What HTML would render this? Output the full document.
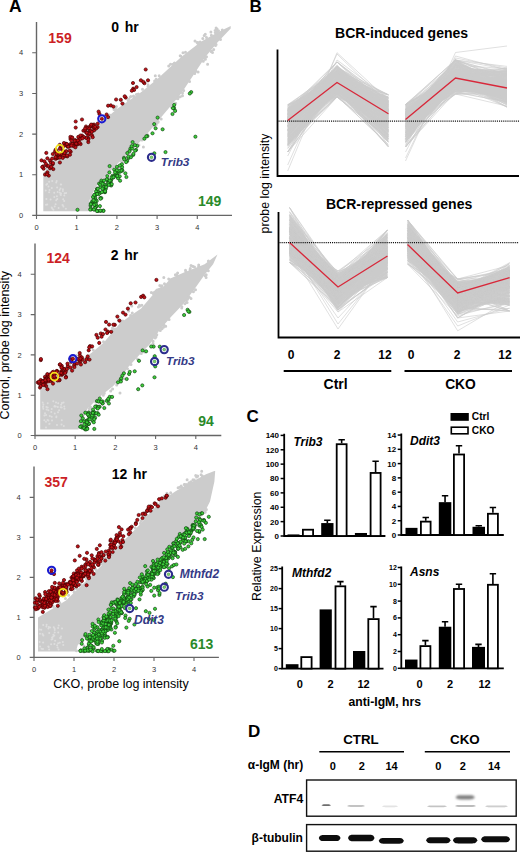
<!DOCTYPE html>
<html><head><meta charset="utf-8"><style>
html,body{margin:0;padding:0;background:#fff;}
svg{display:block;}
</style></head><body>
<svg width="520" height="853" viewBox="0 0 520 853">
<rect width="520" height="853" fill="#fff"/>
<g font-family='"Liberation Sans", sans-serif'>
<text x="9.00" y="11.90" font-size="17.5" font-weight="bold" fill="#000">A</text>
<text x="249.60" y="12.20" font-size="17" font-weight="bold" fill="#000">B</text>
<text x="246.40" y="421.50" font-size="17" font-weight="bold" fill="#000">C</text>
<text x="248.00" y="736.80" font-size="17" font-weight="bold" fill="#000">D</text>
<path d="M36.50 22.00V215.40H232.00" fill="none" stroke="#666" stroke-width="1.4"/>
<path d="M32.20 215.40H36.50M36.50 215.40V219.00" stroke="#666" stroke-width="1.1"/>
<text x="21.00" y="218.00" font-size="7.5" text-anchor="middle" fill="#333">0</text>
<text x="36.50" y="230.20" font-size="7.5" text-anchor="middle" fill="#333">0</text>
<path d="M32.20 174.75H36.50M76.70 215.40V219.00" stroke="#666" stroke-width="1.1"/>
<text x="21.00" y="177.35" font-size="7.5" text-anchor="middle" fill="#333">1</text>
<text x="76.70" y="230.20" font-size="7.5" text-anchor="middle" fill="#333">1</text>
<path d="M32.20 134.10H36.50M116.90 215.40V219.00" stroke="#666" stroke-width="1.1"/>
<text x="21.00" y="136.70" font-size="7.5" text-anchor="middle" fill="#333">2</text>
<text x="116.90" y="230.20" font-size="7.5" text-anchor="middle" fill="#333">2</text>
<path d="M32.20 93.45H36.50M157.10 215.40V219.00" stroke="#666" stroke-width="1.1"/>
<text x="21.00" y="96.05" font-size="7.5" text-anchor="middle" fill="#333">3</text>
<text x="157.10" y="230.20" font-size="7.5" text-anchor="middle" fill="#333">3</text>
<path d="M32.20 52.80H36.50M197.30 215.40V219.00" stroke="#666" stroke-width="1.1"/>
<text x="21.00" y="55.40" font-size="7.5" text-anchor="middle" fill="#333">4</text>
<text x="197.30" y="230.20" font-size="7.5" text-anchor="middle" fill="#333">4</text>
<path d="M43.3 211.3 L43.3 172.7 L60.6 157.7 L84.7 136.9 L116.9 108.9 L141.0 92.2 L157.1 79.2 L181.2 56.9 L201.3 41.4 L217.4 32.5 L230.7 26.0 L230.7 28.4 L217.4 42.6 L205.3 56.9 L193.3 75.2 L181.2 93.5 L169.2 107.7 L157.1 121.9 L147.1 134.1 L135.4 146.7 L123.7 157.3 L113.7 167.8 L103.2 178.0 L95.2 187.4 L89.6 200.0 L88.8 211.3Z" fill="#cccccc"/>
<path d="M69.7 148.2a1.5 1.5 0 1 0 3 0a1.5 1.5 0 1 0-3 0M120.7 162.0a1.5 1.5 0 1 0 3 0a1.5 1.5 0 1 0-3 0M58.1 145.1a1.5 1.5 0 1 0 3 0a1.5 1.5 0 1 0-3 0M103.3 118.1a1.5 1.5 0 1 0 3 0a1.5 1.5 0 1 0-3 0M80.0 139.0a1.5 1.5 0 1 0 3 0a1.5 1.5 0 1 0-3 0M214.6 28.0a1.5 1.5 0 1 0 3 0a1.5 1.5 0 1 0-3 0M142.3 138.1a1.5 1.5 0 1 0 3 0a1.5 1.5 0 1 0-3 0M65.8 150.8a1.5 1.5 0 1 0 3 0a1.5 1.5 0 1 0-3 0M181.0 95.7a1.5 1.5 0 1 0 3 0a1.5 1.5 0 1 0-3 0M85.9 131.0a1.5 1.5 0 1 0 3 0a1.5 1.5 0 1 0-3 0M203.8 34.2a1.5 1.5 0 1 0 3 0a1.5 1.5 0 1 0-3 0M171.0 105.5a1.5 1.5 0 1 0 3 0a1.5 1.5 0 1 0-3 0M95.2 187.4a1.5 1.5 0 1 0 3 0a1.5 1.5 0 1 0-3 0M108.2 114.9a1.5 1.5 0 1 0 3 0a1.5 1.5 0 1 0-3 0M188.1 81.6a1.5 1.5 0 1 0 3 0a1.5 1.5 0 1 0-3 0M205.0 56.7a1.5 1.5 0 1 0 3 0a1.5 1.5 0 1 0-3 0M134.9 94.4a1.5 1.5 0 1 0 3 0a1.5 1.5 0 1 0-3 0M196.5 43.4a1.5 1.5 0 1 0 3 0a1.5 1.5 0 1 0-3 0M169.0 64.2a1.5 1.5 0 1 0 3 0a1.5 1.5 0 1 0-3 0M98.8 182.3a1.5 1.5 0 1 0 3 0a1.5 1.5 0 1 0-3 0M176.6 97.3a1.5 1.5 0 1 0 3 0a1.5 1.5 0 1 0-3 0M171.5 64.2a1.5 1.5 0 1 0 3 0a1.5 1.5 0 1 0-3 0M209.9 35.2a1.5 1.5 0 1 0 3 0a1.5 1.5 0 1 0-3 0M128.4 154.5a1.5 1.5 0 1 0 3 0a1.5 1.5 0 1 0-3 0M198.6 41.9a1.5 1.5 0 1 0 3 0a1.5 1.5 0 1 0-3 0M65.7 147.7a1.5 1.5 0 1 0 3 0a1.5 1.5 0 1 0-3 0M115.1 166.6a1.5 1.5 0 1 0 3 0a1.5 1.5 0 1 0-3 0M88.4 132.2a1.5 1.5 0 1 0 3 0a1.5 1.5 0 1 0-3 0M117.0 167.4a1.5 1.5 0 1 0 3 0a1.5 1.5 0 1 0-3 0M90.0 198.9a1.5 1.5 0 1 0 3 0a1.5 1.5 0 1 0-3 0M220.8 29.9a1.5 1.5 0 1 0 3 0a1.5 1.5 0 1 0-3 0M209.9 51.3a1.5 1.5 0 1 0 3 0a1.5 1.5 0 1 0-3 0M85.0 133.9a1.5 1.5 0 1 0 3 0a1.5 1.5 0 1 0-3 0M154.9 123.6a1.5 1.5 0 1 0 3 0a1.5 1.5 0 1 0-3 0M106.4 176.6a1.5 1.5 0 1 0 3 0a1.5 1.5 0 1 0-3 0M217.0 30.8a1.5 1.5 0 1 0 3 0a1.5 1.5 0 1 0-3 0M106.3 176.2a1.5 1.5 0 1 0 3 0a1.5 1.5 0 1 0-3 0M174.2 103.3a1.5 1.5 0 1 0 3 0a1.5 1.5 0 1 0-3 0M74.8 142.9a1.5 1.5 0 1 0 3 0a1.5 1.5 0 1 0-3 0M193.2 73.5a1.5 1.5 0 1 0 3 0a1.5 1.5 0 1 0-3 0M154.7 124.7a1.5 1.5 0 1 0 3 0a1.5 1.5 0 1 0-3 0M63.5 151.9a1.5 1.5 0 1 0 3 0a1.5 1.5 0 1 0-3 0M146.5 84.8a1.5 1.5 0 1 0 3 0a1.5 1.5 0 1 0-3 0M196.4 42.6a1.5 1.5 0 1 0 3 0a1.5 1.5 0 1 0-3 0M122.1 103.7a1.5 1.5 0 1 0 3 0a1.5 1.5 0 1 0-3 0M154.7 79.2a1.5 1.5 0 1 0 3 0a1.5 1.5 0 1 0-3 0M215.1 32.8a1.5 1.5 0 1 0 3 0a1.5 1.5 0 1 0-3 0M212.2 49.6a1.5 1.5 0 1 0 3 0a1.5 1.5 0 1 0-3 0M201.3 38.6a1.5 1.5 0 1 0 3 0a1.5 1.5 0 1 0-3 0M206.1 64.3a1.5 1.5 0 1 0 3 0a1.5 1.5 0 1 0-3 0M93.8 187.6a1.5 1.5 0 1 0 3 0a1.5 1.5 0 1 0-3 0M141.0 89.2a1.5 1.5 0 1 0 3 0a1.5 1.5 0 1 0-3 0M53.1 161.6a1.5 1.5 0 1 0 3 0a1.5 1.5 0 1 0-3 0M203.9 56.8a1.5 1.5 0 1 0 3 0a1.5 1.5 0 1 0-3 0M214.6 44.4a1.5 1.5 0 1 0 3 0a1.5 1.5 0 1 0-3 0M45.8 168.7a1.5 1.5 0 1 0 3 0a1.5 1.5 0 1 0-3 0M65.1 151.0a1.5 1.5 0 1 0 3 0a1.5 1.5 0 1 0-3 0M209.4 32.1a1.5 1.5 0 1 0 3 0a1.5 1.5 0 1 0-3 0M104.7 178.6a1.5 1.5 0 1 0 3 0a1.5 1.5 0 1 0-3 0M58.4 155.1a1.5 1.5 0 1 0 3 0a1.5 1.5 0 1 0-3 0M91.3 195.9a1.5 1.5 0 1 0 3 0a1.5 1.5 0 1 0-3 0M205.0 37.4a1.5 1.5 0 1 0 3 0a1.5 1.5 0 1 0-3 0M193.5 40.9a1.5 1.5 0 1 0 3 0a1.5 1.5 0 1 0-3 0M132.0 96.0a1.5 1.5 0 1 0 3 0a1.5 1.5 0 1 0-3 0M78.3 141.0a1.5 1.5 0 1 0 3 0a1.5 1.5 0 1 0-3 0M203.7 58.5a1.5 1.5 0 1 0 3 0a1.5 1.5 0 1 0-3 0M48.7 165.9a1.5 1.5 0 1 0 3 0a1.5 1.5 0 1 0-3 0M60.3 155.7a1.5 1.5 0 1 0 3 0a1.5 1.5 0 1 0-3 0M153.1 80.9a1.5 1.5 0 1 0 3 0a1.5 1.5 0 1 0-3 0M50.8 157.7a1.5 1.5 0 1 0 3 0a1.5 1.5 0 1 0-3 0M184.0 52.2a1.5 1.5 0 1 0 3 0a1.5 1.5 0 1 0-3 0M145.8 134.4a1.5 1.5 0 1 0 3 0a1.5 1.5 0 1 0-3 0M114.3 106.9a1.5 1.5 0 1 0 3 0a1.5 1.5 0 1 0-3 0M181.0 93.1a1.5 1.5 0 1 0 3 0a1.5 1.5 0 1 0-3 0M132.3 97.0a1.5 1.5 0 1 0 3 0a1.5 1.5 0 1 0-3 0M153.0 125.9a1.5 1.5 0 1 0 3 0a1.5 1.5 0 1 0-3 0M103.2 178.5a1.5 1.5 0 1 0 3 0a1.5 1.5 0 1 0-3 0M201.8 61.3a1.5 1.5 0 1 0 3 0a1.5 1.5 0 1 0-3 0M196.6 71.9a1.5 1.5 0 1 0 3 0a1.5 1.5 0 1 0-3 0M211.0 52.5a1.5 1.5 0 1 0 3 0a1.5 1.5 0 1 0-3 0M167.2 66.0a1.5 1.5 0 1 0 3 0a1.5 1.5 0 1 0-3 0M128.8 96.9a1.5 1.5 0 1 0 3 0a1.5 1.5 0 1 0-3 0M141.9 147.0a1.5 1.5 0 1 0 3 0a1.5 1.5 0 1 0-3 0M76.2 142.2a1.5 1.5 0 1 0 3 0a1.5 1.5 0 1 0-3 0M159.7 118.9a1.5 1.5 0 1 0 3 0a1.5 1.5 0 1 0-3 0M219.0 39.6a1.5 1.5 0 1 0 3 0a1.5 1.5 0 1 0-3 0M215.6 29.0a1.5 1.5 0 1 0 3 0a1.5 1.5 0 1 0-3 0M176.4 98.8a1.5 1.5 0 1 0 3 0a1.5 1.5 0 1 0-3 0M215.1 31.0a1.5 1.5 0 1 0 3 0a1.5 1.5 0 1 0-3 0M94.8 125.8a1.5 1.5 0 1 0 3 0a1.5 1.5 0 1 0-3 0M156.6 122.3a1.5 1.5 0 1 0 3 0a1.5 1.5 0 1 0-3 0M157.7 75.7a1.5 1.5 0 1 0 3 0a1.5 1.5 0 1 0-3 0M114.9 106.5a1.5 1.5 0 1 0 3 0a1.5 1.5 0 1 0-3 0M213.6 30.4a1.5 1.5 0 1 0 3 0a1.5 1.5 0 1 0-3 0M179.2 56.1a1.5 1.5 0 1 0 3 0a1.5 1.5 0 1 0-3 0M136.8 93.9a1.5 1.5 0 1 0 3 0a1.5 1.5 0 1 0-3 0M169.9 107.0a1.5 1.5 0 1 0 3 0a1.5 1.5 0 1 0-3 0M47.5 166.1a1.5 1.5 0 1 0 3 0a1.5 1.5 0 1 0-3 0M47.4 167.1a1.5 1.5 0 1 0 3 0a1.5 1.5 0 1 0-3 0M209.6 51.5a1.5 1.5 0 1 0 3 0a1.5 1.5 0 1 0-3 0M213.7 32.6a1.5 1.5 0 1 0 3 0a1.5 1.5 0 1 0-3 0M112.5 109.4a1.5 1.5 0 1 0 3 0a1.5 1.5 0 1 0-3 0M156.7 121.4a1.5 1.5 0 1 0 3 0a1.5 1.5 0 1 0-3 0M121.5 160.9a1.5 1.5 0 1 0 3 0a1.5 1.5 0 1 0-3 0M178.7 55.8a1.5 1.5 0 1 0 3 0a1.5 1.5 0 1 0-3 0M114.6 109.5a1.5 1.5 0 1 0 3 0a1.5 1.5 0 1 0-3 0M137.4 145.1a1.5 1.5 0 1 0 3 0a1.5 1.5 0 1 0-3 0M203.9 59.3a1.5 1.5 0 1 0 3 0a1.5 1.5 0 1 0-3 0M202.7 35.5a1.5 1.5 0 1 0 3 0a1.5 1.5 0 1 0-3 0M194.4 71.3a1.5 1.5 0 1 0 3 0a1.5 1.5 0 1 0-3 0M135.7 146.8a1.5 1.5 0 1 0 3 0a1.5 1.5 0 1 0-3 0M90.9 127.4a1.5 1.5 0 1 0 3 0a1.5 1.5 0 1 0-3 0M122.2 157.5a1.5 1.5 0 1 0 3 0a1.5 1.5 0 1 0-3 0M127.3 99.2a1.5 1.5 0 1 0 3 0a1.5 1.5 0 1 0-3 0M153.8 75.7a1.5 1.5 0 1 0 3 0a1.5 1.5 0 1 0-3 0M97.0 183.5a1.5 1.5 0 1 0 3 0a1.5 1.5 0 1 0-3 0M146.4 86.0a1.5 1.5 0 1 0 3 0a1.5 1.5 0 1 0-3 0M129.3 96.6a1.5 1.5 0 1 0 3 0a1.5 1.5 0 1 0-3 0M174.1 110.0a1.5 1.5 0 1 0 3 0a1.5 1.5 0 1 0-3 0M102.0 120.2a1.5 1.5 0 1 0 3 0a1.5 1.5 0 1 0-3 0M119.3 161.0a1.5 1.5 0 1 0 3 0a1.5 1.5 0 1 0-3 0M126.6 100.4a1.5 1.5 0 1 0 3 0a1.5 1.5 0 1 0-3 0M170.1 107.6a1.5 1.5 0 1 0 3 0a1.5 1.5 0 1 0-3 0M114.0 109.3a1.5 1.5 0 1 0 3 0a1.5 1.5 0 1 0-3 0M125.1 157.2a1.5 1.5 0 1 0 3 0a1.5 1.5 0 1 0-3 0M182.2 90.6a1.5 1.5 0 1 0 3 0a1.5 1.5 0 1 0-3 0M175.5 98.5a1.5 1.5 0 1 0 3 0a1.5 1.5 0 1 0-3 0M140.4 140.0a1.5 1.5 0 1 0 3 0a1.5 1.5 0 1 0-3 0M181.5 52.7a1.5 1.5 0 1 0 3 0a1.5 1.5 0 1 0-3 0M195.6 42.4a1.5 1.5 0 1 0 3 0a1.5 1.5 0 1 0-3 0M76.0 143.1a1.5 1.5 0 1 0 3 0a1.5 1.5 0 1 0-3 0M214.0 45.6a1.5 1.5 0 1 0 3 0a1.5 1.5 0 1 0-3 0M178.7 96.7a1.5 1.5 0 1 0 3 0a1.5 1.5 0 1 0-3 0M173.0 63.1a1.5 1.5 0 1 0 3 0a1.5 1.5 0 1 0-3 0M88.4 130.5a1.5 1.5 0 1 0 3 0a1.5 1.5 0 1 0-3 0" fill="#cccccc"/>
<path d="M46.2 204.4a1 1 0 1 0 2 0a1 1 0 1 0-2 0M52.4 209.7a1 1 0 1 0 2 0a1 1 0 1 0-2 0M61.5 205.0a1 1 0 1 0 2 0a1 1 0 1 0-2 0M63.6 193.3a1 1 0 1 0 2 0a1 1 0 1 0-2 0M50.7 207.6a1 1 0 1 0 2 0a1 1 0 1 0-2 0M57.6 208.0a1 1 0 1 0 2 0a1 1 0 1 0-2 0M51.2 180.9a1 1 0 1 0 2 0a1 1 0 1 0-2 0M61.9 189.2a1 1 0 1 0 2 0a1 1 0 1 0-2 0M56.6 191.9a1 1 0 1 0 2 0a1 1 0 1 0-2 0M60.1 184.4a1 1 0 1 0 2 0a1 1 0 1 0-2 0M46.1 183.9a1 1 0 1 0 2 0a1 1 0 1 0-2 0M65.1 192.9a1 1 0 1 0 2 0a1 1 0 1 0-2 0M51.1 208.2a1 1 0 1 0 2 0a1 1 0 1 0-2 0M51.4 208.7a1 1 0 1 0 2 0a1 1 0 1 0-2 0M58.7 192.5a1 1 0 1 0 2 0a1 1 0 1 0-2 0M59.8 184.6a1 1 0 1 0 2 0a1 1 0 1 0-2 0M50.8 188.1a1 1 0 1 0 2 0a1 1 0 1 0-2 0M60.0 193.6a1 1 0 1 0 2 0a1 1 0 1 0-2 0M45.3 184.7a1 1 0 1 0 2 0a1 1 0 1 0-2 0M55.9 196.3a1 1 0 1 0 2 0a1 1 0 1 0-2 0M62.4 206.4a1 1 0 1 0 2 0a1 1 0 1 0-2 0M44.7 190.5a1 1 0 1 0 2 0a1 1 0 1 0-2 0M59.5 194.4a1 1 0 1 0 2 0a1 1 0 1 0-2 0M56.1 187.4a1 1 0 1 0 2 0a1 1 0 1 0-2 0M61.9 191.0a1 1 0 1 0 2 0a1 1 0 1 0-2 0M59.9 195.0a1 1 0 1 0 2 0a1 1 0 1 0-2 0M47.5 186.6a1 1 0 1 0 2 0a1 1 0 1 0-2 0M45.0 204.8a1 1 0 1 0 2 0a1 1 0 1 0-2 0M56.3 199.1a1 1 0 1 0 2 0a1 1 0 1 0-2 0M63.2 201.0a1 1 0 1 0 2 0a1 1 0 1 0-2 0M54.6 204.3a1 1 0 1 0 2 0a1 1 0 1 0-2 0M62.2 199.3a1 1 0 1 0 2 0a1 1 0 1 0-2 0M59.5 188.5a1 1 0 1 0 2 0a1 1 0 1 0-2 0M53.7 206.4a1 1 0 1 0 2 0a1 1 0 1 0-2 0M64.9 208.7a1 1 0 1 0 2 0a1 1 0 1 0-2 0M61.9 205.2a1 1 0 1 0 2 0a1 1 0 1 0-2 0M53.3 196.9a1 1 0 1 0 2 0a1 1 0 1 0-2 0M53.2 192.7a1 1 0 1 0 2 0a1 1 0 1 0-2 0M58.6 190.1a1 1 0 1 0 2 0a1 1 0 1 0-2 0M45.4 199.0a1 1 0 1 0 2 0a1 1 0 1 0-2 0M48.1 181.8a1 1 0 1 0 2 0a1 1 0 1 0-2 0M55.7 181.1a1 1 0 1 0 2 0a1 1 0 1 0-2 0M48.5 189.9a1 1 0 1 0 2 0a1 1 0 1 0-2 0M55.2 200.2a1 1 0 1 0 2 0a1 1 0 1 0-2 0M48.1 192.3a1 1 0 1 0 2 0a1 1 0 1 0-2 0M63.3 195.5a1 1 0 1 0 2 0a1 1 0 1 0-2 0M55.2 182.4a1 1 0 1 0 2 0a1 1 0 1 0-2 0M49.6 199.5a1 1 0 1 0 2 0a1 1 0 1 0-2 0" fill="#dedede"/>
<g fill="#be1016" stroke="#480000" stroke-width="0.7"><circle cx="110.8" cy="105.4" r="1.6"/><circle cx="62.8" cy="150.6" r="1.6"/><circle cx="77.7" cy="140.8" r="1.6"/><circle cx="70.7" cy="151.7" r="1.6"/><circle cx="75.7" cy="127.6" r="1.6"/><circle cx="50.0" cy="160.7" r="1.6"/><circle cx="74.3" cy="143.6" r="1.6"/><circle cx="82.1" cy="135.6" r="1.6"/><circle cx="133.0" cy="83.0" r="1.6"/><circle cx="67.3" cy="156.4" r="1.6"/><circle cx="88.3" cy="142.1" r="1.6"/><circle cx="46.9" cy="165.8" r="1.6"/><circle cx="75.1" cy="140.1" r="1.6"/><circle cx="144.4" cy="83.2" r="1.6"/><circle cx="75.7" cy="121.5" r="1.6"/><circle cx="88.2" cy="135.0" r="1.6"/><circle cx="70.0" cy="154.7" r="1.6"/><circle cx="48.8" cy="175.6" r="1.6"/><circle cx="86.0" cy="126.5" r="1.6"/><circle cx="64.3" cy="153.6" r="1.6"/><circle cx="113.4" cy="106.6" r="1.6"/><circle cx="55.6" cy="149.8" r="1.6"/><circle cx="52.6" cy="164.3" r="1.6"/><circle cx="91.6" cy="125.6" r="1.6"/><circle cx="47.4" cy="158.3" r="1.6"/><circle cx="125.7" cy="97.6" r="1.6"/><circle cx="56.7" cy="155.9" r="1.6"/><circle cx="46.3" cy="152.9" r="1.6"/><circle cx="108.1" cy="117.1" r="1.6"/><circle cx="78.3" cy="136.9" r="1.6"/><circle cx="97.6" cy="127.1" r="1.6"/><circle cx="89.4" cy="127.0" r="1.6"/><circle cx="56.2" cy="158.2" r="1.6"/><circle cx="80.6" cy="144.1" r="1.6"/><circle cx="143.2" cy="81.8" r="1.6"/><circle cx="86.8" cy="128.1" r="1.6"/><circle cx="47.4" cy="172.3" r="1.6"/><circle cx="73.1" cy="144.7" r="1.6"/><circle cx="89.4" cy="128.6" r="1.6"/><circle cx="71.9" cy="137.5" r="1.6"/><circle cx="88.5" cy="138.4" r="1.6"/><circle cx="83.4" cy="130.7" r="1.6"/><circle cx="56.4" cy="158.4" r="1.6"/><circle cx="60.2" cy="156.2" r="1.6"/><circle cx="106.6" cy="114.5" r="1.6"/><circle cx="59.8" cy="144.8" r="1.6"/><circle cx="48.4" cy="165.9" r="1.6"/><circle cx="45.1" cy="174.6" r="1.6"/><circle cx="95.5" cy="127.8" r="1.6"/><circle cx="59.9" cy="162.5" r="1.6"/><circle cx="92.9" cy="124.8" r="1.6"/><circle cx="133.2" cy="88.7" r="1.6"/><circle cx="43.2" cy="166.4" r="1.6"/><circle cx="89.9" cy="130.9" r="1.6"/><circle cx="77.2" cy="144.5" r="1.6"/><circle cx="99.4" cy="113.9" r="1.6"/><circle cx="64.2" cy="153.9" r="1.6"/><circle cx="68.0" cy="145.2" r="1.6"/><circle cx="98.6" cy="111.6" r="1.6"/><circle cx="80.8" cy="137.9" r="1.6"/><circle cx="50.1" cy="168.3" r="1.6"/><circle cx="70.5" cy="138.9" r="1.6"/><circle cx="94.1" cy="130.3" r="1.6"/><circle cx="94.5" cy="127.2" r="1.6"/><circle cx="80.2" cy="139.1" r="1.6"/><circle cx="67.3" cy="146.4" r="1.6"/><circle cx="94.1" cy="124.6" r="1.6"/><circle cx="60.8" cy="154.1" r="1.6"/><circle cx="75.9" cy="144.2" r="1.6"/><circle cx="92.2" cy="126.2" r="1.6"/><circle cx="67.6" cy="145.8" r="1.6"/><circle cx="64.4" cy="152.1" r="1.6"/><circle cx="43.6" cy="168.7" r="1.6"/><circle cx="89.2" cy="133.5" r="1.6"/><circle cx="80.5" cy="135.5" r="1.6"/><circle cx="55.5" cy="158.7" r="1.6"/><circle cx="65.8" cy="143.7" r="1.6"/><circle cx="63.9" cy="143.0" r="1.6"/><circle cx="41.5" cy="160.4" r="1.6"/><circle cx="85.4" cy="130.5" r="1.6"/><circle cx="53.3" cy="169.1" r="1.6"/><circle cx="116.1" cy="99.5" r="1.6"/><circle cx="93.8" cy="128.1" r="1.6"/><circle cx="90.6" cy="130.9" r="1.6"/><circle cx="90.8" cy="125.6" r="1.6"/><circle cx="93.7" cy="126.0" r="1.6"/><circle cx="57.9" cy="157.8" r="1.6"/><circle cx="91.2" cy="124.6" r="1.6"/><circle cx="55.0" cy="151.6" r="1.6"/><circle cx="82.0" cy="119.5" r="1.6"/><circle cx="63.9" cy="145.9" r="1.6"/><circle cx="88.2" cy="139.5" r="1.6"/><circle cx="124.7" cy="96.3" r="1.6"/><circle cx="72.8" cy="145.0" r="1.6"/><circle cx="73.3" cy="144.0" r="1.6"/><circle cx="74.8" cy="140.7" r="1.6"/><circle cx="86.1" cy="137.9" r="1.6"/><circle cx="66.1" cy="144.4" r="1.6"/><circle cx="134.1" cy="89.9" r="1.6"/><circle cx="45.9" cy="163.8" r="1.6"/><circle cx="70.3" cy="145.3" r="1.6"/><circle cx="92.0" cy="135.4" r="1.6"/><circle cx="108.1" cy="105.7" r="1.6"/><circle cx="86.2" cy="132.5" r="1.6"/><circle cx="51.0" cy="162.7" r="1.6"/><circle cx="66.2" cy="151.2" r="1.6"/><circle cx="64.8" cy="156.2" r="1.6"/><circle cx="69.7" cy="150.7" r="1.6"/><circle cx="56.2" cy="157.4" r="1.6"/><circle cx="60.6" cy="148.0" r="1.6"/><circle cx="120.8" cy="99.8" r="1.6"/><circle cx="52.1" cy="158.7" r="1.6"/><circle cx="56.8" cy="151.4" r="1.6"/><circle cx="53.0" cy="163.1" r="1.6"/><circle cx="140.9" cy="80.3" r="1.6"/><circle cx="77.4" cy="144.0" r="1.6"/><circle cx="68.9" cy="146.6" r="1.6"/><circle cx="96.1" cy="128.5" r="1.6"/><circle cx="51.2" cy="166.9" r="1.6"/><circle cx="83.9" cy="137.0" r="1.6"/><circle cx="70.4" cy="136.9" r="1.6"/><circle cx="68.2" cy="146.6" r="1.6"/><circle cx="64.0" cy="155.4" r="1.6"/><circle cx="76.2" cy="143.7" r="1.6"/><circle cx="79.5" cy="142.7" r="1.6"/><circle cx="44.4" cy="161.3" r="1.6"/><circle cx="64.6" cy="153.0" r="1.6"/><circle cx="131.8" cy="90.7" r="1.6"/><circle cx="122.4" cy="103.6" r="1.6"/><circle cx="67.0" cy="155.5" r="1.6"/><circle cx="85.1" cy="128.5" r="1.6"/><circle cx="73.5" cy="146.1" r="1.6"/><circle cx="70.8" cy="143.8" r="1.6"/><circle cx="75.4" cy="147.3" r="1.6"/><circle cx="62.7" cy="157.9" r="1.6"/><circle cx="82.4" cy="138.3" r="1.6"/><circle cx="42.2" cy="167.0" r="1.6"/><circle cx="72.2" cy="144.0" r="1.6"/><circle cx="94.3" cy="127.3" r="1.6"/><circle cx="57.4" cy="153.9" r="1.6"/><circle cx="52.8" cy="154.0" r="1.6"/><circle cx="55.4" cy="157.1" r="1.6"/><circle cx="59.3" cy="153.7" r="1.6"/><circle cx="71.4" cy="145.6" r="1.6"/><circle cx="47.0" cy="174.3" r="1.6"/><circle cx="56.5" cy="153.7" r="1.6"/><circle cx="97.7" cy="123.6" r="1.6"/><circle cx="95.2" cy="126.7" r="1.6"/><circle cx="145.7" cy="69.5" r="1.6"/><circle cx="91.8" cy="131.9" r="1.6"/><circle cx="71.4" cy="140.5" r="1.6"/><circle cx="86.7" cy="132.8" r="1.6"/><circle cx="59.8" cy="157.6" r="1.6"/><circle cx="77.8" cy="140.3" r="1.6"/><circle cx="72.2" cy="137.6" r="1.6"/><circle cx="66.9" cy="144.0" r="1.6"/><circle cx="92.7" cy="137.2" r="1.6"/><circle cx="148.0" cy="80.3" r="1.6"/><circle cx="136.6" cy="87.1" r="1.6"/></g>
<g fill="#3cd03a" stroke="#0e3e0e" stroke-width="0.65"><circle cx="93.0" cy="202.4" r="1.6"/><circle cx="95.4" cy="201.1" r="1.6"/><circle cx="117.5" cy="173.4" r="1.6"/><circle cx="113.4" cy="177.4" r="1.6"/><circle cx="122.4" cy="170.6" r="1.6"/><circle cx="99.3" cy="193.2" r="1.6"/><circle cx="124.0" cy="157.8" r="1.6"/><circle cx="100.3" cy="192.8" r="1.6"/><circle cx="111.2" cy="179.8" r="1.6"/><circle cx="105.0" cy="192.2" r="1.6"/><circle cx="125.4" cy="173.3" r="1.6"/><circle cx="95.2" cy="197.4" r="1.6"/><circle cx="136.1" cy="149.9" r="1.6"/><circle cx="90.6" cy="205.7" r="1.6"/><circle cx="112.4" cy="175.9" r="1.6"/><circle cx="121.9" cy="169.5" r="1.6"/><circle cx="195.4" cy="136.7" r="1.6"/><circle cx="92.0" cy="201.7" r="1.6"/><circle cx="91.4" cy="209.3" r="1.6"/><circle cx="132.6" cy="142.1" r="1.6"/><circle cx="104.8" cy="192.0" r="1.6"/><circle cx="191.2" cy="92.1" r="1.6"/><circle cx="95.7" cy="199.7" r="1.6"/><circle cx="114.7" cy="175.6" r="1.6"/><circle cx="174.0" cy="107.9" r="1.6"/><circle cx="90.9" cy="203.7" r="1.6"/><circle cx="104.8" cy="184.7" r="1.6"/><circle cx="107.3" cy="179.8" r="1.6"/><circle cx="133.2" cy="154.9" r="1.6"/><circle cx="111.2" cy="185.5" r="1.6"/><circle cx="147.4" cy="136.1" r="1.6"/><circle cx="120.1" cy="171.7" r="1.6"/><circle cx="113.4" cy="176.7" r="1.6"/><circle cx="157.6" cy="117.6" r="1.6"/><circle cx="116.0" cy="173.5" r="1.6"/><circle cx="103.3" cy="188.9" r="1.6"/><circle cx="98.7" cy="194.2" r="1.6"/><circle cx="97.8" cy="190.9" r="1.6"/><circle cx="93.3" cy="202.7" r="1.6"/><circle cx="90.8" cy="208.5" r="1.6"/><circle cx="102.5" cy="182.5" r="1.6"/><circle cx="122.1" cy="167.1" r="1.6"/><circle cx="128.4" cy="158.1" r="1.6"/><circle cx="130.9" cy="157.2" r="1.6"/><circle cx="130.4" cy="148.7" r="1.6"/><circle cx="110.6" cy="181.6" r="1.6"/><circle cx="97.0" cy="189.0" r="1.6"/><circle cx="109.6" cy="166.1" r="1.6"/><circle cx="117.4" cy="175.6" r="1.6"/><circle cx="98.0" cy="211.0" r="1.6"/><circle cx="108.1" cy="180.7" r="1.6"/><circle cx="93.5" cy="201.8" r="1.6"/><circle cx="108.6" cy="182.2" r="1.6"/><circle cx="94.2" cy="203.4" r="1.6"/><circle cx="110.6" cy="180.4" r="1.6"/><circle cx="132.1" cy="148.5" r="1.6"/><circle cx="103.4" cy="187.0" r="1.6"/><circle cx="96.7" cy="201.0" r="1.6"/><circle cx="110.5" cy="184.6" r="1.6"/><circle cx="105.7" cy="189.0" r="1.6"/><circle cx="108.2" cy="183.3" r="1.6"/><circle cx="105.7" cy="186.5" r="1.6"/><circle cx="111.7" cy="177.6" r="1.6"/><circle cx="120.1" cy="180.7" r="1.6"/><circle cx="95.9" cy="206.4" r="1.6"/><circle cx="154.3" cy="153.3" r="1.6"/><circle cx="128.3" cy="156.6" r="1.6"/><circle cx="174.2" cy="104.9" r="1.6"/><circle cx="95.8" cy="207.2" r="1.6"/><circle cx="95.4" cy="203.0" r="1.6"/><circle cx="119.7" cy="176.3" r="1.6"/><circle cx="137.2" cy="145.8" r="1.6"/><circle cx="101.9" cy="192.1" r="1.6"/><circle cx="96.0" cy="191.4" r="1.6"/><circle cx="94.4" cy="209.5" r="1.6"/><circle cx="134.9" cy="145.2" r="1.6"/><circle cx="165.5" cy="152.1" r="1.6"/><circle cx="101.4" cy="180.6" r="1.6"/><circle cx="90.2" cy="209.6" r="1.6"/><circle cx="106.8" cy="179.3" r="1.6"/><circle cx="99.1" cy="183.6" r="1.6"/><circle cx="104.0" cy="180.6" r="1.6"/><circle cx="95.8" cy="194.2" r="1.6"/><circle cx="116.9" cy="166.8" r="1.6"/><circle cx="94.6" cy="195.5" r="1.6"/><circle cx="144.4" cy="138.7" r="1.6"/><circle cx="175.1" cy="110.9" r="1.6"/><circle cx="162.6" cy="129.3" r="1.6"/><circle cx="135.1" cy="150.7" r="1.6"/><circle cx="107.3" cy="176.1" r="1.6"/><circle cx="108.4" cy="183.2" r="1.6"/><circle cx="97.0" cy="211.1" r="1.6"/><circle cx="121.1" cy="170.6" r="1.6"/><circle cx="100.4" cy="198.1" r="1.6"/><circle cx="101.3" cy="198.0" r="1.6"/><circle cx="97.1" cy="194.0" r="1.6"/><circle cx="94.9" cy="201.3" r="1.6"/><circle cx="108.8" cy="184.9" r="1.6"/><circle cx="101.0" cy="182.7" r="1.6"/><circle cx="118.6" cy="170.6" r="1.6"/><circle cx="152.5" cy="133.3" r="1.6"/><circle cx="121.9" cy="164.3" r="1.6"/><circle cx="100.5" cy="198.7" r="1.6"/><circle cx="93.0" cy="197.0" r="1.6"/><circle cx="96.5" cy="205.9" r="1.6"/><circle cx="105.1" cy="191.2" r="1.6"/><circle cx="103.4" cy="210.6" r="1.6"/><circle cx="118.0" cy="178.2" r="1.6"/><circle cx="131.6" cy="146.2" r="1.6"/><circle cx="95.8" cy="204.2" r="1.6"/><circle cx="172.5" cy="114.0" r="1.6"/><circle cx="146.3" cy="136.3" r="1.6"/><circle cx="113.5" cy="177.2" r="1.6"/><circle cx="133.4" cy="153.9" r="1.6"/><circle cx="77.5" cy="209.8" r="1.6"/><circle cx="119.8" cy="165.5" r="1.6"/><circle cx="111.8" cy="184.1" r="1.6"/><circle cx="114.2" cy="169.6" r="1.6"/><circle cx="103.4" cy="210.9" r="1.6"/><circle cx="154.2" cy="124.1" r="1.6"/><circle cx="173.0" cy="108.2" r="1.6"/><circle cx="116.8" cy="170.3" r="1.6"/><circle cx="99.9" cy="206.1" r="1.6"/><circle cx="90.8" cy="204.2" r="1.6"/><circle cx="100.4" cy="187.1" r="1.6"/><circle cx="127.2" cy="161.0" r="1.6"/><circle cx="94.3" cy="204.9" r="1.6"/><circle cx="126.1" cy="162.1" r="1.6"/><circle cx="189.8" cy="93.5" r="1.6"/><circle cx="106.2" cy="187.1" r="1.6"/><circle cx="115.0" cy="172.4" r="1.6"/><circle cx="129.5" cy="151.2" r="1.6"/><circle cx="94.3" cy="194.9" r="1.6"/><circle cx="93.6" cy="200.3" r="1.6"/><circle cx="100.6" cy="210.9" r="1.6"/><circle cx="155.6" cy="128.3" r="1.6"/><circle cx="117.3" cy="176.0" r="1.6"/><circle cx="127.3" cy="153.1" r="1.6"/><circle cx="100.3" cy="210.6" r="1.6"/><circle cx="95.1" cy="208.0" r="1.6"/><circle cx="102.4" cy="188.7" r="1.6"/><circle cx="109.7" cy="180.6" r="1.6"/><circle cx="100.2" cy="184.6" r="1.6"/><circle cx="126.4" cy="177.0" r="1.6"/><circle cx="109.4" cy="172.4" r="1.6"/><circle cx="102.6" cy="183.8" r="1.6"/><circle cx="97.8" cy="188.8" r="1.6"/><circle cx="124.2" cy="159.2" r="1.6"/><circle cx="93.9" cy="209.5" r="1.6"/></g>
<circle cx="59.8" cy="148.8" r="1.6" fill="#be1016" stroke="#480000" stroke-width="0.6"/>
<circle cx="59.8" cy="148.8" r="3.9" fill="none" stroke="#f2e21c" stroke-width="1.8"/>
<circle cx="101.8" cy="118.8" r="1.6" fill="#be1016" stroke="#480000" stroke-width="0.6"/>
<circle cx="101.8" cy="118.8" r="3.6" fill="none" stroke="#1a1ad0" stroke-width="2.1"/>
<circle cx="151.5" cy="157.3" r="1.4" fill="#7ad86a" stroke="#3a7a3a" stroke-width="0.5"/>
<circle cx="151.5" cy="157.3" r="3.6" fill="none" stroke="#2c2c8c" stroke-width="2.1"/>
<text x="160.80" y="165.90" font-size="11.8" font-weight="bold" font-style="italic" fill="#343a86">Trib3</text>
<path d="M35.00 243.50V435.50H221.30" fill="none" stroke="#666" stroke-width="1.4"/>
<path d="M30.70 435.50H35.00M35.00 435.50V439.10" stroke="#666" stroke-width="1.1"/>
<text x="19.50" y="438.10" font-size="7.5" text-anchor="middle" fill="#333">0</text>
<text x="35.00" y="450.30" font-size="7.5" text-anchor="middle" fill="#333">0</text>
<path d="M30.70 395.20H35.00M75.20 435.50V439.10" stroke="#666" stroke-width="1.1"/>
<text x="19.50" y="397.80" font-size="7.5" text-anchor="middle" fill="#333">1</text>
<text x="75.20" y="450.30" font-size="7.5" text-anchor="middle" fill="#333">1</text>
<path d="M30.70 354.90H35.00M115.40 435.50V439.10" stroke="#666" stroke-width="1.1"/>
<text x="19.50" y="357.50" font-size="7.5" text-anchor="middle" fill="#333">2</text>
<text x="115.40" y="450.30" font-size="7.5" text-anchor="middle" fill="#333">2</text>
<path d="M30.70 314.60H35.00M155.60 435.50V439.10" stroke="#666" stroke-width="1.1"/>
<text x="19.50" y="317.20" font-size="7.5" text-anchor="middle" fill="#333">3</text>
<text x="155.60" y="450.30" font-size="7.5" text-anchor="middle" fill="#333">3</text>
<path d="M30.70 274.30H35.00M195.80 435.50V439.10" stroke="#666" stroke-width="1.1"/>
<text x="19.50" y="276.90" font-size="7.5" text-anchor="middle" fill="#333">4</text>
<text x="195.80" y="450.30" font-size="7.5" text-anchor="middle" fill="#333">4</text>
<path d="M40.2 429.5 L40.2 390.0 L55.1 378.3 L72.0 366.2 L91.3 352.9 L103.7 342.8 L119.8 323.5 L128.7 317.0 L141.1 308.6 L154.0 293.6 L162.4 287.6 L170.9 278.3 L183.3 272.7 L204.6 264.2 L217.5 254.6 L217.5 254.6 L213.1 264.2 L204.6 274.7 L194.2 289.6 L183.3 304.1 L170.9 317.0 L160.0 329.5 L149.6 344.4 L141.1 352.9 L128.3 367.0 L121.0 377.5 L113.0 386.3 L103.7 393.6 L95.7 400.4 L87.7 408.5 L82.0 421.0 L78.4 429.5Z" fill="#cccccc"/>
<path d="M137.9 305.2a1.5 1.5 0 1 0 3 0a1.5 1.5 0 1 0-3 0M151.7 293.6a1.5 1.5 0 1 0 3 0a1.5 1.5 0 1 0-3 0M89.0 406.9a1.5 1.5 0 1 0 3 0a1.5 1.5 0 1 0-3 0M73.1 359.2a1.5 1.5 0 1 0 3 0a1.5 1.5 0 1 0-3 0M102.0 341.7a1.5 1.5 0 1 0 3 0a1.5 1.5 0 1 0-3 0M75.6 360.1a1.5 1.5 0 1 0 3 0a1.5 1.5 0 1 0-3 0M154.5 336.8a1.5 1.5 0 1 0 3 0a1.5 1.5 0 1 0-3 0M111.5 330.4a1.5 1.5 0 1 0 3 0a1.5 1.5 0 1 0-3 0M41.8 385.7a1.5 1.5 0 1 0 3 0a1.5 1.5 0 1 0-3 0M158.6 288.9a1.5 1.5 0 1 0 3 0a1.5 1.5 0 1 0-3 0M66.4 368.8a1.5 1.5 0 1 0 3 0a1.5 1.5 0 1 0-3 0M155.3 334.8a1.5 1.5 0 1 0 3 0a1.5 1.5 0 1 0-3 0M149.8 292.6a1.5 1.5 0 1 0 3 0a1.5 1.5 0 1 0-3 0M186.2 298.3a1.5 1.5 0 1 0 3 0a1.5 1.5 0 1 0-3 0M41.7 382.1a1.5 1.5 0 1 0 3 0a1.5 1.5 0 1 0-3 0M187.2 297.3a1.5 1.5 0 1 0 3 0a1.5 1.5 0 1 0-3 0M158.8 330.5a1.5 1.5 0 1 0 3 0a1.5 1.5 0 1 0-3 0M164.2 326.3a1.5 1.5 0 1 0 3 0a1.5 1.5 0 1 0-3 0M189.5 265.6a1.5 1.5 0 1 0 3 0a1.5 1.5 0 1 0-3 0M156.0 290.0a1.5 1.5 0 1 0 3 0a1.5 1.5 0 1 0-3 0M87.3 411.3a1.5 1.5 0 1 0 3 0a1.5 1.5 0 1 0-3 0M74.9 355.5a1.5 1.5 0 1 0 3 0a1.5 1.5 0 1 0-3 0M191.4 266.5a1.5 1.5 0 1 0 3 0a1.5 1.5 0 1 0-3 0M184.0 270.2a1.5 1.5 0 1 0 3 0a1.5 1.5 0 1 0-3 0M175.2 275.2a1.5 1.5 0 1 0 3 0a1.5 1.5 0 1 0-3 0M130.3 306.1a1.5 1.5 0 1 0 3 0a1.5 1.5 0 1 0-3 0M88.9 407.3a1.5 1.5 0 1 0 3 0a1.5 1.5 0 1 0-3 0M77.6 360.0a1.5 1.5 0 1 0 3 0a1.5 1.5 0 1 0-3 0M60.9 371.6a1.5 1.5 0 1 0 3 0a1.5 1.5 0 1 0-3 0M153.9 337.7a1.5 1.5 0 1 0 3 0a1.5 1.5 0 1 0-3 0M151.6 341.2a1.5 1.5 0 1 0 3 0a1.5 1.5 0 1 0-3 0M153.8 338.1a1.5 1.5 0 1 0 3 0a1.5 1.5 0 1 0-3 0M113.5 329.1a1.5 1.5 0 1 0 3 0a1.5 1.5 0 1 0-3 0M206.8 270.8a1.5 1.5 0 1 0 3 0a1.5 1.5 0 1 0-3 0M152.2 292.7a1.5 1.5 0 1 0 3 0a1.5 1.5 0 1 0-3 0M118.5 393.0a1.5 1.5 0 1 0 3 0a1.5 1.5 0 1 0-3 0M50.5 379.2a1.5 1.5 0 1 0 3 0a1.5 1.5 0 1 0-3 0M184.2 271.3a1.5 1.5 0 1 0 3 0a1.5 1.5 0 1 0-3 0M85.2 412.6a1.5 1.5 0 1 0 3 0a1.5 1.5 0 1 0-3 0M97.4 402.8a1.5 1.5 0 1 0 3 0a1.5 1.5 0 1 0-3 0M160.1 288.1a1.5 1.5 0 1 0 3 0a1.5 1.5 0 1 0-3 0M173.9 274.8a1.5 1.5 0 1 0 3 0a1.5 1.5 0 1 0-3 0M72.9 364.2a1.5 1.5 0 1 0 3 0a1.5 1.5 0 1 0-3 0M191.3 266.3a1.5 1.5 0 1 0 3 0a1.5 1.5 0 1 0-3 0M160.4 328.8a1.5 1.5 0 1 0 3 0a1.5 1.5 0 1 0-3 0M197.1 266.3a1.5 1.5 0 1 0 3 0a1.5 1.5 0 1 0-3 0M191.9 291.7a1.5 1.5 0 1 0 3 0a1.5 1.5 0 1 0-3 0M159.9 328.0a1.5 1.5 0 1 0 3 0a1.5 1.5 0 1 0-3 0M206.9 260.9a1.5 1.5 0 1 0 3 0a1.5 1.5 0 1 0-3 0M129.5 364.5a1.5 1.5 0 1 0 3 0a1.5 1.5 0 1 0-3 0M80.1 424.1a1.5 1.5 0 1 0 3 0a1.5 1.5 0 1 0-3 0M183.4 303.7a1.5 1.5 0 1 0 3 0a1.5 1.5 0 1 0-3 0M197.2 264.9a1.5 1.5 0 1 0 3 0a1.5 1.5 0 1 0-3 0M119.2 322.4a1.5 1.5 0 1 0 3 0a1.5 1.5 0 1 0-3 0M68.2 364.1a1.5 1.5 0 1 0 3 0a1.5 1.5 0 1 0-3 0M167.2 278.9a1.5 1.5 0 1 0 3 0a1.5 1.5 0 1 0-3 0M139.8 353.6a1.5 1.5 0 1 0 3 0a1.5 1.5 0 1 0-3 0M154.8 290.7a1.5 1.5 0 1 0 3 0a1.5 1.5 0 1 0-3 0M204.6 277.5a1.5 1.5 0 1 0 3 0a1.5 1.5 0 1 0-3 0M153.1 292.2a1.5 1.5 0 1 0 3 0a1.5 1.5 0 1 0-3 0M48.0 381.0a1.5 1.5 0 1 0 3 0a1.5 1.5 0 1 0-3 0M180.4 306.8a1.5 1.5 0 1 0 3 0a1.5 1.5 0 1 0-3 0M162.3 277.6a1.5 1.5 0 1 0 3 0a1.5 1.5 0 1 0-3 0M162.5 325.3a1.5 1.5 0 1 0 3 0a1.5 1.5 0 1 0-3 0M127.1 311.1a1.5 1.5 0 1 0 3 0a1.5 1.5 0 1 0-3 0M111.1 389.0a1.5 1.5 0 1 0 3 0a1.5 1.5 0 1 0-3 0M88.6 406.8a1.5 1.5 0 1 0 3 0a1.5 1.5 0 1 0-3 0M81.3 358.0a1.5 1.5 0 1 0 3 0a1.5 1.5 0 1 0-3 0M168.1 279.5a1.5 1.5 0 1 0 3 0a1.5 1.5 0 1 0-3 0M188.8 268.4a1.5 1.5 0 1 0 3 0a1.5 1.5 0 1 0-3 0M185.6 302.6a1.5 1.5 0 1 0 3 0a1.5 1.5 0 1 0-3 0M126.0 368.7a1.5 1.5 0 1 0 3 0a1.5 1.5 0 1 0-3 0M138.4 305.9a1.5 1.5 0 1 0 3 0a1.5 1.5 0 1 0-3 0M160.5 328.8a1.5 1.5 0 1 0 3 0a1.5 1.5 0 1 0-3 0M187.7 296.9a1.5 1.5 0 1 0 3 0a1.5 1.5 0 1 0-3 0M163.0 283.7a1.5 1.5 0 1 0 3 0a1.5 1.5 0 1 0-3 0M60.7 371.2a1.5 1.5 0 1 0 3 0a1.5 1.5 0 1 0-3 0M91.7 350.1a1.5 1.5 0 1 0 3 0a1.5 1.5 0 1 0-3 0M53.2 376.8a1.5 1.5 0 1 0 3 0a1.5 1.5 0 1 0-3 0M41.9 386.6a1.5 1.5 0 1 0 3 0a1.5 1.5 0 1 0-3 0M193.0 267.1a1.5 1.5 0 1 0 3 0a1.5 1.5 0 1 0-3 0M94.3 402.0a1.5 1.5 0 1 0 3 0a1.5 1.5 0 1 0-3 0M157.1 289.4a1.5 1.5 0 1 0 3 0a1.5 1.5 0 1 0-3 0M90.0 347.6a1.5 1.5 0 1 0 3 0a1.5 1.5 0 1 0-3 0M194.0 289.8a1.5 1.5 0 1 0 3 0a1.5 1.5 0 1 0-3 0M58.8 371.4a1.5 1.5 0 1 0 3 0a1.5 1.5 0 1 0-3 0M115.2 384.9a1.5 1.5 0 1 0 3 0a1.5 1.5 0 1 0-3 0M58.2 373.2a1.5 1.5 0 1 0 3 0a1.5 1.5 0 1 0-3 0M42.7 383.1a1.5 1.5 0 1 0 3 0a1.5 1.5 0 1 0-3 0M140.4 305.2a1.5 1.5 0 1 0 3 0a1.5 1.5 0 1 0-3 0M155.6 290.1a1.5 1.5 0 1 0 3 0a1.5 1.5 0 1 0-3 0M184.7 300.5a1.5 1.5 0 1 0 3 0a1.5 1.5 0 1 0-3 0M101.8 395.2a1.5 1.5 0 1 0 3 0a1.5 1.5 0 1 0-3 0M186.0 299.3a1.5 1.5 0 1 0 3 0a1.5 1.5 0 1 0-3 0M176.1 273.1a1.5 1.5 0 1 0 3 0a1.5 1.5 0 1 0-3 0M167.6 319.5a1.5 1.5 0 1 0 3 0a1.5 1.5 0 1 0-3 0M111.0 328.1a1.5 1.5 0 1 0 3 0a1.5 1.5 0 1 0-3 0M122.3 378.7a1.5 1.5 0 1 0 3 0a1.5 1.5 0 1 0-3 0M119.0 321.0a1.5 1.5 0 1 0 3 0a1.5 1.5 0 1 0-3 0M88.4 411.2a1.5 1.5 0 1 0 3 0a1.5 1.5 0 1 0-3 0M188.6 269.8a1.5 1.5 0 1 0 3 0a1.5 1.5 0 1 0-3 0M110.1 332.9a1.5 1.5 0 1 0 3 0a1.5 1.5 0 1 0-3 0M135.9 359.0a1.5 1.5 0 1 0 3 0a1.5 1.5 0 1 0-3 0M78.6 426.8a1.5 1.5 0 1 0 3 0a1.5 1.5 0 1 0-3 0M102.8 393.3a1.5 1.5 0 1 0 3 0a1.5 1.5 0 1 0-3 0M203.7 275.8a1.5 1.5 0 1 0 3 0a1.5 1.5 0 1 0-3 0M130.8 313.1a1.5 1.5 0 1 0 3 0a1.5 1.5 0 1 0-3 0M129.1 315.5a1.5 1.5 0 1 0 3 0a1.5 1.5 0 1 0-3 0M54.5 374.5a1.5 1.5 0 1 0 3 0a1.5 1.5 0 1 0-3 0M160.4 285.8a1.5 1.5 0 1 0 3 0a1.5 1.5 0 1 0-3 0M136.9 307.1a1.5 1.5 0 1 0 3 0a1.5 1.5 0 1 0-3 0M74.0 362.8a1.5 1.5 0 1 0 3 0a1.5 1.5 0 1 0-3 0M87.9 408.8a1.5 1.5 0 1 0 3 0a1.5 1.5 0 1 0-3 0M189.5 298.6a1.5 1.5 0 1 0 3 0a1.5 1.5 0 1 0-3 0M204.7 274.7a1.5 1.5 0 1 0 3 0a1.5 1.5 0 1 0-3 0M143.8 351.5a1.5 1.5 0 1 0 3 0a1.5 1.5 0 1 0-3 0M180.2 307.9a1.5 1.5 0 1 0 3 0a1.5 1.5 0 1 0-3 0M50.1 376.3a1.5 1.5 0 1 0 3 0a1.5 1.5 0 1 0-3 0M151.5 343.4a1.5 1.5 0 1 0 3 0a1.5 1.5 0 1 0-3 0M73.2 362.6a1.5 1.5 0 1 0 3 0a1.5 1.5 0 1 0-3 0M111.5 330.4a1.5 1.5 0 1 0 3 0a1.5 1.5 0 1 0-3 0M185.0 302.5a1.5 1.5 0 1 0 3 0a1.5 1.5 0 1 0-3 0M109.2 391.1a1.5 1.5 0 1 0 3 0a1.5 1.5 0 1 0-3 0M153.8 292.0a1.5 1.5 0 1 0 3 0a1.5 1.5 0 1 0-3 0M116.9 319.9a1.5 1.5 0 1 0 3 0a1.5 1.5 0 1 0-3 0M158.3 285.4a1.5 1.5 0 1 0 3 0a1.5 1.5 0 1 0-3 0M161.9 327.3a1.5 1.5 0 1 0 3 0a1.5 1.5 0 1 0-3 0M121.4 321.1a1.5 1.5 0 1 0 3 0a1.5 1.5 0 1 0-3 0M143.0 352.0a1.5 1.5 0 1 0 3 0a1.5 1.5 0 1 0-3 0" fill="#cccccc"/>
<path d="M60.1 404.8a1 1 0 1 0 2 0a1 1 0 1 0-2 0M60.7 407.4a1 1 0 1 0 2 0a1 1 0 1 0-2 0M46.5 420.0a1 1 0 1 0 2 0a1 1 0 1 0-2 0M42.0 407.0a1 1 0 1 0 2 0a1 1 0 1 0-2 0M60.9 402.9a1 1 0 1 0 2 0a1 1 0 1 0-2 0M54.8 406.6a1 1 0 1 0 2 0a1 1 0 1 0-2 0M60.5 424.6a1 1 0 1 0 2 0a1 1 0 1 0-2 0M42.4 404.5a1 1 0 1 0 2 0a1 1 0 1 0-2 0M63.5 408.8a1 1 0 1 0 2 0a1 1 0 1 0-2 0M55.3 417.3a1 1 0 1 0 2 0a1 1 0 1 0-2 0M60.8 420.3a1 1 0 1 0 2 0a1 1 0 1 0-2 0M42.1 406.5a1 1 0 1 0 2 0a1 1 0 1 0-2 0M42.3 408.8a1 1 0 1 0 2 0a1 1 0 1 0-2 0M56.0 424.9a1 1 0 1 0 2 0a1 1 0 1 0-2 0M51.0 420.6a1 1 0 1 0 2 0a1 1 0 1 0-2 0M59.7 407.2a1 1 0 1 0 2 0a1 1 0 1 0-2 0M48.5 423.7a1 1 0 1 0 2 0a1 1 0 1 0-2 0M48.8 416.1a1 1 0 1 0 2 0a1 1 0 1 0-2 0M55.0 402.6a1 1 0 1 0 2 0a1 1 0 1 0-2 0M48.3 423.9a1 1 0 1 0 2 0a1 1 0 1 0-2 0M55.4 416.5a1 1 0 1 0 2 0a1 1 0 1 0-2 0M58.1 410.2a1 1 0 1 0 2 0a1 1 0 1 0-2 0M53.6 406.1a1 1 0 1 0 2 0a1 1 0 1 0-2 0M45.4 407.0a1 1 0 1 0 2 0a1 1 0 1 0-2 0M45.1 415.1a1 1 0 1 0 2 0a1 1 0 1 0-2 0M53.8 413.4a1 1 0 1 0 2 0a1 1 0 1 0-2 0M43.4 415.6a1 1 0 1 0 2 0a1 1 0 1 0-2 0M47.4 420.5a1 1 0 1 0 2 0a1 1 0 1 0-2 0M50.7 416.8a1 1 0 1 0 2 0a1 1 0 1 0-2 0M45.6 409.6a1 1 0 1 0 2 0a1 1 0 1 0-2 0M62.5 402.6a1 1 0 1 0 2 0a1 1 0 1 0-2 0M45.0 421.7a1 1 0 1 0 2 0a1 1 0 1 0-2 0M50.3 412.0a1 1 0 1 0 2 0a1 1 0 1 0-2 0M57.0 412.2a1 1 0 1 0 2 0a1 1 0 1 0-2 0M52.3 401.3a1 1 0 1 0 2 0a1 1 0 1 0-2 0M63.2 406.5a1 1 0 1 0 2 0a1 1 0 1 0-2 0M46.7 407.4a1 1 0 1 0 2 0a1 1 0 1 0-2 0M41.7 402.6a1 1 0 1 0 2 0a1 1 0 1 0-2 0M57.2 403.2a1 1 0 1 0 2 0a1 1 0 1 0-2 0M50.7 408.9a1 1 0 1 0 2 0a1 1 0 1 0-2 0M46.7 403.2a1 1 0 1 0 2 0a1 1 0 1 0-2 0M45.0 427.6a1 1 0 1 0 2 0a1 1 0 1 0-2 0M47.4 410.2a1 1 0 1 0 2 0a1 1 0 1 0-2 0M53.4 406.4a1 1 0 1 0 2 0a1 1 0 1 0-2 0M56.8 407.1a1 1 0 1 0 2 0a1 1 0 1 0-2 0M62.8 426.1a1 1 0 1 0 2 0a1 1 0 1 0-2 0M43.3 420.2a1 1 0 1 0 2 0a1 1 0 1 0-2 0M44.0 413.2a1 1 0 1 0 2 0a1 1 0 1 0-2 0" fill="#dedede"/>
<g fill="#be1016" stroke="#480000" stroke-width="0.7"><circle cx="90.0" cy="346.1" r="1.6"/><circle cx="40.8" cy="360.1" r="1.6"/><circle cx="61.8" cy="365.9" r="1.6"/><circle cx="48.7" cy="381.3" r="1.6"/><circle cx="70.4" cy="359.1" r="1.6"/><circle cx="48.2" cy="376.3" r="1.6"/><circle cx="43.1" cy="381.0" r="1.6"/><circle cx="55.8" cy="378.5" r="1.6"/><circle cx="50.8" cy="380.9" r="1.6"/><circle cx="96.4" cy="334.9" r="1.6"/><circle cx="57.1" cy="371.0" r="1.6"/><circle cx="108.0" cy="331.7" r="1.6"/><circle cx="71.3" cy="361.8" r="1.6"/><circle cx="52.7" cy="374.9" r="1.6"/><circle cx="74.6" cy="364.0" r="1.6"/><circle cx="45.6" cy="380.8" r="1.6"/><circle cx="82.3" cy="359.6" r="1.6"/><circle cx="52.2" cy="379.9" r="1.6"/><circle cx="46.0" cy="382.4" r="1.6"/><circle cx="53.0" cy="383.6" r="1.6"/><circle cx="53.4" cy="371.8" r="1.6"/><circle cx="40.7" cy="380.0" r="1.6"/><circle cx="61.2" cy="371.4" r="1.6"/><circle cx="61.8" cy="374.8" r="1.6"/><circle cx="109.1" cy="324.6" r="1.6"/><circle cx="50.2" cy="377.8" r="1.6"/><circle cx="65.0" cy="369.3" r="1.6"/><circle cx="62.3" cy="374.1" r="1.6"/><circle cx="59.5" cy="379.9" r="1.6"/><circle cx="46.2" cy="386.0" r="1.6"/><circle cx="59.3" cy="380.3" r="1.6"/><circle cx="64.1" cy="368.9" r="1.6"/><circle cx="59.8" cy="364.7" r="1.6"/><circle cx="100.8" cy="333.5" r="1.6"/><circle cx="45.3" cy="381.2" r="1.6"/><circle cx="74.1" cy="365.4" r="1.6"/><circle cx="50.5" cy="374.3" r="1.6"/><circle cx="114.8" cy="324.8" r="1.6"/><circle cx="47.5" cy="389.2" r="1.6"/><circle cx="67.8" cy="366.2" r="1.6"/><circle cx="67.5" cy="363.7" r="1.6"/><circle cx="80.1" cy="361.7" r="1.6"/><circle cx="111.2" cy="331.8" r="1.6"/><circle cx="86.5" cy="359.2" r="1.6"/><circle cx="103.0" cy="334.1" r="1.6"/><circle cx="42.1" cy="383.2" r="1.6"/><circle cx="66.0" cy="376.9" r="1.6"/><circle cx="89.5" cy="359.6" r="1.6"/><circle cx="105.5" cy="329.5" r="1.6"/><circle cx="79.3" cy="360.0" r="1.6"/><circle cx="88.7" cy="350.3" r="1.6"/><circle cx="54.8" cy="378.1" r="1.6"/><circle cx="47.4" cy="374.7" r="1.6"/><circle cx="72.1" cy="370.6" r="1.6"/><circle cx="37.8" cy="382.4" r="1.6"/><circle cx="55.7" cy="373.5" r="1.6"/><circle cx="45.0" cy="376.8" r="1.6"/><circle cx="79.9" cy="355.5" r="1.6"/><circle cx="40.0" cy="387.6" r="1.6"/><circle cx="45.4" cy="378.7" r="1.6"/><circle cx="62.2" cy="372.2" r="1.6"/><circle cx="46.1" cy="380.5" r="1.6"/><circle cx="78.2" cy="358.9" r="1.6"/><circle cx="65.9" cy="377.5" r="1.6"/><circle cx="41.8" cy="381.5" r="1.6"/><circle cx="70.5" cy="367.5" r="1.6"/><circle cx="56.7" cy="371.0" r="1.6"/><circle cx="57.6" cy="380.5" r="1.6"/><circle cx="81.8" cy="357.4" r="1.6"/><circle cx="97.7" cy="337.7" r="1.6"/><circle cx="51.1" cy="379.0" r="1.6"/><circle cx="92.1" cy="346.4" r="1.6"/><circle cx="71.4" cy="359.9" r="1.6"/><circle cx="59.1" cy="375.2" r="1.6"/><circle cx="106.0" cy="321.9" r="1.6"/><circle cx="65.8" cy="371.6" r="1.6"/><circle cx="107.1" cy="333.0" r="1.6"/><circle cx="54.1" cy="373.8" r="1.6"/><circle cx="46.7" cy="378.5" r="1.6"/><circle cx="40.8" cy="386.0" r="1.6"/><circle cx="79.7" cy="353.0" r="1.6"/><circle cx="77.1" cy="363.5" r="1.6"/><circle cx="101.6" cy="336.7" r="1.6"/><circle cx="80.4" cy="358.6" r="1.6"/><circle cx="89.2" cy="347.3" r="1.6"/><circle cx="42.8" cy="381.5" r="1.6"/><circle cx="74.4" cy="367.1" r="1.6"/><circle cx="39.2" cy="383.5" r="1.6"/><circle cx="47.4" cy="374.1" r="1.6"/><circle cx="62.3" cy="368.2" r="1.6"/><circle cx="44.6" cy="385.0" r="1.6"/><circle cx="61.4" cy="367.5" r="1.6"/><circle cx="56.7" cy="371.9" r="1.6"/><circle cx="46.2" cy="378.8" r="1.6"/><circle cx="80.9" cy="364.5" r="1.6"/><circle cx="46.4" cy="380.3" r="1.6"/><circle cx="62.5" cy="373.3" r="1.6"/><circle cx="39.0" cy="381.8" r="1.6"/><circle cx="65.2" cy="373.0" r="1.6"/><circle cx="66.9" cy="369.0" r="1.6"/><circle cx="52.4" cy="372.3" r="1.6"/><circle cx="43.2" cy="384.8" r="1.6"/><circle cx="40.9" cy="359.0" r="1.6"/><circle cx="49.8" cy="374.8" r="1.6"/><circle cx="61.2" cy="373.0" r="1.6"/><circle cx="87.7" cy="356.4" r="1.6"/><circle cx="99.2" cy="342.9" r="1.6"/><circle cx="85.1" cy="362.2" r="1.6"/><circle cx="45.3" cy="380.2" r="1.6"/><circle cx="60.1" cy="364.3" r="1.6"/><circle cx="48.6" cy="379.6" r="1.6"/><circle cx="53.2" cy="377.3" r="1.6"/><circle cx="156.4" cy="279.9" r="1.6"/><circle cx="141.1" cy="296.9" r="1.6"/><circle cx="143.1" cy="295.7" r="1.6"/><circle cx="144.3" cy="297.3" r="1.6"/><circle cx="130.7" cy="303.3" r="1.6"/><circle cx="127.9" cy="308.6" r="1.6"/><circle cx="123.0" cy="312.6" r="1.6"/><circle cx="117.4" cy="316.6" r="1.6"/><circle cx="135.5" cy="302.5" r="1.6"/><circle cx="119.4" cy="320.6" r="1.6"/><circle cx="125.5" cy="314.6" r="1.6"/><circle cx="113.4" cy="324.7" r="1.6"/></g>
<g fill="#3cd03a" stroke="#0e3e0e" stroke-width="0.65"><circle cx="86.0" cy="428.2" r="1.6"/><circle cx="88.8" cy="414.6" r="1.6"/><circle cx="85.1" cy="429.3" r="1.6"/><circle cx="88.4" cy="419.3" r="1.6"/><circle cx="92.9" cy="421.0" r="1.6"/><circle cx="139.0" cy="360.8" r="1.6"/><circle cx="86.6" cy="423.7" r="1.6"/><circle cx="142.3" cy="385.4" r="1.6"/><circle cx="93.9" cy="411.9" r="1.6"/><circle cx="129.1" cy="374.0" r="1.6"/><circle cx="97.7" cy="413.2" r="1.6"/><circle cx="99.6" cy="406.8" r="1.6"/><circle cx="86.2" cy="420.9" r="1.6"/><circle cx="88.6" cy="412.7" r="1.6"/><circle cx="126.7" cy="379.0" r="1.6"/><circle cx="102.5" cy="401.4" r="1.6"/><circle cx="87.0" cy="428.1" r="1.6"/><circle cx="106.7" cy="400.8" r="1.6"/><circle cx="118.0" cy="382.3" r="1.6"/><circle cx="97.0" cy="401.0" r="1.6"/><circle cx="98.6" cy="401.4" r="1.6"/><circle cx="109.7" cy="396.9" r="1.6"/><circle cx="155.2" cy="366.4" r="1.6"/><circle cx="82.1" cy="427.6" r="1.6"/><circle cx="85.3" cy="412.7" r="1.6"/><circle cx="84.1" cy="428.1" r="1.6"/><circle cx="92.3" cy="412.6" r="1.6"/><circle cx="120.6" cy="379.7" r="1.6"/><circle cx="153.6" cy="346.6" r="1.6"/><circle cx="86.8" cy="424.9" r="1.6"/><circle cx="95.1" cy="417.7" r="1.6"/><circle cx="142.6" cy="350.4" r="1.6"/><circle cx="123.9" cy="373.3" r="1.6"/><circle cx="120.9" cy="381.5" r="1.6"/><circle cx="138.2" cy="389.2" r="1.6"/><circle cx="189.4" cy="311.9" r="1.6"/><circle cx="151.2" cy="346.5" r="1.6"/><circle cx="108.5" cy="399.9" r="1.6"/><circle cx="84.0" cy="421.4" r="1.6"/><circle cx="184.1" cy="315.0" r="1.6"/><circle cx="87.0" cy="424.5" r="1.6"/><circle cx="95.1" cy="413.4" r="1.6"/><circle cx="93.2" cy="413.4" r="1.6"/><circle cx="129.8" cy="371.9" r="1.6"/><circle cx="146.1" cy="351.3" r="1.6"/><circle cx="108.2" cy="398.9" r="1.6"/><circle cx="89.0" cy="423.9" r="1.6"/><circle cx="96.5" cy="406.3" r="1.6"/><circle cx="102.6" cy="403.3" r="1.6"/><circle cx="91.7" cy="417.5" r="1.6"/><circle cx="88.8" cy="423.6" r="1.6"/><circle cx="187.6" cy="309.8" r="1.6"/><circle cx="121.2" cy="378.3" r="1.6"/><circle cx="102.5" cy="403.4" r="1.6"/><circle cx="86.1" cy="429.4" r="1.6"/><circle cx="93.8" cy="422.3" r="1.6"/><circle cx="89.5" cy="416.5" r="1.6"/><circle cx="94.3" cy="419.2" r="1.6"/><circle cx="97.1" cy="407.6" r="1.6"/><circle cx="93.0" cy="415.5" r="1.6"/><circle cx="82.8" cy="418.3" r="1.6"/><circle cx="95.2" cy="406.6" r="1.6"/><circle cx="81.3" cy="415.5" r="1.6"/><circle cx="154.7" cy="356.2" r="1.6"/><circle cx="87.1" cy="422.4" r="1.6"/><circle cx="84.4" cy="424.5" r="1.6"/><circle cx="87.3" cy="428.9" r="1.6"/><circle cx="101.2" cy="401.8" r="1.6"/><circle cx="93.0" cy="409.5" r="1.6"/><circle cx="88.3" cy="413.9" r="1.6"/><circle cx="88.8" cy="415.7" r="1.6"/><circle cx="98.5" cy="407.0" r="1.6"/><circle cx="99.8" cy="398.5" r="1.6"/><circle cx="96.4" cy="413.3" r="1.6"/><circle cx="159.8" cy="346.7" r="1.6"/><circle cx="134.7" cy="371.3" r="1.6"/><circle cx="86.6" cy="421.4" r="1.6"/><circle cx="92.1" cy="415.4" r="1.6"/><circle cx="188.4" cy="311.4" r="1.6"/><circle cx="97.8" cy="408.5" r="1.6"/><circle cx="81.1" cy="426.2" r="1.6"/><circle cx="112.1" cy="396.9" r="1.6"/><circle cx="89.7" cy="419.4" r="1.6"/><circle cx="80.9" cy="421.2" r="1.6"/><circle cx="87.9" cy="414.5" r="1.6"/><circle cx="87.0" cy="422.3" r="1.6"/><circle cx="108.9" cy="403.5" r="1.6"/><circle cx="94.3" cy="428.9" r="1.6"/><circle cx="104.3" cy="408.0" r="1.6"/><circle cx="154.5" cy="377.3" r="1.6"/><circle cx="98.7" cy="414.7" r="1.6"/><circle cx="92.9" cy="412.9" r="1.6"/><circle cx="80.2" cy="426.8" r="1.6"/><circle cx="122.4" cy="375.6" r="1.6"/></g>
<circle cx="54.4" cy="376.6" r="1.6" fill="#be1016" stroke="#480000" stroke-width="0.6"/>
<circle cx="54.4" cy="376.6" r="3.9" fill="none" stroke="#f2e21c" stroke-width="1.8"/>
<circle cx="72.9" cy="358.7" r="1.6" fill="#be1016" stroke="#480000" stroke-width="0.6"/>
<circle cx="72.9" cy="358.7" r="3.6" fill="none" stroke="#1a1ad0" stroke-width="2.1"/>
<circle cx="164.2" cy="349.6" r="1.4" fill="#7ad86a" stroke="#3a7a3a" stroke-width="0.5"/>
<circle cx="164.2" cy="349.6" r="3.6" fill="none" stroke="#2c2c8c" stroke-width="2.1"/>
<circle cx="154.6" cy="361.5" r="1.4" fill="#7ad86a" stroke="#3a7a3a" stroke-width="0.5"/>
<circle cx="154.6" cy="361.5" r="3.6" fill="none" stroke="#2c2c8c" stroke-width="2.1"/>
<text x="166.00" y="365.40" font-size="11.8" font-weight="bold" font-style="italic" fill="#343a86">Trib3</text>
<path d="M34.00 466.50V657.40H218.90" fill="none" stroke="#666" stroke-width="1.4"/>
<path d="M29.70 657.40H34.00M34.00 657.40V661.00" stroke="#666" stroke-width="1.1"/>
<text x="18.50" y="660.00" font-size="7.5" text-anchor="middle" fill="#333">0</text>
<text x="34.00" y="672.20" font-size="7.5" text-anchor="middle" fill="#333">0</text>
<path d="M29.70 617.40H34.00M74.00 657.40V661.00" stroke="#666" stroke-width="1.1"/>
<text x="18.50" y="620.00" font-size="7.5" text-anchor="middle" fill="#333">1</text>
<text x="74.00" y="672.20" font-size="7.5" text-anchor="middle" fill="#333">1</text>
<path d="M29.70 577.40H34.00M114.00 657.40V661.00" stroke="#666" stroke-width="1.1"/>
<text x="18.50" y="580.00" font-size="7.5" text-anchor="middle" fill="#333">2</text>
<text x="114.00" y="672.20" font-size="7.5" text-anchor="middle" fill="#333">2</text>
<path d="M29.70 537.40H34.00M154.00 657.40V661.00" stroke="#666" stroke-width="1.1"/>
<text x="18.50" y="540.00" font-size="7.5" text-anchor="middle" fill="#333">3</text>
<text x="154.00" y="672.20" font-size="7.5" text-anchor="middle" fill="#333">3</text>
<path d="M29.70 497.40H34.00M194.00 657.40V661.00" stroke="#666" stroke-width="1.1"/>
<text x="18.50" y="500.00" font-size="7.5" text-anchor="middle" fill="#333">4</text>
<text x="194.00" y="672.20" font-size="7.5" text-anchor="middle" fill="#333">4</text>
<path d="M38.0 651.4 L38.0 617.4 L66.0 600.6 L89.6 577.4 L115.2 551.8 L124.8 539.8 L137.6 527.0 L150.4 512.2 L163.2 499.4 L176.0 491.0 L190.8 482.6 L206.0 474.2 L214.4 471.0 L215.2 471.0 L214.4 481.4 L210.0 501.4 L203.6 514.2 L195.2 522.6 L186.8 529.4 L178.0 539.4 L165.6 553.4 L156.0 562.6 L144.8 573.0 L133.2 583.4 L121.6 593.8 L110.0 604.2 L92.0 626.2 L77.6 645.4 L76.0 651.4Z" fill="#cccccc"/>
<path d="M139.6 521.0a1.5 1.5 0 1 0 3 0a1.5 1.5 0 1 0-3 0M126.7 589.6a1.5 1.5 0 1 0 3 0a1.5 1.5 0 1 0-3 0M184.8 530.9a1.5 1.5 0 1 0 3 0a1.5 1.5 0 1 0-3 0M173.3 544.0a1.5 1.5 0 1 0 3 0a1.5 1.5 0 1 0-3 0M112.0 601.5a1.5 1.5 0 1 0 3 0a1.5 1.5 0 1 0-3 0M141.9 576.7a1.5 1.5 0 1 0 3 0a1.5 1.5 0 1 0-3 0M79.5 584.3a1.5 1.5 0 1 0 3 0a1.5 1.5 0 1 0-3 0M162.9 496.0a1.5 1.5 0 1 0 3 0a1.5 1.5 0 1 0-3 0M189.5 481.8a1.5 1.5 0 1 0 3 0a1.5 1.5 0 1 0-3 0M110.5 605.0a1.5 1.5 0 1 0 3 0a1.5 1.5 0 1 0-3 0M149.8 568.3a1.5 1.5 0 1 0 3 0a1.5 1.5 0 1 0-3 0M196.2 476.3a1.5 1.5 0 1 0 3 0a1.5 1.5 0 1 0-3 0M183.0 534.5a1.5 1.5 0 1 0 3 0a1.5 1.5 0 1 0-3 0M190.8 527.1a1.5 1.5 0 1 0 3 0a1.5 1.5 0 1 0-3 0M200.6 527.1a1.5 1.5 0 1 0 3 0a1.5 1.5 0 1 0-3 0M67.1 595.2a1.5 1.5 0 1 0 3 0a1.5 1.5 0 1 0-3 0M185.4 484.6a1.5 1.5 0 1 0 3 0a1.5 1.5 0 1 0-3 0M74.0 588.3a1.5 1.5 0 1 0 3 0a1.5 1.5 0 1 0-3 0M75.2 588.6a1.5 1.5 0 1 0 3 0a1.5 1.5 0 1 0-3 0M51.9 606.4a1.5 1.5 0 1 0 3 0a1.5 1.5 0 1 0-3 0M58.3 602.8a1.5 1.5 0 1 0 3 0a1.5 1.5 0 1 0-3 0M107.5 557.2a1.5 1.5 0 1 0 3 0a1.5 1.5 0 1 0-3 0M87.9 630.3a1.5 1.5 0 1 0 3 0a1.5 1.5 0 1 0-3 0M176.6 487.7a1.5 1.5 0 1 0 3 0a1.5 1.5 0 1 0-3 0M145.4 515.2a1.5 1.5 0 1 0 3 0a1.5 1.5 0 1 0-3 0M103.3 612.5a1.5 1.5 0 1 0 3 0a1.5 1.5 0 1 0-3 0M191.5 479.8a1.5 1.5 0 1 0 3 0a1.5 1.5 0 1 0-3 0M146.5 570.3a1.5 1.5 0 1 0 3 0a1.5 1.5 0 1 0-3 0M155.8 562.8a1.5 1.5 0 1 0 3 0a1.5 1.5 0 1 0-3 0M84.1 636.5a1.5 1.5 0 1 0 3 0a1.5 1.5 0 1 0-3 0M182.7 484.5a1.5 1.5 0 1 0 3 0a1.5 1.5 0 1 0-3 0M113.6 604.2a1.5 1.5 0 1 0 3 0a1.5 1.5 0 1 0-3 0M184.8 531.7a1.5 1.5 0 1 0 3 0a1.5 1.5 0 1 0-3 0M114.0 550.6a1.5 1.5 0 1 0 3 0a1.5 1.5 0 1 0-3 0M85.3 639.3a1.5 1.5 0 1 0 3 0a1.5 1.5 0 1 0-3 0M164.1 554.5a1.5 1.5 0 1 0 3 0a1.5 1.5 0 1 0-3 0M122.8 593.2a1.5 1.5 0 1 0 3 0a1.5 1.5 0 1 0-3 0M188.7 527.9a1.5 1.5 0 1 0 3 0a1.5 1.5 0 1 0-3 0M198.1 520.9a1.5 1.5 0 1 0 3 0a1.5 1.5 0 1 0-3 0M163.4 555.5a1.5 1.5 0 1 0 3 0a1.5 1.5 0 1 0-3 0M63.9 598.5a1.5 1.5 0 1 0 3 0a1.5 1.5 0 1 0-3 0M185.6 479.7a1.5 1.5 0 1 0 3 0a1.5 1.5 0 1 0-3 0M117.1 546.1a1.5 1.5 0 1 0 3 0a1.5 1.5 0 1 0-3 0M72.6 592.3a1.5 1.5 0 1 0 3 0a1.5 1.5 0 1 0-3 0M94.9 570.3a1.5 1.5 0 1 0 3 0a1.5 1.5 0 1 0-3 0M152.9 564.9a1.5 1.5 0 1 0 3 0a1.5 1.5 0 1 0-3 0M113.8 602.5a1.5 1.5 0 1 0 3 0a1.5 1.5 0 1 0-3 0M200.2 471.3a1.5 1.5 0 1 0 3 0a1.5 1.5 0 1 0-3 0M179.6 486.1a1.5 1.5 0 1 0 3 0a1.5 1.5 0 1 0-3 0M173.8 543.3a1.5 1.5 0 1 0 3 0a1.5 1.5 0 1 0-3 0M92.2 624.3a1.5 1.5 0 1 0 3 0a1.5 1.5 0 1 0-3 0M190.7 528.7a1.5 1.5 0 1 0 3 0a1.5 1.5 0 1 0-3 0M85.7 577.2a1.5 1.5 0 1 0 3 0a1.5 1.5 0 1 0-3 0M82.6 645.9a1.5 1.5 0 1 0 3 0a1.5 1.5 0 1 0-3 0M72.9 591.7a1.5 1.5 0 1 0 3 0a1.5 1.5 0 1 0-3 0M175.2 542.2a1.5 1.5 0 1 0 3 0a1.5 1.5 0 1 0-3 0M201.3 519.2a1.5 1.5 0 1 0 3 0a1.5 1.5 0 1 0-3 0M79.3 642.8a1.5 1.5 0 1 0 3 0a1.5 1.5 0 1 0-3 0M105.0 610.9a1.5 1.5 0 1 0 3 0a1.5 1.5 0 1 0-3 0M85.6 579.7a1.5 1.5 0 1 0 3 0a1.5 1.5 0 1 0-3 0M94.0 569.0a1.5 1.5 0 1 0 3 0a1.5 1.5 0 1 0-3 0M169.2 492.8a1.5 1.5 0 1 0 3 0a1.5 1.5 0 1 0-3 0M99.5 617.8a1.5 1.5 0 1 0 3 0a1.5 1.5 0 1 0-3 0M92.5 625.8a1.5 1.5 0 1 0 3 0a1.5 1.5 0 1 0-3 0M144.2 574.3a1.5 1.5 0 1 0 3 0a1.5 1.5 0 1 0-3 0M93.8 624.0a1.5 1.5 0 1 0 3 0a1.5 1.5 0 1 0-3 0M85.6 632.8a1.5 1.5 0 1 0 3 0a1.5 1.5 0 1 0-3 0M100.7 614.3a1.5 1.5 0 1 0 3 0a1.5 1.5 0 1 0-3 0M185.7 530.7a1.5 1.5 0 1 0 3 0a1.5 1.5 0 1 0-3 0M99.7 563.5a1.5 1.5 0 1 0 3 0a1.5 1.5 0 1 0-3 0M187.6 482.8a1.5 1.5 0 1 0 3 0a1.5 1.5 0 1 0-3 0M103.1 561.4a1.5 1.5 0 1 0 3 0a1.5 1.5 0 1 0-3 0M95.7 620.3a1.5 1.5 0 1 0 3 0a1.5 1.5 0 1 0-3 0M66.6 588.7a1.5 1.5 0 1 0 3 0a1.5 1.5 0 1 0-3 0M105.6 557.7a1.5 1.5 0 1 0 3 0a1.5 1.5 0 1 0-3 0M184.8 533.0a1.5 1.5 0 1 0 3 0a1.5 1.5 0 1 0-3 0M203.7 511.0a1.5 1.5 0 1 0 3 0a1.5 1.5 0 1 0-3 0M196.2 476.1a1.5 1.5 0 1 0 3 0a1.5 1.5 0 1 0-3 0M165.4 493.2a1.5 1.5 0 1 0 3 0a1.5 1.5 0 1 0-3 0M138.6 577.6a1.5 1.5 0 1 0 3 0a1.5 1.5 0 1 0-3 0M117.9 596.7a1.5 1.5 0 1 0 3 0a1.5 1.5 0 1 0-3 0M192.7 480.0a1.5 1.5 0 1 0 3 0a1.5 1.5 0 1 0-3 0M155.4 503.4a1.5 1.5 0 1 0 3 0a1.5 1.5 0 1 0-3 0M184.5 532.7a1.5 1.5 0 1 0 3 0a1.5 1.5 0 1 0-3 0M162.6 496.8a1.5 1.5 0 1 0 3 0a1.5 1.5 0 1 0-3 0M93.5 622.8a1.5 1.5 0 1 0 3 0a1.5 1.5 0 1 0-3 0M166.6 496.1a1.5 1.5 0 1 0 3 0a1.5 1.5 0 1 0-3 0M148.3 511.5a1.5 1.5 0 1 0 3 0a1.5 1.5 0 1 0-3 0M178.2 487.3a1.5 1.5 0 1 0 3 0a1.5 1.5 0 1 0-3 0M182.3 535.1a1.5 1.5 0 1 0 3 0a1.5 1.5 0 1 0-3 0M187.1 530.7a1.5 1.5 0 1 0 3 0a1.5 1.5 0 1 0-3 0M103.2 557.8a1.5 1.5 0 1 0 3 0a1.5 1.5 0 1 0-3 0M107.4 554.9a1.5 1.5 0 1 0 3 0a1.5 1.5 0 1 0-3 0M195.1 524.3a1.5 1.5 0 1 0 3 0a1.5 1.5 0 1 0-3 0M133.7 591.5a1.5 1.5 0 1 0 3 0a1.5 1.5 0 1 0-3 0M100.9 562.5a1.5 1.5 0 1 0 3 0a1.5 1.5 0 1 0-3 0M194.6 523.8a1.5 1.5 0 1 0 3 0a1.5 1.5 0 1 0-3 0M180.2 487.2a1.5 1.5 0 1 0 3 0a1.5 1.5 0 1 0-3 0M107.7 607.3a1.5 1.5 0 1 0 3 0a1.5 1.5 0 1 0-3 0M166.9 495.0a1.5 1.5 0 1 0 3 0a1.5 1.5 0 1 0-3 0M173.8 544.7a1.5 1.5 0 1 0 3 0a1.5 1.5 0 1 0-3 0M141.7 576.0a1.5 1.5 0 1 0 3 0a1.5 1.5 0 1 0-3 0M120.4 542.6a1.5 1.5 0 1 0 3 0a1.5 1.5 0 1 0-3 0M195.1 476.9a1.5 1.5 0 1 0 3 0a1.5 1.5 0 1 0-3 0M159.1 501.4a1.5 1.5 0 1 0 3 0a1.5 1.5 0 1 0-3 0M161.1 557.2a1.5 1.5 0 1 0 3 0a1.5 1.5 0 1 0-3 0M156.4 561.7a1.5 1.5 0 1 0 3 0a1.5 1.5 0 1 0-3 0M182.6 534.3a1.5 1.5 0 1 0 3 0a1.5 1.5 0 1 0-3 0M174.9 541.2a1.5 1.5 0 1 0 3 0a1.5 1.5 0 1 0-3 0M183.6 484.6a1.5 1.5 0 1 0 3 0a1.5 1.5 0 1 0-3 0M126.0 591.2a1.5 1.5 0 1 0 3 0a1.5 1.5 0 1 0-3 0M110.2 554.2a1.5 1.5 0 1 0 3 0a1.5 1.5 0 1 0-3 0M161.7 564.0a1.5 1.5 0 1 0 3 0a1.5 1.5 0 1 0-3 0M80.4 642.6a1.5 1.5 0 1 0 3 0a1.5 1.5 0 1 0-3 0M104.9 608.9a1.5 1.5 0 1 0 3 0a1.5 1.5 0 1 0-3 0M199.6 474.8a1.5 1.5 0 1 0 3 0a1.5 1.5 0 1 0-3 0M159.4 560.0a1.5 1.5 0 1 0 3 0a1.5 1.5 0 1 0-3 0M113.2 612.8a1.5 1.5 0 1 0 3 0a1.5 1.5 0 1 0-3 0M183.7 485.6a1.5 1.5 0 1 0 3 0a1.5 1.5 0 1 0-3 0M203.7 512.3a1.5 1.5 0 1 0 3 0a1.5 1.5 0 1 0-3 0M129.0 533.5a1.5 1.5 0 1 0 3 0a1.5 1.5 0 1 0-3 0M108.3 606.8a1.5 1.5 0 1 0 3 0a1.5 1.5 0 1 0-3 0M78.9 583.9a1.5 1.5 0 1 0 3 0a1.5 1.5 0 1 0-3 0M143.2 516.9a1.5 1.5 0 1 0 3 0a1.5 1.5 0 1 0-3 0M162.7 497.0a1.5 1.5 0 1 0 3 0a1.5 1.5 0 1 0-3 0M75.0 650.7a1.5 1.5 0 1 0 3 0a1.5 1.5 0 1 0-3 0M167.2 549.9a1.5 1.5 0 1 0 3 0a1.5 1.5 0 1 0-3 0M84.9 579.1a1.5 1.5 0 1 0 3 0a1.5 1.5 0 1 0-3 0M200.9 475.9a1.5 1.5 0 1 0 3 0a1.5 1.5 0 1 0-3 0M115.0 606.3a1.5 1.5 0 1 0 3 0a1.5 1.5 0 1 0-3 0M101.2 563.6a1.5 1.5 0 1 0 3 0a1.5 1.5 0 1 0-3 0M110.8 604.7a1.5 1.5 0 1 0 3 0a1.5 1.5 0 1 0-3 0M138.9 523.2a1.5 1.5 0 1 0 3 0a1.5 1.5 0 1 0-3 0M204.9 509.6a1.5 1.5 0 1 0 3 0a1.5 1.5 0 1 0-3 0M113.1 601.3a1.5 1.5 0 1 0 3 0a1.5 1.5 0 1 0-3 0M133.7 527.9a1.5 1.5 0 1 0 3 0a1.5 1.5 0 1 0-3 0M194.2 475.4a1.5 1.5 0 1 0 3 0a1.5 1.5 0 1 0-3 0M178.8 541.1a1.5 1.5 0 1 0 3 0a1.5 1.5 0 1 0-3 0" fill="#cccccc"/>
<path d="M54.1 640.7a1 1 0 1 0 2 0a1 1 0 1 0-2 0M47.3 646.4a1 1 0 1 0 2 0a1 1 0 1 0-2 0M57.7 625.4a1 1 0 1 0 2 0a1 1 0 1 0-2 0M59.6 638.3a1 1 0 1 0 2 0a1 1 0 1 0-2 0M61.0 628.6a1 1 0 1 0 2 0a1 1 0 1 0-2 0M53.6 628.6a1 1 0 1 0 2 0a1 1 0 1 0-2 0M57.6 649.5a1 1 0 1 0 2 0a1 1 0 1 0-2 0M53.7 632.6a1 1 0 1 0 2 0a1 1 0 1 0-2 0M47.4 628.5a1 1 0 1 0 2 0a1 1 0 1 0-2 0M56.6 647.4a1 1 0 1 0 2 0a1 1 0 1 0-2 0M48.1 649.6a1 1 0 1 0 2 0a1 1 0 1 0-2 0M47.7 646.9a1 1 0 1 0 2 0a1 1 0 1 0-2 0M38.6 641.9a1 1 0 1 0 2 0a1 1 0 1 0-2 0M56.1 645.2a1 1 0 1 0 2 0a1 1 0 1 0-2 0M62.3 644.9a1 1 0 1 0 2 0a1 1 0 1 0-2 0M58.8 642.7a1 1 0 1 0 2 0a1 1 0 1 0-2 0M60.0 636.4a1 1 0 1 0 2 0a1 1 0 1 0-2 0M59.1 638.0a1 1 0 1 0 2 0a1 1 0 1 0-2 0M45.4 626.4a1 1 0 1 0 2 0a1 1 0 1 0-2 0M39.1 646.4a1 1 0 1 0 2 0a1 1 0 1 0-2 0M42.0 635.0a1 1 0 1 0 2 0a1 1 0 1 0-2 0M57.1 643.3a1 1 0 1 0 2 0a1 1 0 1 0-2 0M52.8 627.3a1 1 0 1 0 2 0a1 1 0 1 0-2 0M38.7 629.6a1 1 0 1 0 2 0a1 1 0 1 0-2 0M42.0 649.1a1 1 0 1 0 2 0a1 1 0 1 0-2 0M50.6 639.6a1 1 0 1 0 2 0a1 1 0 1 0-2 0M48.2 633.0a1 1 0 1 0 2 0a1 1 0 1 0-2 0M39.0 633.8a1 1 0 1 0 2 0a1 1 0 1 0-2 0M42.2 624.9a1 1 0 1 0 2 0a1 1 0 1 0-2 0M50.1 644.2a1 1 0 1 0 2 0a1 1 0 1 0-2 0M51.4 638.9a1 1 0 1 0 2 0a1 1 0 1 0-2 0M40.3 629.7a1 1 0 1 0 2 0a1 1 0 1 0-2 0M49.1 627.5a1 1 0 1 0 2 0a1 1 0 1 0-2 0M57.1 628.0a1 1 0 1 0 2 0a1 1 0 1 0-2 0M61.8 642.0a1 1 0 1 0 2 0a1 1 0 1 0-2 0M52.4 634.7a1 1 0 1 0 2 0a1 1 0 1 0-2 0M53.7 630.1a1 1 0 1 0 2 0a1 1 0 1 0-2 0M57.2 632.6a1 1 0 1 0 2 0a1 1 0 1 0-2 0M53.3 635.5a1 1 0 1 0 2 0a1 1 0 1 0-2 0M42.1 642.6a1 1 0 1 0 2 0a1 1 0 1 0-2 0M41.5 634.0a1 1 0 1 0 2 0a1 1 0 1 0-2 0M53.4 643.9a1 1 0 1 0 2 0a1 1 0 1 0-2 0M47.8 626.9a1 1 0 1 0 2 0a1 1 0 1 0-2 0M42.4 635.6a1 1 0 1 0 2 0a1 1 0 1 0-2 0M51.1 637.4a1 1 0 1 0 2 0a1 1 0 1 0-2 0M45.6 624.7a1 1 0 1 0 2 0a1 1 0 1 0-2 0M52.3 636.5a1 1 0 1 0 2 0a1 1 0 1 0-2 0M40.5 648.8a1 1 0 1 0 2 0a1 1 0 1 0-2 0" fill="#dedede"/>
<g fill="#be1016" stroke="#480000" stroke-width="0.7"><circle cx="50.6" cy="598.9" r="1.6"/><circle cx="56.9" cy="597.2" r="1.6"/><circle cx="110.5" cy="540.8" r="1.6"/><circle cx="37.6" cy="608.4" r="1.6"/><circle cx="35.7" cy="598.3" r="1.6"/><circle cx="76.4" cy="586.3" r="1.6"/><circle cx="56.5" cy="590.8" r="1.6"/><circle cx="116.0" cy="538.7" r="1.6"/><circle cx="84.8" cy="574.1" r="1.6"/><circle cx="80.4" cy="572.6" r="1.6"/><circle cx="85.3" cy="564.7" r="1.6"/><circle cx="60.1" cy="593.0" r="1.6"/><circle cx="75.1" cy="581.0" r="1.6"/><circle cx="88.8" cy="576.6" r="1.6"/><circle cx="98.9" cy="553.0" r="1.6"/><circle cx="49.5" cy="597.1" r="1.6"/><circle cx="58.4" cy="592.2" r="1.6"/><circle cx="70.3" cy="583.9" r="1.6"/><circle cx="53.4" cy="597.4" r="1.6"/><circle cx="97.5" cy="556.2" r="1.6"/><circle cx="115.5" cy="547.8" r="1.6"/><circle cx="89.8" cy="564.1" r="1.6"/><circle cx="117.2" cy="536.6" r="1.6"/><circle cx="165.6" cy="497.7" r="1.6"/><circle cx="55.4" cy="597.3" r="1.6"/><circle cx="82.6" cy="574.6" r="1.6"/><circle cx="108.8" cy="550.7" r="1.6"/><circle cx="57.3" cy="595.2" r="1.6"/><circle cx="98.4" cy="563.1" r="1.6"/><circle cx="81.7" cy="566.7" r="1.6"/><circle cx="135.9" cy="523.1" r="1.6"/><circle cx="52.6" cy="596.0" r="1.6"/><circle cx="58.7" cy="590.1" r="1.6"/><circle cx="108.5" cy="554.8" r="1.6"/><circle cx="54.6" cy="597.4" r="1.6"/><circle cx="159.1" cy="499.2" r="1.6"/><circle cx="81.3" cy="577.8" r="1.6"/><circle cx="158.0" cy="506.3" r="1.6"/><circle cx="49.5" cy="605.3" r="1.6"/><circle cx="40.2" cy="600.7" r="1.6"/><circle cx="137.3" cy="519.9" r="1.6"/><circle cx="91.7" cy="555.3" r="1.6"/><circle cx="56.7" cy="599.6" r="1.6"/><circle cx="61.5" cy="585.4" r="1.6"/><circle cx="78.2" cy="574.3" r="1.6"/><circle cx="48.3" cy="600.5" r="1.6"/><circle cx="84.7" cy="573.4" r="1.6"/><circle cx="110.5" cy="547.8" r="1.6"/><circle cx="58.1" cy="589.6" r="1.6"/><circle cx="66.0" cy="591.1" r="1.6"/><circle cx="161.8" cy="498.4" r="1.6"/><circle cx="43.8" cy="605.9" r="1.6"/><circle cx="66.6" cy="592.1" r="1.6"/><circle cx="131.7" cy="526.8" r="1.6"/><circle cx="66.1" cy="591.2" r="1.6"/><circle cx="42.1" cy="604.6" r="1.6"/><circle cx="89.6" cy="572.8" r="1.6"/><circle cx="83.0" cy="574.9" r="1.6"/><circle cx="79.5" cy="576.8" r="1.6"/><circle cx="49.9" cy="606.2" r="1.6"/><circle cx="51.3" cy="572.9" r="1.6"/><circle cx="66.3" cy="584.1" r="1.6"/><circle cx="40.3" cy="601.1" r="1.6"/><circle cx="41.3" cy="605.4" r="1.6"/><circle cx="45.7" cy="604.3" r="1.6"/><circle cx="71.5" cy="577.5" r="1.6"/><circle cx="70.3" cy="581.6" r="1.6"/><circle cx="53.5" cy="595.5" r="1.6"/><circle cx="74.8" cy="560.4" r="1.6"/><circle cx="148.5" cy="508.3" r="1.6"/><circle cx="63.7" cy="585.1" r="1.6"/><circle cx="47.7" cy="606.9" r="1.6"/><circle cx="52.0" cy="601.8" r="1.6"/><circle cx="49.0" cy="603.4" r="1.6"/><circle cx="94.6" cy="559.5" r="1.6"/><circle cx="46.4" cy="598.5" r="1.6"/><circle cx="59.9" cy="594.6" r="1.6"/><circle cx="119.9" cy="532.8" r="1.6"/><circle cx="57.7" cy="600.8" r="1.6"/><circle cx="72.5" cy="583.1" r="1.6"/><circle cx="93.6" cy="573.9" r="1.6"/><circle cx="56.9" cy="594.0" r="1.6"/><circle cx="44.4" cy="600.6" r="1.6"/><circle cx="65.8" cy="592.3" r="1.6"/><circle cx="72.2" cy="583.0" r="1.6"/><circle cx="100.3" cy="561.3" r="1.6"/><circle cx="79.7" cy="555.8" r="1.6"/><circle cx="109.1" cy="554.6" r="1.6"/><circle cx="166.6" cy="495.9" r="1.6"/><circle cx="150.6" cy="506.5" r="1.6"/><circle cx="130.2" cy="532.5" r="1.6"/><circle cx="96.9" cy="560.4" r="1.6"/><circle cx="96.8" cy="548.9" r="1.6"/><circle cx="121.2" cy="546.7" r="1.6"/><circle cx="43.5" cy="606.3" r="1.6"/><circle cx="100.5" cy="556.8" r="1.6"/><circle cx="35.0" cy="607.5" r="1.6"/><circle cx="70.8" cy="589.0" r="1.6"/><circle cx="109.3" cy="555.4" r="1.6"/><circle cx="72.7" cy="585.4" r="1.6"/><circle cx="72.5" cy="584.7" r="1.6"/><circle cx="73.8" cy="573.5" r="1.6"/><circle cx="76.3" cy="573.6" r="1.6"/><circle cx="81.1" cy="572.5" r="1.6"/><circle cx="58.4" cy="587.4" r="1.6"/><circle cx="94.6" cy="559.7" r="1.6"/><circle cx="63.1" cy="587.9" r="1.6"/><circle cx="98.5" cy="564.9" r="1.6"/><circle cx="87.0" cy="552.8" r="1.6"/><circle cx="63.1" cy="585.0" r="1.6"/><circle cx="65.8" cy="585.9" r="1.6"/><circle cx="83.1" cy="575.1" r="1.6"/><circle cx="114.1" cy="544.6" r="1.6"/><circle cx="36.1" cy="602.2" r="1.6"/><circle cx="78.1" cy="580.2" r="1.6"/><circle cx="58.5" cy="588.8" r="1.6"/><circle cx="72.8" cy="577.9" r="1.6"/><circle cx="88.9" cy="578.2" r="1.6"/><circle cx="135.8" cy="524.1" r="1.6"/><circle cx="73.5" cy="577.4" r="1.6"/><circle cx="95.3" cy="561.3" r="1.6"/><circle cx="44.4" cy="598.8" r="1.6"/><circle cx="50.1" cy="602.6" r="1.6"/><circle cx="79.7" cy="576.2" r="1.6"/><circle cx="53.7" cy="594.8" r="1.6"/><circle cx="44.8" cy="605.8" r="1.6"/><circle cx="76.6" cy="579.1" r="1.6"/><circle cx="120.1" cy="535.2" r="1.6"/><circle cx="50.3" cy="597.6" r="1.6"/><circle cx="118.4" cy="541.2" r="1.6"/><circle cx="48.5" cy="594.4" r="1.6"/><circle cx="147.2" cy="510.9" r="1.6"/><circle cx="84.7" cy="574.1" r="1.6"/><circle cx="93.9" cy="567.3" r="1.6"/><circle cx="71.4" cy="589.1" r="1.6"/><circle cx="59.3" cy="591.2" r="1.6"/><circle cx="103.4" cy="555.3" r="1.6"/><circle cx="55.7" cy="595.5" r="1.6"/><circle cx="72.3" cy="585.7" r="1.6"/><circle cx="144.1" cy="513.5" r="1.6"/><circle cx="99.5" cy="557.1" r="1.6"/><circle cx="65.7" cy="584.9" r="1.6"/><circle cx="54.0" cy="574.1" r="1.6"/><circle cx="145.2" cy="514.2" r="1.6"/><circle cx="51.5" cy="590.0" r="1.6"/><circle cx="76.0" cy="578.1" r="1.6"/><circle cx="78.0" cy="576.3" r="1.6"/><circle cx="72.5" cy="588.7" r="1.6"/><circle cx="85.8" cy="570.1" r="1.6"/><circle cx="99.8" cy="545.3" r="1.6"/><circle cx="73.2" cy="583.6" r="1.6"/><circle cx="55.3" cy="591.8" r="1.6"/><circle cx="60.6" cy="591.0" r="1.6"/><circle cx="87.0" cy="562.5" r="1.6"/><circle cx="54.7" cy="600.4" r="1.6"/><circle cx="74.9" cy="584.8" r="1.6"/><circle cx="148.8" cy="506.6" r="1.6"/><circle cx="75.3" cy="585.0" r="1.6"/><circle cx="49.6" cy="600.2" r="1.6"/><circle cx="51.1" cy="604.6" r="1.6"/><circle cx="87.9" cy="572.1" r="1.6"/><circle cx="48.9" cy="591.2" r="1.6"/><circle cx="73.1" cy="582.1" r="1.6"/><circle cx="113.8" cy="545.5" r="1.6"/><circle cx="59.9" cy="589.0" r="1.6"/><circle cx="87.7" cy="576.1" r="1.6"/><circle cx="48.9" cy="604.6" r="1.6"/><circle cx="112.7" cy="552.0" r="1.6"/><circle cx="58.7" cy="590.0" r="1.6"/><circle cx="109.0" cy="557.2" r="1.6"/><circle cx="77.8" cy="546.4" r="1.6"/><circle cx="42.4" cy="605.1" r="1.6"/><circle cx="83.7" cy="576.4" r="1.6"/><circle cx="80.4" cy="574.9" r="1.6"/><circle cx="118.0" cy="536.6" r="1.6"/><circle cx="118.9" cy="527.1" r="1.6"/><circle cx="51.8" cy="592.5" r="1.6"/><circle cx="87.7" cy="572.3" r="1.6"/><circle cx="88.7" cy="570.0" r="1.6"/><circle cx="85.4" cy="566.4" r="1.6"/><circle cx="85.7" cy="571.8" r="1.6"/><circle cx="91.7" cy="571.3" r="1.6"/><circle cx="51.2" cy="595.0" r="1.6"/><circle cx="166.8" cy="495.7" r="1.6"/><circle cx="83.1" cy="575.7" r="1.6"/><circle cx="54.9" cy="598.9" r="1.6"/><circle cx="73.1" cy="582.5" r="1.6"/><circle cx="40.1" cy="605.6" r="1.6"/><circle cx="54.3" cy="599.5" r="1.6"/><circle cx="72.9" cy="576.3" r="1.6"/><circle cx="152.0" cy="507.2" r="1.6"/><circle cx="39.6" cy="599.7" r="1.6"/><circle cx="35.0" cy="602.7" r="1.6"/><circle cx="69.7" cy="582.2" r="1.6"/><circle cx="77.9" cy="576.0" r="1.6"/><circle cx="110.2" cy="544.9" r="1.6"/><circle cx="37.8" cy="608.4" r="1.6"/><circle cx="79.0" cy="570.6" r="1.6"/><circle cx="86.5" cy="573.6" r="1.6"/><circle cx="115.6" cy="541.3" r="1.6"/><circle cx="76.2" cy="574.0" r="1.6"/><circle cx="86.4" cy="559.3" r="1.6"/><circle cx="76.6" cy="578.2" r="1.6"/><circle cx="66.2" cy="587.3" r="1.6"/><circle cx="154.7" cy="503.3" r="1.6"/><circle cx="116.6" cy="535.1" r="1.6"/><circle cx="47.8" cy="597.5" r="1.6"/><circle cx="83.1" cy="575.6" r="1.6"/><circle cx="57.3" cy="598.1" r="1.6"/><circle cx="120.6" cy="547.4" r="1.6"/><circle cx="77.8" cy="574.1" r="1.6"/><circle cx="39.7" cy="599.6" r="1.6"/><circle cx="53.8" cy="590.2" r="1.6"/><circle cx="92.9" cy="565.6" r="1.6"/><circle cx="76.1" cy="574.9" r="1.6"/><circle cx="138.7" cy="515.0" r="1.6"/><circle cx="95.4" cy="560.5" r="1.6"/><circle cx="83.3" cy="567.4" r="1.6"/><circle cx="37.7" cy="599.5" r="1.6"/><circle cx="84.2" cy="558.8" r="1.6"/><circle cx="54.8" cy="582.9" r="1.6"/><circle cx="72.5" cy="583.7" r="1.6"/><circle cx="43.8" cy="600.6" r="1.6"/><circle cx="49.3" cy="595.5" r="1.6"/><circle cx="120.8" cy="543.1" r="1.6"/><circle cx="54.9" cy="596.6" r="1.6"/><circle cx="113.6" cy="542.6" r="1.6"/><circle cx="111.3" cy="544.7" r="1.6"/><circle cx="42.8" cy="607.3" r="1.6"/><circle cx="50.8" cy="602.8" r="1.6"/><circle cx="114.9" cy="541.0" r="1.6"/><circle cx="78.0" cy="577.3" r="1.6"/><circle cx="64.9" cy="585.8" r="1.6"/><circle cx="50.6" cy="591.8" r="1.6"/><circle cx="60.3" cy="588.3" r="1.6"/><circle cx="60.1" cy="587.3" r="1.6"/><circle cx="90.5" cy="565.3" r="1.6"/><circle cx="43.6" cy="604.7" r="1.6"/><circle cx="66.2" cy="590.3" r="1.6"/><circle cx="115.1" cy="542.7" r="1.6"/><circle cx="88.0" cy="573.3" r="1.6"/><circle cx="112.8" cy="548.2" r="1.6"/><circle cx="85.2" cy="573.0" r="1.6"/><circle cx="98.8" cy="554.3" r="1.6"/><circle cx="86.6" cy="585.2" r="1.6"/><circle cx="39.8" cy="596.2" r="1.6"/><circle cx="37.2" cy="599.9" r="1.6"/><circle cx="57.7" cy="596.9" r="1.6"/><circle cx="52.5" cy="602.1" r="1.6"/><circle cx="35.8" cy="609.2" r="1.6"/><circle cx="142.5" cy="518.1" r="1.6"/><circle cx="83.8" cy="575.0" r="1.6"/><circle cx="77.0" cy="570.4" r="1.6"/><circle cx="67.4" cy="584.4" r="1.6"/><circle cx="37.5" cy="604.5" r="1.6"/><circle cx="72.5" cy="579.7" r="1.6"/><circle cx="78.9" cy="568.6" r="1.6"/><circle cx="147.1" cy="510.7" r="1.6"/><circle cx="103.6" cy="555.0" r="1.6"/><circle cx="78.4" cy="578.7" r="1.6"/><circle cx="128.8" cy="534.1" r="1.6"/><circle cx="88.0" cy="574.4" r="1.6"/><circle cx="51.4" cy="600.8" r="1.6"/><circle cx="130.2" cy="527.9" r="1.6"/><circle cx="108.5" cy="554.0" r="1.6"/><circle cx="45.1" cy="592.0" r="1.6"/><circle cx="91.3" cy="568.6" r="1.6"/><circle cx="54.0" cy="593.9" r="1.6"/><circle cx="76.8" cy="581.8" r="1.6"/><circle cx="66.2" cy="587.2" r="1.6"/><circle cx="59.2" cy="583.4" r="1.6"/><circle cx="85.2" cy="573.8" r="1.6"/><circle cx="121.6" cy="529.4" r="1.6"/><circle cx="109.7" cy="552.5" r="1.6"/><circle cx="47.7" cy="595.3" r="1.6"/><circle cx="50.4" cy="605.9" r="1.6"/><circle cx="57.6" cy="595.4" r="1.6"/><circle cx="47.2" cy="597.4" r="1.6"/><circle cx="44.6" cy="607.7" r="1.6"/><circle cx="128.1" cy="529.6" r="1.6"/><circle cx="63.0" cy="582.8" r="1.6"/><circle cx="81.9" cy="580.9" r="1.6"/><circle cx="48.0" cy="597.9" r="1.6"/><circle cx="81.1" cy="579.0" r="1.6"/><circle cx="63.4" cy="594.8" r="1.6"/><circle cx="64.0" cy="580.0" r="1.6"/><circle cx="43.9" cy="598.6" r="1.6"/><circle cx="54.9" cy="588.3" r="1.6"/><circle cx="78.4" cy="575.6" r="1.6"/><circle cx="117.2" cy="537.8" r="1.6"/><circle cx="51.9" cy="595.5" r="1.6"/><circle cx="73.6" cy="583.2" r="1.6"/><circle cx="54.5" cy="587.7" r="1.6"/><circle cx="73.1" cy="580.2" r="1.6"/><circle cx="44.3" cy="607.3" r="1.6"/><circle cx="57.8" cy="605.8" r="1.6"/><circle cx="94.2" cy="562.6" r="1.6"/><circle cx="52.4" cy="594.6" r="1.6"/><circle cx="55.6" cy="595.8" r="1.6"/><circle cx="105.3" cy="560.6" r="1.6"/><circle cx="85.5" cy="570.3" r="1.6"/><circle cx="150.6" cy="510.7" r="1.6"/><circle cx="101.4" cy="558.8" r="1.6"/><circle cx="48.0" cy="597.6" r="1.6"/><circle cx="54.6" cy="595.0" r="1.6"/><circle cx="70.5" cy="582.7" r="1.6"/><circle cx="105.8" cy="551.5" r="1.6"/><circle cx="45.1" cy="603.4" r="1.6"/><circle cx="36.8" cy="602.7" r="1.6"/><circle cx="55.9" cy="600.9" r="1.6"/><circle cx="111.7" cy="547.3" r="1.6"/><circle cx="155.5" cy="504.2" r="1.6"/><circle cx="45.4" cy="601.0" r="1.6"/><circle cx="52.1" cy="586.9" r="1.6"/><circle cx="122.4" cy="540.0" r="1.6"/><circle cx="42.8" cy="611.9" r="1.6"/><circle cx="97.5" cy="558.7" r="1.6"/><circle cx="98.0" cy="564.6" r="1.6"/><circle cx="73.3" cy="576.1" r="1.6"/><circle cx="81.7" cy="568.7" r="1.6"/><circle cx="101.5" cy="552.2" r="1.6"/><circle cx="61.4" cy="592.0" r="1.6"/><circle cx="42.6" cy="602.1" r="1.6"/><circle cx="39.2" cy="594.6" r="1.6"/><circle cx="142.5" cy="513.9" r="1.6"/><circle cx="46.3" cy="597.5" r="1.6"/><circle cx="123.1" cy="542.0" r="1.6"/><circle cx="130.4" cy="528.8" r="1.6"/><circle cx="90.0" cy="561.8" r="1.6"/><circle cx="45.1" cy="602.0" r="1.6"/><circle cx="89.9" cy="571.0" r="1.6"/><circle cx="39.3" cy="606.9" r="1.6"/><circle cx="44.9" cy="605.7" r="1.6"/><circle cx="110.8" cy="539.7" r="1.6"/><circle cx="77.0" cy="577.7" r="1.6"/><circle cx="44.4" cy="603.0" r="1.6"/><circle cx="78.7" cy="584.8" r="1.6"/><circle cx="35.6" cy="607.5" r="1.6"/><circle cx="88.3" cy="564.2" r="1.6"/><circle cx="45.4" cy="594.2" r="1.6"/><circle cx="46.2" cy="599.0" r="1.6"/><circle cx="92.4" cy="564.6" r="1.6"/><circle cx="71.4" cy="586.5" r="1.6"/><circle cx="101.4" cy="558.4" r="1.6"/><circle cx="116.8" cy="539.4" r="1.6"/><circle cx="123.3" cy="536.2" r="1.6"/><circle cx="67.9" cy="584.7" r="1.6"/><circle cx="51.4" cy="597.6" r="1.6"/><circle cx="56.6" cy="599.1" r="1.6"/><circle cx="92.4" cy="558.4" r="1.6"/></g>
<g fill="#3cd03a" stroke="#0e3e0e" stroke-width="0.65"><circle cx="125.8" cy="592.4" r="1.6"/><circle cx="138.4" cy="587.7" r="1.6"/><circle cx="191.6" cy="530.4" r="1.6"/><circle cx="95.7" cy="635.4" r="1.6"/><circle cx="117.4" cy="599.4" r="1.6"/><circle cx="147.0" cy="580.9" r="1.6"/><circle cx="121.0" cy="606.6" r="1.6"/><circle cx="101.0" cy="637.9" r="1.6"/><circle cx="147.1" cy="574.2" r="1.6"/><circle cx="115.7" cy="626.9" r="1.6"/><circle cx="174.2" cy="552.7" r="1.6"/><circle cx="142.6" cy="576.6" r="1.6"/><circle cx="134.7" cy="589.3" r="1.6"/><circle cx="98.2" cy="632.4" r="1.6"/><circle cx="151.4" cy="566.9" r="1.6"/><circle cx="100.1" cy="635.8" r="1.6"/><circle cx="119.1" cy="609.7" r="1.6"/><circle cx="98.4" cy="619.5" r="1.6"/><circle cx="186.7" cy="531.0" r="1.6"/><circle cx="99.0" cy="631.5" r="1.6"/><circle cx="159.2" cy="567.4" r="1.6"/><circle cx="126.2" cy="591.4" r="1.6"/><circle cx="104.4" cy="618.2" r="1.6"/><circle cx="92.4" cy="649.7" r="1.6"/><circle cx="87.5" cy="647.5" r="1.6"/><circle cx="172.0" cy="566.3" r="1.6"/><circle cx="119.7" cy="607.0" r="1.6"/><circle cx="101.2" cy="630.2" r="1.6"/><circle cx="154.1" cy="574.4" r="1.6"/><circle cx="120.4" cy="604.9" r="1.6"/><circle cx="199.4" cy="525.6" r="1.6"/><circle cx="96.1" cy="632.8" r="1.6"/><circle cx="177.5" cy="542.7" r="1.6"/><circle cx="156.2" cy="568.1" r="1.6"/><circle cx="85.3" cy="635.5" r="1.6"/><circle cx="170.7" cy="553.9" r="1.6"/><circle cx="107.0" cy="623.5" r="1.6"/><circle cx="186.5" cy="541.4" r="1.6"/><circle cx="104.0" cy="625.0" r="1.6"/><circle cx="201.4" cy="513.4" r="1.6"/><circle cx="136.0" cy="608.2" r="1.6"/><circle cx="168.7" cy="558.2" r="1.6"/><circle cx="141.8" cy="574.3" r="1.6"/><circle cx="108.8" cy="616.6" r="1.6"/><circle cx="136.1" cy="588.0" r="1.6"/><circle cx="175.2" cy="554.9" r="1.6"/><circle cx="106.3" cy="620.5" r="1.6"/><circle cx="108.1" cy="616.9" r="1.6"/><circle cx="87.7" cy="650.1" r="1.6"/><circle cx="111.5" cy="649.5" r="1.6"/><circle cx="121.5" cy="602.0" r="1.6"/><circle cx="120.7" cy="601.6" r="1.6"/><circle cx="180.2" cy="547.3" r="1.6"/><circle cx="116.3" cy="617.4" r="1.6"/><circle cx="121.8" cy="613.1" r="1.6"/><circle cx="163.6" cy="560.2" r="1.6"/><circle cx="111.4" cy="629.5" r="1.6"/><circle cx="94.4" cy="628.9" r="1.6"/><circle cx="104.7" cy="626.7" r="1.6"/><circle cx="117.6" cy="604.6" r="1.6"/><circle cx="105.1" cy="634.9" r="1.6"/><circle cx="188.5" cy="541.2" r="1.6"/><circle cx="110.4" cy="627.8" r="1.6"/><circle cx="130.8" cy="602.9" r="1.6"/><circle cx="185.1" cy="537.5" r="1.6"/><circle cx="119.3" cy="641.2" r="1.6"/><circle cx="164.1" cy="552.9" r="1.6"/><circle cx="97.7" cy="632.1" r="1.6"/><circle cx="89.1" cy="650.9" r="1.6"/><circle cx="121.8" cy="600.1" r="1.6"/><circle cx="115.9" cy="613.2" r="1.6"/><circle cx="140.0" cy="588.0" r="1.6"/><circle cx="174.0" cy="553.0" r="1.6"/><circle cx="161.0" cy="562.3" r="1.6"/><circle cx="106.3" cy="650.6" r="1.6"/><circle cx="167.5" cy="555.0" r="1.6"/><circle cx="204.0" cy="520.0" r="1.6"/><circle cx="102.3" cy="651.2" r="1.6"/><circle cx="98.3" cy="636.6" r="1.6"/><circle cx="179.8" cy="534.0" r="1.6"/><circle cx="128.8" cy="591.7" r="1.6"/><circle cx="95.6" cy="633.8" r="1.6"/><circle cx="130.1" cy="583.1" r="1.6"/><circle cx="151.3" cy="590.9" r="1.6"/><circle cx="125.5" cy="599.4" r="1.6"/><circle cx="150.0" cy="578.3" r="1.6"/><circle cx="144.9" cy="580.4" r="1.6"/><circle cx="103.6" cy="627.4" r="1.6"/><circle cx="139.6" cy="582.3" r="1.6"/><circle cx="192.6" cy="525.7" r="1.6"/><circle cx="127.4" cy="602.4" r="1.6"/><circle cx="157.7" cy="564.7" r="1.6"/><circle cx="173.4" cy="543.2" r="1.6"/><circle cx="184.8" cy="541.1" r="1.6"/><circle cx="119.3" cy="607.4" r="1.6"/><circle cx="161.2" cy="564.2" r="1.6"/><circle cx="106.3" cy="626.2" r="1.6"/><circle cx="122.7" cy="603.2" r="1.6"/><circle cx="114.6" cy="610.3" r="1.6"/><circle cx="127.5" cy="591.0" r="1.6"/><circle cx="145.4" cy="579.9" r="1.6"/><circle cx="108.9" cy="649.2" r="1.6"/><circle cx="107.6" cy="651.1" r="1.6"/><circle cx="169.1" cy="568.3" r="1.6"/><circle cx="136.5" cy="588.4" r="1.6"/><circle cx="142.1" cy="590.6" r="1.6"/><circle cx="108.7" cy="616.3" r="1.6"/><circle cx="145.8" cy="611.2" r="1.6"/><circle cx="129.3" cy="588.2" r="1.6"/><circle cx="94.9" cy="636.7" r="1.6"/><circle cx="109.6" cy="620.7" r="1.6"/><circle cx="202.2" cy="513.3" r="1.6"/><circle cx="180.1" cy="542.9" r="1.6"/><circle cx="111.5" cy="608.5" r="1.6"/><circle cx="124.0" cy="594.0" r="1.6"/><circle cx="176.2" cy="541.1" r="1.6"/><circle cx="118.8" cy="612.8" r="1.6"/><circle cx="121.7" cy="604.9" r="1.6"/><circle cx="90.9" cy="639.7" r="1.6"/><circle cx="93.7" cy="648.5" r="1.6"/><circle cx="137.2" cy="587.9" r="1.6"/><circle cx="167.1" cy="558.3" r="1.6"/><circle cx="107.0" cy="624.3" r="1.6"/><circle cx="146.0" cy="580.8" r="1.6"/><circle cx="139.5" cy="599.4" r="1.6"/><circle cx="154.3" cy="563.4" r="1.6"/><circle cx="204.1" cy="520.9" r="1.6"/><circle cx="144.8" cy="579.1" r="1.6"/><circle cx="153.5" cy="572.7" r="1.6"/><circle cx="149.5" cy="612.9" r="1.6"/><circle cx="104.5" cy="616.5" r="1.6"/><circle cx="158.4" cy="573.3" r="1.6"/><circle cx="173.2" cy="550.7" r="1.6"/><circle cx="111.0" cy="623.8" r="1.6"/><circle cx="142.4" cy="580.9" r="1.6"/><circle cx="131.9" cy="594.7" r="1.6"/><circle cx="139.0" cy="587.9" r="1.6"/><circle cx="93.6" cy="647.1" r="1.6"/><circle cx="110.0" cy="625.8" r="1.6"/><circle cx="90.5" cy="639.1" r="1.6"/><circle cx="128.2" cy="592.9" r="1.6"/><circle cx="157.9" cy="570.6" r="1.6"/><circle cx="142.6" cy="579.8" r="1.6"/><circle cx="116.4" cy="621.2" r="1.6"/><circle cx="146.4" cy="576.1" r="1.6"/><circle cx="199.3" cy="532.0" r="1.6"/><circle cx="97.4" cy="631.4" r="1.6"/><circle cx="184.6" cy="537.4" r="1.6"/><circle cx="116.2" cy="614.2" r="1.6"/><circle cx="157.3" cy="587.3" r="1.6"/><circle cx="171.9" cy="557.1" r="1.6"/><circle cx="93.7" cy="634.8" r="1.6"/><circle cx="178.7" cy="537.0" r="1.6"/><circle cx="192.2" cy="539.9" r="1.6"/><circle cx="93.0" cy="640.4" r="1.6"/><circle cx="132.9" cy="585.7" r="1.6"/><circle cx="126.5" cy="592.1" r="1.6"/><circle cx="186.1" cy="541.2" r="1.6"/><circle cx="105.8" cy="621.5" r="1.6"/><circle cx="118.1" cy="609.3" r="1.6"/><circle cx="190.3" cy="533.8" r="1.6"/><circle cx="153.8" cy="566.5" r="1.6"/><circle cx="164.6" cy="562.5" r="1.6"/><circle cx="107.7" cy="619.1" r="1.6"/><circle cx="160.6" cy="566.7" r="1.6"/><circle cx="167.8" cy="556.7" r="1.6"/><circle cx="158.0" cy="569.7" r="1.6"/><circle cx="182.9" cy="540.5" r="1.6"/><circle cx="101.3" cy="631.8" r="1.6"/><circle cx="101.8" cy="621.7" r="1.6"/><circle cx="192.8" cy="524.9" r="1.6"/><circle cx="102.4" cy="623.8" r="1.6"/><circle cx="101.4" cy="630.6" r="1.6"/><circle cx="89.0" cy="644.7" r="1.6"/><circle cx="125.5" cy="615.5" r="1.6"/><circle cx="154.2" cy="595.6" r="1.6"/><circle cx="132.3" cy="591.1" r="1.6"/><circle cx="93.9" cy="638.0" r="1.6"/><circle cx="144.5" cy="578.6" r="1.6"/><circle cx="164.4" cy="560.6" r="1.6"/><circle cx="118.3" cy="605.0" r="1.6"/><circle cx="153.1" cy="570.7" r="1.6"/><circle cx="181.1" cy="536.0" r="1.6"/><circle cx="92.6" cy="651.3" r="1.6"/><circle cx="201.0" cy="525.1" r="1.6"/><circle cx="85.6" cy="650.4" r="1.6"/><circle cx="144.1" cy="579.5" r="1.6"/><circle cx="193.5" cy="537.4" r="1.6"/><circle cx="199.5" cy="523.9" r="1.6"/><circle cx="158.9" cy="565.1" r="1.6"/><circle cx="177.1" cy="545.8" r="1.6"/><circle cx="111.3" cy="619.8" r="1.6"/><circle cx="127.0" cy="598.0" r="1.6"/><circle cx="121.9" cy="600.5" r="1.6"/><circle cx="161.8" cy="560.5" r="1.6"/><circle cx="104.0" cy="625.6" r="1.6"/><circle cx="104.1" cy="620.0" r="1.6"/><circle cx="142.5" cy="586.6" r="1.6"/><circle cx="178.1" cy="546.8" r="1.6"/><circle cx="153.8" cy="578.1" r="1.6"/><circle cx="136.0" cy="583.9" r="1.6"/><circle cx="141.7" cy="582.3" r="1.6"/><circle cx="80.7" cy="650.6" r="1.6"/><circle cx="87.2" cy="648.2" r="1.6"/><circle cx="188.1" cy="531.9" r="1.6"/><circle cx="124.2" cy="601.3" r="1.6"/><circle cx="144.0" cy="581.0" r="1.6"/><circle cx="163.4" cy="566.8" r="1.6"/><circle cx="101.3" cy="624.6" r="1.6"/><circle cx="165.7" cy="583.7" r="1.6"/><circle cx="107.2" cy="616.9" r="1.6"/><circle cx="102.7" cy="631.2" r="1.6"/><circle cx="106.0" cy="621.7" r="1.6"/><circle cx="177.9" cy="543.4" r="1.6"/><circle cx="96.5" cy="643.6" r="1.6"/><circle cx="141.4" cy="579.6" r="1.6"/><circle cx="129.7" cy="618.8" r="1.6"/><circle cx="118.0" cy="606.1" r="1.6"/><circle cx="175.0" cy="551.9" r="1.6"/><circle cx="139.6" cy="588.2" r="1.6"/><circle cx="151.1" cy="573.3" r="1.6"/><circle cx="120.6" cy="603.7" r="1.6"/><circle cx="179.5" cy="545.5" r="1.6"/><circle cx="103.4" cy="620.9" r="1.6"/><circle cx="201.5" cy="520.5" r="1.6"/><circle cx="135.0" cy="592.6" r="1.6"/><circle cx="145.2" cy="566.1" r="1.6"/><circle cx="187.0" cy="528.7" r="1.6"/><circle cx="86.9" cy="638.4" r="1.6"/><circle cx="137.0" cy="591.4" r="1.6"/><circle cx="82.2" cy="640.1" r="1.6"/><circle cx="129.2" cy="595.0" r="1.6"/><circle cx="100.6" cy="631.9" r="1.6"/><circle cx="153.6" cy="564.5" r="1.6"/><circle cx="194.3" cy="527.8" r="1.6"/><circle cx="81.7" cy="643.8" r="1.6"/><circle cx="177.9" cy="556.9" r="1.6"/><circle cx="96.8" cy="637.7" r="1.6"/><circle cx="172.9" cy="577.1" r="1.6"/><circle cx="164.9" cy="561.8" r="1.6"/><circle cx="89.6" cy="649.7" r="1.6"/><circle cx="146.5" cy="581.4" r="1.6"/><circle cx="114.9" cy="632.8" r="1.6"/><circle cx="115.6" cy="627.6" r="1.6"/><circle cx="108.2" cy="650.0" r="1.6"/><circle cx="96.1" cy="636.6" r="1.6"/><circle cx="97.8" cy="639.9" r="1.6"/><circle cx="115.7" cy="616.5" r="1.6"/><circle cx="187.5" cy="529.4" r="1.6"/><circle cx="189.4" cy="533.1" r="1.6"/><circle cx="97.0" cy="650.8" r="1.6"/><circle cx="147.2" cy="579.5" r="1.6"/><circle cx="88.9" cy="643.6" r="1.6"/><circle cx="185.5" cy="541.3" r="1.6"/><circle cx="121.3" cy="598.4" r="1.6"/><circle cx="175.3" cy="554.5" r="1.6"/><circle cx="142.6" cy="587.6" r="1.6"/><circle cx="106.4" cy="621.0" r="1.6"/><circle cx="182.7" cy="538.3" r="1.6"/><circle cx="157.7" cy="562.3" r="1.6"/><circle cx="104.7" cy="623.8" r="1.6"/><circle cx="128.5" cy="596.8" r="1.6"/><circle cx="196.2" cy="517.5" r="1.6"/><circle cx="120.6" cy="601.1" r="1.6"/><circle cx="141.8" cy="580.5" r="1.6"/><circle cx="182.7" cy="536.8" r="1.6"/><circle cx="125.6" cy="599.0" r="1.6"/><circle cx="167.7" cy="553.4" r="1.6"/><circle cx="199.4" cy="518.7" r="1.6"/><circle cx="98.9" cy="637.4" r="1.6"/><circle cx="126.4" cy="627.6" r="1.6"/><circle cx="125.9" cy="604.3" r="1.6"/><circle cx="165.8" cy="566.5" r="1.6"/><circle cx="107.6" cy="649.5" r="1.6"/><circle cx="177.9" cy="548.9" r="1.6"/><circle cx="182.7" cy="549.8" r="1.6"/><circle cx="149.0" cy="619.0" r="1.6"/><circle cx="146.9" cy="580.3" r="1.6"/><circle cx="102.1" cy="640.9" r="1.6"/><circle cx="105.5" cy="624.7" r="1.6"/><circle cx="157.9" cy="571.4" r="1.6"/><circle cx="152.9" cy="569.1" r="1.6"/><circle cx="117.5" cy="608.8" r="1.6"/><circle cx="98.2" cy="644.0" r="1.6"/><circle cx="84.0" cy="651.2" r="1.6"/><circle cx="101.4" cy="625.4" r="1.6"/><circle cx="191.3" cy="543.3" r="1.6"/><circle cx="105.9" cy="631.0" r="1.6"/><circle cx="101.7" cy="623.0" r="1.6"/><circle cx="114.8" cy="616.2" r="1.6"/><circle cx="152.9" cy="571.2" r="1.6"/><circle cx="163.5" cy="564.9" r="1.6"/><circle cx="98.8" cy="634.5" r="1.6"/><circle cx="107.3" cy="649.0" r="1.6"/><circle cx="103.1" cy="628.2" r="1.6"/><circle cx="153.0" cy="561.0" r="1.6"/><circle cx="133.6" cy="589.8" r="1.6"/><circle cx="117.4" cy="611.0" r="1.6"/><circle cx="162.1" cy="558.8" r="1.6"/><circle cx="109.6" cy="622.3" r="1.6"/><circle cx="86.7" cy="650.6" r="1.6"/><circle cx="92.3" cy="639.2" r="1.6"/><circle cx="154.2" cy="587.7" r="1.6"/><circle cx="140.8" cy="594.6" r="1.6"/><circle cx="101.3" cy="650.6" r="1.6"/><circle cx="194.7" cy="525.7" r="1.6"/><circle cx="118.6" cy="601.4" r="1.6"/><circle cx="129.2" cy="591.3" r="1.6"/><circle cx="87.7" cy="650.4" r="1.6"/><circle cx="154.4" cy="573.2" r="1.6"/><circle cx="80.7" cy="650.7" r="1.6"/><circle cx="153.4" cy="567.7" r="1.6"/><circle cx="124.2" cy="591.9" r="1.6"/><circle cx="110.6" cy="617.0" r="1.6"/><circle cx="127.1" cy="597.8" r="1.6"/><circle cx="108.4" cy="624.2" r="1.6"/><circle cx="160.3" cy="568.3" r="1.6"/><circle cx="82.3" cy="650.5" r="1.6"/><circle cx="167.5" cy="564.1" r="1.6"/><circle cx="110.0" cy="613.6" r="1.6"/><circle cx="142.8" cy="589.7" r="1.6"/><circle cx="128.1" cy="595.1" r="1.6"/><circle cx="109.5" cy="626.8" r="1.6"/><circle cx="200.0" cy="519.9" r="1.6"/><circle cx="91.1" cy="637.2" r="1.6"/><circle cx="165.6" cy="564.0" r="1.6"/><circle cx="109.8" cy="624.9" r="1.6"/><circle cx="89.8" cy="640.5" r="1.6"/><circle cx="137.7" cy="588.1" r="1.6"/><circle cx="103.6" cy="620.4" r="1.6"/><circle cx="116.4" cy="613.3" r="1.6"/><circle cx="98.6" cy="622.1" r="1.6"/><circle cx="185.1" cy="533.1" r="1.6"/><circle cx="169.3" cy="546.8" r="1.6"/><circle cx="148.0" cy="577.8" r="1.6"/><circle cx="187.6" cy="533.5" r="1.6"/><circle cx="110.8" cy="622.5" r="1.6"/><circle cx="195.8" cy="521.3" r="1.6"/><circle cx="160.1" cy="562.9" r="1.6"/><circle cx="205.9" cy="522.8" r="1.6"/><circle cx="185.9" cy="528.2" r="1.6"/><circle cx="139.8" cy="577.5" r="1.6"/><circle cx="103.5" cy="616.9" r="1.6"/><circle cx="134.4" cy="624.5" r="1.6"/><circle cx="138.2" cy="586.2" r="1.6"/><circle cx="146.9" cy="571.3" r="1.6"/><circle cx="160.7" cy="559.3" r="1.6"/><circle cx="119.6" cy="613.7" r="1.6"/><circle cx="188.4" cy="546.4" r="1.6"/><circle cx="131.7" cy="589.7" r="1.6"/><circle cx="117.7" cy="614.8" r="1.6"/><circle cx="116.3" cy="604.1" r="1.6"/><circle cx="181.0" cy="536.9" r="1.6"/><circle cx="170.8" cy="551.1" r="1.6"/><circle cx="118.6" cy="616.1" r="1.6"/><circle cx="111.4" cy="604.4" r="1.6"/><circle cx="115.3" cy="611.2" r="1.6"/><circle cx="133.7" cy="596.4" r="1.6"/><circle cx="124.2" cy="588.8" r="1.6"/><circle cx="113.6" cy="650.8" r="1.6"/><circle cx="183.4" cy="534.4" r="1.6"/><circle cx="153.7" cy="620.0" r="1.6"/><circle cx="109.1" cy="614.2" r="1.6"/><circle cx="189.0" cy="536.0" r="1.6"/><circle cx="197.0" cy="513.4" r="1.6"/><circle cx="158.6" cy="571.2" r="1.6"/><circle cx="110.4" cy="622.3" r="1.6"/><circle cx="108.0" cy="629.9" r="1.6"/><circle cx="192.8" cy="526.1" r="1.6"/><circle cx="110.0" cy="622.6" r="1.6"/><circle cx="164.2" cy="561.0" r="1.6"/><circle cx="114.5" cy="602.0" r="1.6"/><circle cx="128.0" cy="597.1" r="1.6"/><circle cx="156.4" cy="564.2" r="1.6"/><circle cx="122.3" cy="597.9" r="1.6"/><circle cx="127.6" cy="597.5" r="1.6"/><circle cx="100.2" cy="638.8" r="1.6"/><circle cx="193.4" cy="529.3" r="1.6"/><circle cx="138.3" cy="588.8" r="1.6"/><circle cx="173.7" cy="545.5" r="1.6"/><circle cx="113.3" cy="616.5" r="1.6"/><circle cx="90.6" cy="649.6" r="1.6"/><circle cx="166.7" cy="560.9" r="1.6"/><circle cx="111.8" cy="602.4" r="1.6"/><circle cx="92.0" cy="639.8" r="1.6"/><circle cx="99.2" cy="629.8" r="1.6"/><circle cx="149.4" cy="575.1" r="1.6"/><circle cx="88.9" cy="636.6" r="1.6"/><circle cx="104.5" cy="636.8" r="1.6"/><circle cx="134.6" cy="594.7" r="1.6"/><circle cx="108.5" cy="613.4" r="1.6"/><circle cx="158.2" cy="567.5" r="1.6"/><circle cx="92.8" cy="626.6" r="1.6"/><circle cx="159.1" cy="588.8" r="1.6"/><circle cx="171.8" cy="547.9" r="1.6"/><circle cx="175.1" cy="552.3" r="1.6"/><circle cx="121.7" cy="612.8" r="1.6"/><circle cx="105.2" cy="629.8" r="1.6"/><circle cx="118.1" cy="609.6" r="1.6"/><circle cx="178.3" cy="548.6" r="1.6"/><circle cx="189.2" cy="531.3" r="1.6"/><circle cx="98.4" cy="650.9" r="1.6"/><circle cx="132.6" cy="587.9" r="1.6"/><circle cx="121.1" cy="606.6" r="1.6"/><circle cx="166.8" cy="556.6" r="1.6"/><circle cx="107.9" cy="637.0" r="1.6"/><circle cx="120.4" cy="602.2" r="1.6"/><circle cx="104.7" cy="636.3" r="1.6"/><circle cx="131.4" cy="599.3" r="1.6"/><circle cx="115.4" cy="619.7" r="1.6"/><circle cx="124.7" cy="600.3" r="1.6"/><circle cx="102.1" cy="629.8" r="1.6"/><circle cx="101.0" cy="651.1" r="1.6"/><circle cx="94.1" cy="632.6" r="1.6"/><circle cx="105.3" cy="628.8" r="1.6"/><circle cx="120.9" cy="611.2" r="1.6"/><circle cx="123.4" cy="596.4" r="1.6"/><circle cx="113.3" cy="645.8" r="1.6"/><circle cx="153.7" cy="566.2" r="1.6"/><circle cx="89.5" cy="640.8" r="1.6"/><circle cx="194.6" cy="524.8" r="1.6"/><circle cx="157.6" cy="559.6" r="1.6"/><circle cx="154.6" cy="568.2" r="1.6"/><circle cx="152.3" cy="571.4" r="1.6"/><circle cx="91.8" cy="631.1" r="1.6"/><circle cx="80.4" cy="650.9" r="1.6"/><circle cx="142.9" cy="582.7" r="1.6"/><circle cx="169.1" cy="555.1" r="1.6"/><circle cx="170.3" cy="553.0" r="1.6"/><circle cx="99.5" cy="631.4" r="1.6"/><circle cx="131.1" cy="595.6" r="1.6"/><circle cx="184.2" cy="543.6" r="1.6"/><circle cx="98.3" cy="642.3" r="1.6"/><circle cx="151.4" cy="579.7" r="1.6"/><circle cx="150.2" cy="584.9" r="1.6"/><circle cx="115.2" cy="618.6" r="1.6"/><circle cx="160.2" cy="570.2" r="1.6"/><circle cx="147.6" cy="586.5" r="1.6"/><circle cx="120.5" cy="604.8" r="1.6"/><circle cx="144.4" cy="581.5" r="1.6"/><circle cx="185.2" cy="537.5" r="1.6"/><circle cx="183.0" cy="537.5" r="1.6"/><circle cx="176.8" cy="538.9" r="1.6"/><circle cx="104.1" cy="618.0" r="1.6"/><circle cx="104.8" cy="637.8" r="1.6"/><circle cx="145.4" cy="579.1" r="1.6"/><circle cx="149.6" cy="577.0" r="1.6"/><circle cx="199.4" cy="514.3" r="1.6"/><circle cx="201.7" cy="526.9" r="1.6"/><circle cx="102.2" cy="634.8" r="1.6"/><circle cx="113.5" cy="602.8" r="1.6"/><circle cx="101.8" cy="649.0" r="1.6"/><circle cx="128.2" cy="591.0" r="1.6"/><circle cx="141.2" cy="591.1" r="1.6"/><circle cx="103.2" cy="623.6" r="1.6"/><circle cx="85.5" cy="634.1" r="1.6"/><circle cx="134.6" cy="590.7" r="1.6"/><circle cx="104.6" cy="632.9" r="1.6"/><circle cx="140.7" cy="592.5" r="1.6"/><circle cx="166.7" cy="563.7" r="1.6"/><circle cx="124.8" cy="608.0" r="1.6"/><circle cx="123.8" cy="603.2" r="1.6"/><circle cx="197.8" cy="539.1" r="1.6"/><circle cx="102.5" cy="631.2" r="1.6"/><circle cx="89.4" cy="634.7" r="1.6"/><circle cx="123.6" cy="597.9" r="1.6"/><circle cx="96.3" cy="636.4" r="1.6"/><circle cx="165.6" cy="566.2" r="1.6"/><circle cx="166.1" cy="558.0" r="1.6"/><circle cx="105.4" cy="631.1" r="1.6"/><circle cx="105.7" cy="624.1" r="1.6"/><circle cx="111.3" cy="622.2" r="1.6"/><circle cx="100.7" cy="631.9" r="1.6"/><circle cx="173.6" cy="543.6" r="1.6"/><circle cx="199.2" cy="531.0" r="1.6"/><circle cx="174.5" cy="552.7" r="1.6"/><circle cx="152.0" cy="572.6" r="1.6"/><circle cx="130.5" cy="599.4" r="1.6"/><circle cx="166.7" cy="554.3" r="1.6"/><circle cx="153.0" cy="574.2" r="1.6"/><circle cx="108.7" cy="651.2" r="1.6"/><circle cx="155.0" cy="608.8" r="1.6"/><circle cx="158.9" cy="586.6" r="1.6"/><circle cx="96.4" cy="641.5" r="1.6"/><circle cx="97.4" cy="627.2" r="1.6"/><circle cx="128.3" cy="601.0" r="1.6"/><circle cx="84.5" cy="648.4" r="1.6"/><circle cx="149.3" cy="575.3" r="1.6"/><circle cx="95.6" cy="640.8" r="1.6"/><circle cx="137.5" cy="581.7" r="1.6"/><circle cx="173.9" cy="565.0" r="1.6"/><circle cx="153.1" cy="577.1" r="1.6"/><circle cx="167.9" cy="551.9" r="1.6"/><circle cx="192.6" cy="528.7" r="1.6"/><circle cx="102.0" cy="633.4" r="1.6"/><circle cx="97.7" cy="639.8" r="1.6"/><circle cx="157.4" cy="572.5" r="1.6"/><circle cx="101.9" cy="642.5" r="1.6"/><circle cx="96.3" cy="642.5" r="1.6"/><circle cx="92.8" cy="639.4" r="1.6"/><circle cx="109.6" cy="624.3" r="1.6"/><circle cx="173.5" cy="552.7" r="1.6"/><circle cx="208.8" cy="516.8" r="1.6"/><circle cx="193.8" cy="525.8" r="1.6"/><circle cx="114.5" cy="650.7" r="1.6"/><circle cx="158.0" cy="590.2" r="1.6"/><circle cx="190.8" cy="531.6" r="1.6"/><circle cx="97.1" cy="638.6" r="1.6"/><circle cx="92.6" cy="637.6" r="1.6"/><circle cx="127.1" cy="600.0" r="1.6"/><circle cx="172.6" cy="558.2" r="1.6"/><circle cx="119.7" cy="610.6" r="1.6"/><circle cx="91.7" cy="645.8" r="1.6"/><circle cx="98.2" cy="651.1" r="1.6"/><circle cx="95.4" cy="627.5" r="1.6"/><circle cx="146.2" cy="584.2" r="1.6"/><circle cx="153.9" cy="571.1" r="1.6"/><circle cx="123.7" cy="602.5" r="1.6"/><circle cx="157.5" cy="574.1" r="1.6"/><circle cx="162.3" cy="557.9" r="1.6"/><circle cx="113.4" cy="608.4" r="1.6"/><circle cx="119.7" cy="603.0" r="1.6"/><circle cx="128.2" cy="592.6" r="1.6"/><circle cx="110.8" cy="604.9" r="1.6"/><circle cx="144.0" cy="580.9" r="1.6"/><circle cx="151.9" cy="576.3" r="1.6"/><circle cx="105.9" cy="627.9" r="1.6"/><circle cx="121.2" cy="612.3" r="1.6"/><circle cx="127.8" cy="599.0" r="1.6"/><circle cx="108.0" cy="620.4" r="1.6"/><circle cx="94.3" cy="636.8" r="1.6"/><circle cx="172.7" cy="547.4" r="1.6"/><circle cx="163.8" cy="562.0" r="1.6"/><circle cx="176.4" cy="564.5" r="1.6"/><circle cx="116.0" cy="603.0" r="1.6"/><circle cx="121.5" cy="605.9" r="1.6"/><circle cx="168.7" cy="554.9" r="1.6"/><circle cx="108.1" cy="628.3" r="1.6"/><circle cx="108.8" cy="624.9" r="1.6"/><circle cx="129.1" cy="597.5" r="1.6"/><circle cx="136.0" cy="589.1" r="1.6"/><circle cx="122.5" cy="596.7" r="1.6"/><circle cx="185.2" cy="548.8" r="1.6"/><circle cx="173.7" cy="545.8" r="1.6"/><circle cx="190.8" cy="532.6" r="1.6"/><circle cx="163.1" cy="564.3" r="1.6"/><circle cx="94.8" cy="625.8" r="1.6"/><circle cx="97.3" cy="643.7" r="1.6"/><circle cx="115.4" cy="602.0" r="1.6"/><circle cx="108.4" cy="609.5" r="1.6"/><circle cx="159.4" cy="594.9" r="1.6"/><circle cx="110.1" cy="612.3" r="1.6"/><circle cx="152.2" cy="574.0" r="1.6"/><circle cx="163.7" cy="557.2" r="1.6"/><circle cx="85.2" cy="650.7" r="1.6"/><circle cx="186.5" cy="532.8" r="1.6"/><circle cx="92.6" cy="623.9" r="1.6"/><circle cx="125.2" cy="618.0" r="1.6"/><circle cx="148.0" cy="574.7" r="1.6"/><circle cx="184.6" cy="534.8" r="1.6"/><circle cx="153.7" cy="567.7" r="1.6"/><circle cx="189.0" cy="532.3" r="1.6"/><circle cx="113.4" cy="611.8" r="1.6"/><circle cx="90.7" cy="645.3" r="1.6"/><circle cx="93.0" cy="634.9" r="1.6"/><circle cx="164.0" cy="567.2" r="1.6"/><circle cx="198.9" cy="522.2" r="1.6"/><circle cx="97.4" cy="641.8" r="1.6"/><circle cx="159.1" cy="588.4" r="1.6"/><circle cx="103.2" cy="631.5" r="1.6"/><circle cx="134.2" cy="594.2" r="1.6"/><circle cx="180.6" cy="536.2" r="1.6"/><circle cx="107.1" cy="627.6" r="1.6"/><circle cx="204.7" cy="539.1" r="1.6"/><circle cx="105.0" cy="651.1" r="1.6"/><circle cx="132.3" cy="584.6" r="1.6"/><circle cx="123.7" cy="601.9" r="1.6"/><circle cx="174.4" cy="546.3" r="1.6"/><circle cx="110.6" cy="621.5" r="1.6"/><circle cx="167.3" cy="549.4" r="1.6"/><circle cx="104.3" cy="615.2" r="1.6"/><circle cx="109.9" cy="620.7" r="1.6"/><circle cx="138.4" cy="590.7" r="1.6"/><circle cx="202.7" cy="529.6" r="1.6"/><circle cx="159.6" cy="593.1" r="1.6"/><circle cx="118.9" cy="606.6" r="1.6"/><circle cx="91.1" cy="641.4" r="1.6"/><circle cx="107.2" cy="637.5" r="1.6"/><circle cx="117.2" cy="623.3" r="1.6"/><circle cx="89.8" cy="637.2" r="1.6"/><circle cx="113.1" cy="613.9" r="1.6"/><circle cx="147.9" cy="570.4" r="1.6"/><circle cx="117.8" cy="600.0" r="1.6"/><circle cx="105.8" cy="627.3" r="1.6"/><circle cx="106.4" cy="616.5" r="1.6"/><circle cx="197.1" cy="531.0" r="1.6"/><circle cx="180.7" cy="541.6" r="1.6"/><circle cx="146.9" cy="581.0" r="1.6"/><circle cx="111.7" cy="620.3" r="1.6"/><circle cx="142.6" cy="581.8" r="1.6"/><circle cx="128.7" cy="620.9" r="1.6"/><circle cx="193.3" cy="528.2" r="1.6"/><circle cx="149.2" cy="579.6" r="1.6"/></g>
<circle cx="62.9" cy="592.7" r="1.6" fill="#be1016" stroke="#480000" stroke-width="0.6"/>
<circle cx="62.9" cy="592.7" r="3.9" fill="none" stroke="#f2e21c" stroke-width="1.8"/>
<circle cx="51.6" cy="570.3" r="1.6" fill="#be1016" stroke="#480000" stroke-width="0.6"/>
<circle cx="51.6" cy="570.3" r="3.6" fill="none" stroke="#1a1ad0" stroke-width="2.1"/>
<circle cx="168.5" cy="574.3" r="1.4" fill="#7ad86a" stroke="#3a7a3a" stroke-width="0.5"/>
<circle cx="168.5" cy="574.3" r="3.6" fill="none" stroke="#2c2c8c" stroke-width="2.1"/>
<circle cx="164.3" cy="587.2" r="1.4" fill="#7ad86a" stroke="#3a7a3a" stroke-width="0.5"/>
<circle cx="164.3" cy="587.2" r="3.6" fill="none" stroke="#2c2c8c" stroke-width="2.1"/>
<circle cx="129.7" cy="608.5" r="1.4" fill="#7ad86a" stroke="#3a7a3a" stroke-width="0.5"/>
<circle cx="129.7" cy="608.5" r="3.6" fill="none" stroke="#2c2c8c" stroke-width="2.1"/>
<text x="179.80" y="578.20" font-size="12" font-weight="bold" font-style="italic" fill="#343a86">Mthfd2</text>
<text x="175.00" y="600.30" font-size="11.8" font-weight="bold" font-style="italic" fill="#343a86">Trib3</text>
<text x="134.00" y="624.20" font-size="12" font-weight="bold" font-style="italic" fill="#343a86">Ddit3</text>
<text x="111.20" y="32.20" font-size="14" font-weight="bold" fill="#000" word-spacing="1.8">0 hr</text>
<text x="60.00" y="42.50" font-size="14" font-weight="bold" text-anchor="middle" fill="#cc1f26">159</text>
<text x="209.70" y="205.60" font-size="14" font-weight="bold" text-anchor="middle" fill="#2a8a2a">149</text>
<text x="110.80" y="260.00" font-size="14" font-weight="bold" fill="#000" word-spacing="1.8">2 hr</text>
<text x="58.20" y="263.10" font-size="14" font-weight="bold" text-anchor="middle" fill="#cc1f26">124</text>
<text x="206.05" y="426.00" font-size="14" font-weight="bold" text-anchor="middle" fill="#2a8a2a">94</text>
<text x="111.80" y="479.20" font-size="14" font-weight="bold" fill="#000" word-spacing="1.8">12 hr</text>
<text x="56.15" y="486.90" font-size="14" font-weight="bold" text-anchor="middle" fill="#cc1f26">357</text>
<text x="201.65" y="648.60" font-size="14" font-weight="bold" text-anchor="middle" fill="#2a8a2a">613</text>
<text x="8.90" y="345.25" font-size="12.5" text-anchor="middle" fill="#000" transform="rotate(-90 8.9 345.25)">Control, probe log intensity</text>
<text x="120.95" y="688.40" font-size="12.5" text-anchor="middle" fill="#000">CKO, probe log intensity</text>
<text x="401.55" y="37.50" font-size="14" font-weight="bold" text-anchor="middle" fill="#000">BCR-induced genes</text>
<path d="M287.7 107.2L292.2 103.9L296.7 101.1L301.1 98.1L305.6 95.0L310.1 91.6L314.6 87.7L319.1 83.2L323.6 79.6L328.0 75.3L332.5 71.1L337.0 66.3L341.7 70.0L346.3 73.6L351.0 76.7L355.7 79.7L360.4 83.1L365.0 85.7L369.7 88.5L374.4 90.8L379.1 93.4L383.7 95.5L388.4 96.9L388.4 142.0L383.7 137.2L379.1 131.8L374.4 127.5L369.7 123.3L365.0 119.1L360.4 114.5L355.7 109.9L351.0 105.3L346.3 101.3L341.7 98.7L337.0 96.3L332.5 99.0L328.0 101.9L323.6 105.9L319.1 110.7L314.6 115.9L310.1 121.1L305.6 125.7L301.1 130.5L296.7 136.1L292.2 141.3L287.7 145.9Z" fill="#d1d1d1"/>
<path d="M287.7 122.4L337 87.1L388.4 135.3M287.7 109.9L337 66.9L388.4 104.2M287.7 111.3L337 83.6L388.4 101.5M287.7 117.0L337 86.7L388.4 125.5M287.7 116.1L337 75.2L388.4 104.1M287.7 143.0L337 97.0L388.4 134.3M287.7 118.3L337 82.5L388.4 103.0M287.7 143.5L337 96.2L388.4 144.7M287.7 104.7L337 83.3L388.4 110.6M287.7 110.0L337 83.8L388.4 131.0M287.7 118.0L337 89.9L388.4 134.4M287.7 120.5L337 67.0L388.4 107.7M287.7 126.1L337 72.2L388.4 124.4M287.7 119.0L337 62.0L388.4 102.0M287.7 113.5L337 81.7L388.4 113.4M287.7 143.7L337 97.0L388.4 115.0M287.7 142.6L337 95.9L388.4 144.9M287.7 107.4L337 70.3L388.4 103.7M287.7 113.2L337 88.7L388.4 142.0M287.7 109.9L337 73.7L388.4 120.4M287.7 125.2L337 87.8L388.4 141.3M287.7 145.1L337 71.6L388.4 138.4M287.7 126.1L337 74.1L388.4 94.8M287.7 129.3L337 86.8L388.4 116.6M287.7 117.6L337 82.4L388.4 129.9M287.7 134.6L337 85.7L388.4 138.8M287.7 152.0L337 84.9L388.4 124.2M287.7 113.2L337 90.7L388.4 104.9M287.7 119.5L337 65.8L388.4 104.2M287.7 111.1L337 75.0L388.4 105.7M287.7 108.0L337 88.0L388.4 118.7M287.7 113.7L337 70.1L388.4 94.8M287.7 120.5L337 92.2L388.4 142.3M287.7 106.2L337 79.1L388.4 101.6M287.7 114.4L337 82.3L388.4 98.4M287.7 136.7L337 77.8L388.4 111.0M287.7 138.1L337 90.7L388.4 125.1M287.7 126.5L337 97.0L388.4 138.2M287.7 108.9L337 91.3L388.4 114.7M287.7 148.1L337 82.3L388.4 131.1M287.7 152.0L337 88.4L388.4 146.8M287.7 117.7L337 73.4L388.4 102.7M287.7 140.5L337 89.6L388.4 133.4M287.7 110.6L337 79.3L388.4 121.1M287.7 113.3L337 71.4L388.4 98.4M287.7 109.8L337 76.3L388.4 110.8M287.7 114.3L337 78.6L388.4 94.8M287.7 118.0L337 80.9L388.4 111.0M287.7 145.7L337 97.0L388.4 129.5M287.7 114.2L337 83.3L388.4 110.6M287.7 123.8L337 82.4L388.4 106.7M287.7 127.3L337 86.3L388.4 109.2M287.7 120.3L337 87.4L388.4 113.0M287.7 119.9L337 97.0L388.4 119.2M287.7 119.3L337 94.3L388.4 127.3M287.7 115.6L337 84.5L388.4 129.9M287.7 120.1L337 70.1L388.4 116.6M287.7 117.7L337 74.1L388.4 100.8M287.7 138.6L337 85.4L388.4 109.3M287.7 113.1L337 80.6L388.4 118.3M287.7 114.1L337 80.1L388.4 137.0M287.7 125.8L337 93.4L388.4 94.8M287.7 130.1L337 66.8L388.4 108.3M287.7 134.4L337 89.7L388.4 146.8M287.7 119.6L337 62.0L388.4 106.5M287.7 128.3L337 83.4L388.4 132.4M287.7 136.9L337 91.1L388.4 127.5M287.7 131.1L337 75.9L388.4 108.2M287.7 110.4L337 78.0L388.4 113.6M287.7 119.0L337 92.3L388.4 111.1M287.7 109.3L337 96.6L388.4 118.4M287.7 144.7L337 86.1L388.4 129.4M287.7 119.6L337 87.8L388.4 112.3M287.7 117.2L337 92.8L388.4 104.1M287.7 117.9L337 79.9L388.4 131.5M287.7 129.5L337 87.0L388.4 96.6M287.7 114.4L337 73.1L388.4 101.5M287.7 152.0L337 86.6L388.4 135.2M287.7 118.8L337 75.1L388.4 110.8M287.7 119.0L337 84.8L388.4 108.8M287.7 110.8L337 87.8L388.4 115.2M287.7 124.7L337 84.3L388.4 120.2M287.7 118.8L337 62.0L388.4 105.3M287.7 112.4L337 97.0L388.4 138.2M287.7 130.7L337 77.8L388.4 110.6M287.7 127.1L337 91.4L388.4 142.1M287.7 116.0L337 79.1L388.4 113.2M287.7 115.6L337 70.9L388.4 117.1M287.7 126.3L337 79.7L388.4 106.3M287.7 136.4L337 84.4L388.4 137.1M287.7 114.9L337 94.2L388.4 105.5M287.7 133.5L337 86.8L388.4 122.1M287.7 129.8L337 72.0L388.4 141.7M287.7 109.9L337 62.0L388.4 100.4M287.7 109.9L337 87.2L388.4 105.5M287.7 117.3L337 84.8L388.4 115.7M287.7 120.6L337 81.6L388.4 111.0M287.7 119.2L337 64.9L388.4 121.7M287.7 126.0L337 83.4L388.4 102.6M287.7 131.1L337 66.2L388.4 122.1M287.7 140.9L337 83.3L388.4 126.6M287.7 118.5L337 73.9L388.4 135.3M287.7 120.7L337 70.4L388.4 114.4M287.7 117.4L337 86.8L388.4 103.9M287.7 118.5L337 77.5L388.4 102.6M287.7 114.5L337 77.1L388.4 107.4M287.7 138.9L337 90.9L388.4 110.0M287.7 118.5L337 75.2L388.4 123.7M287.7 125.6L337 76.0L388.4 117.3M287.7 138.0L337 93.6L388.4 126.7M287.7 121.5L337 71.5L388.4 97.6M287.7 134.9L337 87.4L388.4 110.8M287.7 129.7L337 80.7L388.4 134.7M287.7 141.4L337 93.0L388.4 139.0M287.7 109.0L337 81.4L388.4 123.2M287.7 130.7L337 93.7L388.4 130.5M287.7 116.8L337 84.4L388.4 114.2M287.7 130.6L337 97.0L388.4 138.9M287.7 122.3L337 89.1L388.4 112.0M287.7 118.3L337 89.5L388.4 111.7M287.7 135.5L337 84.5L388.4 114.6M287.7 116.1L337 84.5L388.4 106.6M287.7 125.8L337 94.3L388.4 114.2M287.7 114.5L337 81.6L388.4 100.4M287.7 111.9L337 89.2L388.4 96.9M287.7 116.4L337 71.1L388.4 120.5M287.7 125.6L337 84.8L388.4 124.6M287.7 130.9L337 83.5L388.4 112.6M287.7 111.2L337 80.4L388.4 130.5M287.7 119.6L337 73.2L388.4 105.0M287.7 125.6L337 77.4L388.4 107.5M287.7 137.1L337 79.3L388.4 94.8M287.7 120.3L337 67.4L388.4 110.4M287.7 121.6L337 74.5L388.4 118.9M287.7 116.7L337 85.6L388.4 123.0M287.7 119.3L337 66.4L388.4 146.0M287.7 139.9L337 81.3L388.4 106.4M287.7 105.0L337 71.8L388.4 98.0M287.7 132.7L337 89.1L388.4 146.8M287.7 109.2L337 89.8L388.4 103.9M287.7 123.2L337 76.6L388.4 94.8M287.7 152.0L337 69.4L388.4 109.2M287.7 111.8L337 67.1L388.4 100.7M287.7 113.2L337 68.5L388.4 127.8M287.7 108.1L337 68.1L388.4 110.6M287.7 112.4L337 87.5L388.4 110.3M287.7 110.7L337 71.1L388.4 119.7M287.7 141.9L337 90.0L388.4 127.0M287.7 152.0L337 97.0L388.4 122.9M287.7 122.5L337 81.0L388.4 109.4M287.7 140.2L337 90.4L388.4 130.2M287.7 132.3L337 90.0L388.4 110.6M287.7 117.1L337 81.8L388.4 114.2M287.7 110.5L337 79.7L388.4 101.2M287.7 133.7L337 69.4L388.4 137.1M287.7 106.2L337 67.4L388.4 94.8M287.7 120.3L337 84.0L388.4 115.6M287.7 120.0L337 74.5L388.4 122.9M287.7 132.1L337 85.9L388.4 111.1M287.7 116.4L337 82.4L388.4 109.3M287.7 108.3L337 72.3L388.4 113.3M287.7 118.7L337 79.9L388.4 106.3M287.7 129.0L337 71.2L388.4 108.7M287.7 118.7L337 90.8L388.4 113.7M287.7 126.1L337 85.5L388.4 131.7M287.7 117.5L337 88.1L388.4 101.7M287.7 145.6L337 86.0L388.4 117.8M287.7 105.0L337 77.9L388.4 129.6M287.7 120.4L337 84.7L388.4 125.4M287.7 123.5L337 92.0L388.4 120.7M287.7 145.2L337 80.9L388.4 114.8M287.7 129.8L337 72.3L388.4 116.1M287.7 148.7L337 84.6L388.4 111.3M287.7 117.7L337 85.1L388.4 129.6M287.7 105.9L337 76.6L388.4 102.4M287.7 122.0L337 89.0L388.4 102.0M287.7 135.3L337 87.0L388.4 135.3M287.7 110.4L337 84.0L388.4 113.7M287.7 144.5L337 78.2L388.4 97.5M287.7 129.6L337 72.3L388.4 117.5M287.7 151.9L337 73.0L388.4 113.3M287.7 120.5L337 84.0L388.4 146.8M287.7 114.8L337 70.5L388.4 94.8M287.7 115.0L337 78.4L388.4 105.5M287.7 119.4L337 66.6L388.4 100.9M287.7 119.9L337 89.5L388.4 128.7M287.7 104.7L337 70.3L388.4 109.7M287.7 142.7L337 70.3L388.4 111.1M287.7 114.0L337 88.0L388.4 121.4M287.7 124.1L337 83.1L388.4 137.0M287.7 125.7L337 66.1L388.4 108.8M287.7 122.7L337 93.2L388.4 102.1M287.7 135.0L337 82.3L388.4 107.8M287.7 118.3L337 74.6L388.4 116.4M287.7 104.7L337 92.0L388.4 120.7M287.7 141.4L337 94.7L388.4 130.7M287.7 146.3L337 90.7L388.4 118.1M287.7 126.9L337 77.7L388.4 131.7M287.7 112.7L337 79.8L388.4 122.2M287.7 113.9L337 88.8L388.4 113.1M287.7 130.9L337 91.4L388.4 110.7M287.7 136.2L337 81.4L388.4 109.1M287.7 112.9L337 89.8L388.4 104.7M287.7 122.2L337 74.0L388.4 118.8M287.7 143.5L337 88.5L388.4 109.6M287.7 140.0L337 85.3L388.4 125.9M287.7 135.0L337 88.9L388.4 122.7M287.7 125.2L337 87.8L388.4 128.0M287.7 130.1L337 85.3L388.4 110.9M287.7 122.0L337 89.3L388.4 109.7M287.7 133.4L337 88.3L388.4 127.4M287.7 126.5L337 82.9L388.4 131.0M287.7 119.9L337 87.6L388.4 104.3M287.7 124.9L337 88.7L388.4 132.0M287.7 116.2L337 79.5L388.4 110.1M287.7 112.0L337 62.0L388.4 111.8M287.7 115.1L337 72.4L388.4 113.0M287.7 121.9L337 81.5L388.4 127.6M287.7 134.3L337 78.5L388.4 122.9M287.7 106.5L337 73.9L388.4 109.3M287.7 171.0L337 52.7L388.4 100.0M287.7 165.0L337 54.0L388.4 104.0M287.7 156.0L337 60.0L388.4 98.0" fill="none" stroke="#cbcbcb" stroke-width="0.6" stroke-linejoin="round"/>
<path d="M287.7 120.5L337 82.5L388.4 113.75" fill="none" stroke="#d8283a" stroke-width="1.35"/>
<path d="M405.5 105.4L410.0 102.1L414.6 99.3L419.1 96.4L423.7 93.7L428.2 90.0L432.8 85.1L437.3 81.0L441.9 75.8L446.4 70.7L451.0 65.9L455.5 60.4L460.2 62.7L464.9 65.4L469.5 67.6L474.2 69.0L478.9 69.6L483.6 70.4L488.3 70.7L493.0 70.9L497.6 71.3L502.3 71.0L507.0 70.6L507.0 103.9L502.3 101.3L497.6 99.8L493.0 98.2L488.3 96.0L483.6 94.1L478.9 93.2L474.2 92.4L469.5 91.7L464.9 91.6L460.2 91.9L455.5 92.0L451.0 94.7L446.4 98.3L441.9 101.8L437.3 106.0L432.8 111.0L428.2 115.2L423.7 119.8L419.1 124.6L414.6 130.8L410.0 136.6L405.5 142.7Z" fill="#d1d1d1"/>
<path d="M405.5 117.8L455.5 76.5L507 92.8M405.5 109.6L455.5 79.7L507 84.8M405.5 119.3L455.5 78.6L507 96.1M405.5 125.7L455.5 75.7L507 82.7M405.5 136.4L455.5 79.4L507 88.4M405.5 112.6L455.5 78.3L507 94.7M405.5 123.3L455.5 84.4L507 94.5M405.5 115.8L455.5 85.2L507 78.8M405.5 104.9L455.5 60.0L507 80.2M405.5 114.6L455.5 86.6L507 82.8M405.5 117.3L455.5 78.4L507 94.0M405.5 128.3L455.5 85.2L507 95.1M405.5 112.4L455.5 71.4L507 88.7M405.5 144.4L455.5 70.6L507 76.4M405.5 141.6L455.5 84.8L507 98.6M405.5 129.2L455.5 74.4L507 91.2M405.5 114.4L455.5 82.4L507 95.0M405.5 125.4L455.5 80.5L507 104.8M405.5 118.2L455.5 76.8L507 84.1M405.5 120.2L455.5 81.7L507 98.9M405.5 114.7L455.5 60.6L507 73.7M405.5 120.0L455.5 83.5L507 84.4M405.5 123.4L455.5 86.4L507 96.5M405.5 114.3L455.5 85.2L507 92.5M405.5 128.4L455.5 94.0L507 91.6M405.5 132.9L455.5 81.6L507 87.3M405.5 134.7L455.5 82.8L507 92.7M405.5 114.2L455.5 70.4L507 68.6M405.5 116.9L455.5 86.8L507 74.5M405.5 131.9L455.5 72.5L507 82.1M405.5 112.1L455.5 79.9L507 77.5M405.5 126.2L455.5 94.0L507 94.9M405.5 117.0L455.5 83.2L507 97.7M405.5 116.2L455.5 92.3L507 101.8M405.5 139.3L455.5 85.1L507 91.9M405.5 115.6L455.5 70.4L507 97.5M405.5 119.0L455.5 63.2L507 80.7M405.5 130.9L455.5 88.8L507 89.0M405.5 117.8L455.5 76.4L507 85.8M405.5 127.2L455.5 75.2L507 89.9M405.5 136.1L455.5 85.5L507 107.0M405.5 118.7L455.5 79.8L507 101.0M405.5 126.4L455.5 86.5L507 84.0M405.5 114.3L455.5 71.2L507 72.0M405.5 133.1L455.5 74.8L507 96.7M405.5 109.4L455.5 80.2L507 86.4M405.5 119.9L455.5 78.0L507 78.2M405.5 134.2L455.5 74.6L507 93.1M405.5 145.5L455.5 64.0L507 93.5M405.5 117.6L455.5 89.4L507 86.1M405.5 131.4L455.5 90.2L507 95.8M405.5 117.0L455.5 72.5L507 85.7M405.5 126.6L455.5 66.3L507 90.8M405.5 117.2L455.5 94.0L507 73.9M405.5 109.9L455.5 74.1L507 85.3M405.5 126.3L455.5 72.3L507 91.3M405.5 134.2L455.5 69.4L507 94.2M405.5 147.0L455.5 87.9L507 97.8M405.5 109.1L455.5 72.2L507 85.1M405.5 118.9L455.5 72.2L507 84.4M405.5 118.8L455.5 60.0L507 77.9M405.5 140.4L455.5 80.5L507 98.3M405.5 113.2L455.5 71.0L507 98.0M405.5 132.6L455.5 94.0L507 92.9M405.5 127.7L455.5 79.2L507 107.0M405.5 116.9L455.5 82.0L507 99.3M405.5 114.3L455.5 64.9L507 75.2M405.5 118.6L455.5 80.0L507 80.5M405.5 104.5L455.5 74.4L507 84.0M405.5 136.1L455.5 81.1L507 103.9M405.5 114.8L455.5 73.4L507 81.8M405.5 111.5L455.5 69.2L507 71.6M405.5 118.9L455.5 86.3L507 84.0M405.5 113.7L455.5 75.0L507 73.3M405.5 119.4L455.5 89.8L507 94.8M405.5 119.3L455.5 87.0L507 83.8M405.5 126.7L455.5 73.8L507 105.5M405.5 109.9L455.5 84.2L507 87.7M405.5 124.9L455.5 80.6L507 69.3M405.5 119.6L455.5 81.6L507 97.0M405.5 114.1L455.5 91.1L507 81.3M405.5 134.6L455.5 77.4L507 107.0M405.5 110.3L455.5 82.8L507 85.2M405.5 117.0L455.5 87.7L507 75.6M405.5 142.7L455.5 73.4L507 91.3M405.5 116.0L455.5 83.2L507 89.8M405.5 132.6L455.5 79.1L507 80.8M405.5 112.0L455.5 83.4L507 82.8M405.5 120.9L455.5 84.1L507 89.5M405.5 123.2L455.5 86.9L507 97.3M405.5 113.6L455.5 70.4L507 80.5M405.5 122.0L455.5 72.8L507 95.3M405.5 137.0L455.5 77.6L507 96.9M405.5 109.9L455.5 75.7L507 89.9M405.5 112.8L455.5 70.0L507 99.8M405.5 113.6L455.5 74.4L507 94.7M405.5 119.9L455.5 79.9L507 90.4M405.5 123.8L455.5 91.7L507 89.0M405.5 130.2L455.5 81.7L507 85.6M405.5 118.1L455.5 67.4L507 72.3M405.5 118.4L455.5 60.0L507 87.4M405.5 116.6L455.5 85.7L507 93.8M405.5 112.8L455.5 80.0L507 70.4M405.5 114.2L455.5 76.9L507 87.9M405.5 132.8L455.5 79.7L507 85.3M405.5 119.0L455.5 76.0L507 93.2M405.5 116.6L455.5 73.9L507 82.7M405.5 108.8L455.5 83.6L507 93.2M405.5 147.0L455.5 80.8L507 93.6M405.5 141.9L455.5 65.0L507 91.9M405.5 104.5L455.5 60.0L507 66.4M405.5 118.5L455.5 81.2L507 83.8M405.5 115.1L455.5 89.5L507 82.6M405.5 117.1L455.5 74.4L507 95.3M405.5 112.4L455.5 74.4L507 83.5M405.5 129.4L455.5 80.4L507 98.7M405.5 116.5L455.5 76.7L507 97.4M405.5 116.9L455.5 69.7L507 92.9M405.5 119.2L455.5 60.8L507 93.2M405.5 109.1L455.5 79.2L507 67.7M405.5 119.8L455.5 70.1L507 98.2M405.5 113.3L455.5 74.5L507 102.2M405.5 111.7L455.5 72.5L507 86.5M405.5 119.2L455.5 71.1L507 97.1M405.5 119.7L455.5 71.7L507 86.0M405.5 117.8L455.5 69.5L507 93.4M405.5 133.0L455.5 89.1L507 102.0M405.5 130.0L455.5 83.5L507 99.7M405.5 113.7L455.5 78.5L507 71.1M405.5 124.2L455.5 86.2L507 89.2M405.5 126.5L455.5 74.9L507 80.6M405.5 106.9L455.5 78.0L507 80.2M405.5 124.7L455.5 87.5L507 99.4M405.5 115.1L455.5 70.8L507 69.2M405.5 138.3L455.5 80.9L507 87.6M405.5 109.3L455.5 84.0L507 94.8M405.5 131.2L455.5 82.0L507 82.1M405.5 116.7L455.5 73.7L507 75.5M405.5 141.7L455.5 89.4L507 86.3M405.5 147.0L455.5 88.4L507 91.7M405.5 118.5L455.5 66.8L507 82.4M405.5 114.6L455.5 94.0L507 106.1M405.5 105.5L455.5 69.7L507 71.0M405.5 104.5L455.5 75.0L507 100.9M405.5 113.2L455.5 61.3L507 87.1M405.5 140.1L455.5 78.4L507 83.2M405.5 118.6L455.5 70.7L507 93.3M405.5 120.1L455.5 79.7L507 82.3M405.5 142.6L455.5 71.8L507 104.0M405.5 113.7L455.5 93.1L507 88.0M405.5 139.3L455.5 72.2L507 96.1M405.5 108.9L455.5 62.1L507 85.8M405.5 128.5L455.5 78.6L507 84.2M405.5 112.0L455.5 65.4L507 80.2M405.5 113.8L455.5 76.1L507 80.9M405.5 125.3L455.5 79.2L507 91.7M405.5 110.3L455.5 71.9L507 83.9M405.5 113.9L455.5 79.0L507 76.7M405.5 124.0L455.5 79.2L507 92.9M405.5 121.8L455.5 72.5L507 86.9M405.5 126.6L455.5 82.4L507 90.6M405.5 117.4L455.5 87.5L507 84.2M405.5 116.4L455.5 73.7L507 84.3M405.5 122.8L455.5 85.6L507 86.1M405.5 136.3L455.5 87.1L507 96.1M405.5 114.2L455.5 77.9L507 83.1M405.5 111.5L455.5 79.8L507 82.4M405.5 114.1L455.5 60.0L507 87.9M405.5 125.3L455.5 74.7L507 84.5M405.5 104.5L455.5 78.5L507 92.5M405.5 115.1L455.5 77.8L507 89.2M405.5 128.0L455.5 78.2L507 90.1M405.5 138.7L455.5 76.5L507 79.4M405.5 104.5L455.5 76.2L507 70.2M405.5 104.5L455.5 63.5L507 85.8M405.5 104.5L455.5 72.8L507 76.9M405.5 131.3L455.5 79.8L507 78.7M405.5 124.3L455.5 73.0L507 74.0M405.5 123.1L455.5 80.1L507 93.9M405.5 130.3L455.5 80.3L507 98.8M405.5 147.0L455.5 91.9L507 90.3M405.5 134.1L455.5 92.0L507 102.1M405.5 136.6L455.5 75.3L507 98.6M405.5 120.0L455.5 71.5L507 84.6M405.5 117.8L455.5 71.9L507 91.6M405.5 104.7L455.5 67.7L507 93.7M405.5 142.0L455.5 78.8L507 73.8M405.5 117.6L455.5 65.0L507 102.5M405.5 119.8L455.5 83.4L507 81.0M405.5 113.7L455.5 75.8L507 89.7M405.5 111.0L455.5 78.5L507 82.2M405.5 106.1L455.5 60.0L507 80.2M405.5 147.0L455.5 82.7L507 94.4M405.5 136.9L455.5 78.2L507 90.5M405.5 135.0L455.5 84.5L507 100.5M405.5 115.5L455.5 78.9L507 80.8M405.5 138.9L455.5 81.7L507 85.5M405.5 113.7L455.5 80.9L507 77.2M405.5 116.9L455.5 82.4L507 107.0M405.5 118.7L455.5 60.0L507 75.0M405.5 127.7L455.5 60.0L507 69.3M405.5 117.4L455.5 68.5L507 82.5M405.5 112.1L455.5 65.8L507 83.1M405.5 140.4L455.5 75.9L507 88.5M405.5 117.8L455.5 77.8L507 73.9M405.5 115.3L455.5 72.6L507 75.7M405.5 126.7L455.5 90.8L507 96.2M405.5 105.7L455.5 75.3L507 70.7M405.5 113.9L455.5 71.3L507 72.1M405.5 115.2L455.5 60.0L507 90.3M405.5 128.3L455.5 65.3L507 68.6M405.5 114.5L455.5 79.0L507 98.9M405.5 107.8L455.5 77.8L507 84.2M405.5 136.0L455.5 94.0L507 80.6M405.5 112.7L455.5 85.6L507 94.4M405.5 117.7L455.5 76.1L507 73.9M405.5 138.3L455.5 83.8L507 104.3M405.5 136.4L455.5 69.5L507 86.0M405.5 125.1L455.5 85.3L507 79.9M405.5 145.8L455.5 83.2L507 95.6M405.5 161.0L455.5 52.5L507 46.0M405.5 158.0L455.5 56.0L507 70.0M405.5 152.0L455.5 58.0L507 68.0" fill="none" stroke="#cbcbcb" stroke-width="0.6" stroke-linejoin="round"/>
<path d="M405.5 119.5L455.5 78L507 88" fill="none" stroke="#d8283a" stroke-width="1.35"/>
<path d="M278.5 121.1H519" stroke="#111" stroke-width="1.3" stroke-dasharray="1.1 1.0"/>
<path d="M277.5 49.5V176H519" fill="none" stroke="#000" stroke-width="1.8"/>
<text x="399.10" y="208.60" font-size="14" font-weight="bold" text-anchor="middle" fill="#000">BCR-repressed genes</text>
<path d="M289.5 214.9L293.9 220.7L298.3 226.2L302.7 232.5L307.1 239.4L311.5 245.2L316.0 251.0L320.4 256.3L324.8 260.8L329.2 265.8L333.6 270.0L338.0 274.1L342.5 271.7L347.0 268.7L351.5 266.0L356.0 262.8L360.5 259.4L365.0 255.8L369.5 251.2L374.0 246.8L378.5 241.6L383.0 237.5L387.5 232.9L387.5 277.3L383.0 277.9L378.5 279.8L374.0 281.8L369.5 283.8L365.0 286.0L360.5 289.3L356.0 292.3L351.5 295.9L347.0 299.8L342.5 303.9L338.0 308.0L333.6 302.3L329.2 296.3L324.8 290.8L320.4 286.1L316.0 281.6L311.5 277.0L307.1 273.0L302.7 269.0L298.3 265.9L293.9 263.4L289.5 260.2Z" fill="#d1d1d1"/>
<path d="M289.5 253.8L338 304.5L387.5 272.7M289.5 211.6L338 275.8L387.5 253.7M289.5 249.4L338 282.6L387.5 274.9M289.5 219.9L338 276.1L387.5 247.2M289.5 231.2L338 291.2L387.5 265.3M289.5 229.9L338 283.1L387.5 233.2M289.5 229.1L338 279.7L387.5 249.1M289.5 262.1L338 306.8L387.5 262.7M289.5 240.0L338 309.8L387.5 272.2M289.5 207.5L338 276.9L387.5 237.3M289.5 212.5L338 286.3L387.5 241.2M289.5 223.7L338 286.8L387.5 262.1M289.5 238.5L338 281.9L387.5 250.8M289.5 255.9L338 303.6L387.5 257.0M289.5 253.7L338 297.8L387.5 235.7M289.5 237.7L338 300.4L387.5 252.5M289.5 247.2L338 303.3L387.5 265.5M289.5 260.6L338 304.1L387.5 269.1M289.5 241.4L338 307.8L387.5 254.5M289.5 244.7L338 287.5L387.5 230.0M289.5 241.7L338 290.1L387.5 277.5M289.5 220.3L338 272.9L387.5 230.0M289.5 237.2L338 290.2L387.5 255.7M289.5 262.5L338 281.4L387.5 267.5M289.5 230.7L338 271.3L387.5 238.7M289.5 246.9L338 286.7L387.5 258.6M289.5 229.3L338 307.2L387.5 257.4M289.5 244.8L338 294.5L387.5 265.8M289.5 247.0L338 278.3L387.5 251.8M289.5 244.4L338 279.1L387.5 253.3M289.5 219.0L338 288.3L387.5 230.0M289.5 230.4L338 294.4L387.5 263.1M289.5 243.6L338 286.2L387.5 251.1M289.5 231.1L338 283.9L387.5 253.4M289.5 244.2L338 284.0L387.5 257.0M289.5 219.1L338 281.6L387.5 249.3M289.5 254.4L338 284.8L387.5 267.8M289.5 256.0L338 301.2L387.5 269.2M289.5 224.6L338 282.9L387.5 248.1M289.5 227.8L338 278.0L387.5 254.5M289.5 243.0L338 280.9L387.5 259.2M289.5 215.7L338 272.9L387.5 245.6M289.5 262.5L338 281.4L387.5 244.3M289.5 238.8L338 302.6L387.5 266.6M289.5 207.5L338 288.3L387.5 246.3M289.5 249.0L338 294.8L387.5 252.8M289.5 251.9L338 281.3L387.5 257.5M289.5 246.8L338 284.0L387.5 257.4M289.5 232.6L338 280.7L387.5 269.7M289.5 224.1L338 281.1L387.5 268.8M289.5 252.3L338 272.1L387.5 277.2M289.5 254.1L338 285.3L387.5 256.0M289.5 262.5L338 294.7L387.5 254.9M289.5 262.5L338 282.5L387.5 254.2M289.5 242.5L338 275.1L387.5 259.9M289.5 250.0L338 303.8L387.5 244.0M289.5 236.6L338 287.8L387.5 244.1M289.5 231.6L338 296.3L387.5 267.6M289.5 243.4L338 276.8L387.5 255.0M289.5 232.7L338 289.5L387.5 255.9M289.5 227.0L338 276.6L387.5 258.1M289.5 257.3L338 285.4L387.5 246.7M289.5 223.7L338 274.6L387.5 242.1M289.5 243.9L338 301.4L387.5 241.9M289.5 256.4L338 296.6L387.5 276.2M289.5 242.2L338 283.8L387.5 250.5M289.5 239.2L338 293.5L387.5 262.3M289.5 238.8L338 294.1L387.5 261.2M289.5 260.0L338 290.3L387.5 251.9M289.5 230.0L338 283.7L387.5 265.8M289.5 226.2L338 283.4L387.5 272.6M289.5 242.0L338 287.9L387.5 234.5M289.5 235.0L338 283.4L387.5 257.6M289.5 233.4L338 310.0L387.5 261.1M289.5 245.1L338 277.6L387.5 248.2M289.5 252.9L338 287.5L387.5 262.0M289.5 229.4L338 281.9L387.5 240.3M289.5 234.0L338 283.9L387.5 249.3M289.5 245.1L338 287.1L387.5 255.5M289.5 238.0L338 292.7L387.5 260.0M289.5 230.8L338 281.0L387.5 242.4M289.5 244.5L338 307.9L387.5 265.1M289.5 240.4L338 289.3L387.5 269.2M289.5 253.2L338 310.1L387.5 271.9M289.5 251.1L338 293.3L387.5 277.5M289.5 248.4L338 284.6L387.5 258.7M289.5 227.7L338 283.9L387.5 260.6M289.5 248.4L338 283.0L387.5 253.8M289.5 248.5L338 283.6L387.5 256.5M289.5 250.4L338 285.8L387.5 237.5M289.5 240.8L338 279.4L387.5 236.7M289.5 253.8L338 293.8L387.5 260.2M289.5 254.6L338 279.2L387.5 244.1M289.5 238.3L338 276.7L387.5 248.6M289.5 228.1L338 285.7L387.5 267.1M289.5 242.7L338 288.9L387.5 250.7M289.5 251.6L338 284.3L387.5 251.7M289.5 229.1L338 290.9L387.5 240.6M289.5 253.2L338 280.9L387.5 251.5M289.5 240.3L338 308.0L387.5 254.0M289.5 255.4L338 312.0L387.5 277.5M289.5 234.4L338 279.7L387.5 259.7M289.5 254.9L338 298.5L387.5 271.9M289.5 238.1L338 286.0L387.5 250.0M289.5 244.5L338 281.8L387.5 243.8M289.5 234.1L338 299.9L387.5 258.0M289.5 238.4L338 301.7L387.5 260.7M289.5 215.6L338 285.2L387.5 256.2M289.5 248.0L338 278.8L387.5 262.7M289.5 234.1L338 290.6L387.5 244.3M289.5 215.5L338 301.7L387.5 258.9M289.5 231.0L338 311.7L387.5 262.8M289.5 240.2L338 290.0L387.5 277.5M289.5 233.4L338 285.0L387.5 251.5M289.5 243.5L338 294.9L387.5 271.8M289.5 227.1L338 278.9L387.5 262.2M289.5 248.6L338 291.5L387.5 257.1M289.5 253.5L338 288.2L387.5 268.8M289.5 262.5L338 307.8L387.5 274.8M289.5 238.1L338 272.6L387.5 243.9M289.5 251.7L338 298.2L387.5 256.6M289.5 245.9L338 284.2L387.5 240.3M289.5 240.5L338 289.1L387.5 249.2M289.5 222.6L338 278.3L387.5 263.9M289.5 253.0L338 282.4L387.5 233.7M289.5 231.7L338 299.0L387.5 254.2M289.5 247.4L338 274.2L387.5 247.5M289.5 232.9L338 280.9L387.5 263.7M289.5 259.9L338 295.7L387.5 263.9M289.5 250.2L338 279.2L387.5 267.0M289.5 224.7L338 289.0L387.5 246.8M289.5 250.9L338 292.4L387.5 258.6M289.5 244.1L338 284.3L387.5 263.1M289.5 237.7L338 281.1L387.5 250.0M289.5 220.0L338 277.1L387.5 268.4M289.5 220.1L338 279.4L387.5 242.4M289.5 262.5L338 299.5L387.5 277.5M289.5 244.4L338 278.2L387.5 242.4M289.5 252.3L338 293.2L387.5 272.9M289.5 237.3L338 295.9L387.5 270.3M289.5 228.4L338 273.7L387.5 253.5M289.5 250.5L338 290.3L387.5 252.7M289.5 249.7L338 309.7L387.5 256.9M289.5 231.8L338 284.3L387.5 260.0M289.5 244.3L338 283.5L387.5 250.9M289.5 249.3L338 291.1L387.5 263.6M289.5 259.8L338 292.1L387.5 277.5M289.5 232.2L338 280.1L387.5 248.2M289.5 246.9L338 296.5L387.5 243.8M289.5 247.6L338 299.3L387.5 276.5M289.5 228.4L338 275.0L387.5 261.9M289.5 244.9L338 294.9L387.5 250.4M289.5 207.5L338 279.5L387.5 249.0M289.5 246.0L338 283.8L387.5 253.1M289.5 207.5L338 297.9L387.5 272.1M289.5 245.6L338 271.0L387.5 258.5M289.5 244.5L338 302.6L387.5 268.6M289.5 251.0L338 300.1L387.5 277.5M289.5 242.9L338 271.0L387.5 235.0M289.5 211.8L338 282.0L387.5 230.1M289.5 243.2L338 286.3L387.5 269.6M289.5 258.9L338 297.4L387.5 263.9M289.5 217.5L338 288.1L387.5 244.7M289.5 214.3L338 284.5L387.5 256.7M289.5 249.5L338 293.6L387.5 254.0M289.5 231.3L338 300.0L387.5 258.3M289.5 249.3L338 306.7L387.5 268.2M289.5 251.2L338 274.7L387.5 246.4M289.5 237.9L338 282.6L387.5 253.5M289.5 247.7L338 282.6L387.5 260.6M289.5 228.7L338 309.0L387.5 252.0M289.5 245.9L338 287.6L387.5 263.3M289.5 234.2L338 274.0L387.5 237.7M289.5 245.7L338 282.0L387.5 263.1M289.5 217.7L338 279.7L387.5 264.3M289.5 250.3L338 293.7L387.5 238.7M289.5 252.9L338 281.5L387.5 256.7M289.5 242.8L338 281.3L387.5 277.5M289.5 247.3L338 285.6L387.5 262.2M289.5 230.5L338 299.7L387.5 262.3M289.5 244.7L338 293.9L387.5 264.2M289.5 262.5L338 289.1L387.5 248.5M289.5 227.4L338 286.5L387.5 253.7M289.5 252.0L338 278.6L387.5 257.1M289.5 245.2L338 286.1L387.5 257.7M289.5 249.9L338 291.5L387.5 259.7M289.5 227.7L338 283.2L387.5 259.7M289.5 245.4L338 278.8L387.5 277.5M289.5 228.0L338 280.5L387.5 247.3M289.5 215.0L338 276.9L387.5 246.8M289.5 245.4L338 298.3L387.5 246.4M289.5 221.9L338 303.8L387.5 261.2M289.5 250.7L338 295.3L387.5 268.5M289.5 244.6L338 292.4L387.5 234.9M289.5 214.4L338 274.3L387.5 240.3M289.5 229.6L338 286.8L387.5 261.3M289.5 236.4L338 297.3L387.5 257.5M289.5 252.9L338 281.2L387.5 230.5M289.5 245.5L338 290.2L387.5 245.8M289.5 250.6L338 289.9L387.5 261.8M289.5 251.9L338 289.6L387.5 263.7M289.5 251.5L338 285.8L387.5 277.0M289.5 250.7L338 291.3L387.5 230.0M289.5 231.3L338 276.4L387.5 230.0M289.5 247.1L338 300.8L387.5 268.4M289.5 235.9L338 291.1L387.5 257.4M289.5 248.8L338 298.6L387.5 247.6M289.5 255.3L338 304.9L387.5 257.7M289.5 225.7L338 279.9L387.5 249.5M289.5 236.5L338 289.9L387.5 254.4M289.5 252.8L338 282.9L387.5 256.9M289.5 246.2L338 294.2L387.5 250.9M289.5 248.9L338 279.9L387.5 238.2M289.5 251.7L338 294.9L387.5 243.6M289.5 249.4L338 284.7L387.5 232.1M289.5 248.6L338 286.0L387.5 265.2M289.5 220.7L338 290.7L387.5 230.4M289.5 243.9L338 309.5L387.5 271.6M289.5 246.2L338 283.7L387.5 244.8M289.5 234.1L338 287.9L387.5 246.0M289.5 250.0L338 329.0L387.5 260.0M289.5 245.0L338 324.0L387.5 262.0M289.5 248.0L338 318.0L387.5 265.0" fill="none" stroke="#cbcbcb" stroke-width="0.6" stroke-linejoin="round"/>
<path d="M289.5 242.5L338 287L387.5 256" fill="none" stroke="#d8283a" stroke-width="1.35"/>
<path d="M407.5 221.6L412.1 227.6L416.6 234.6L421.2 240.2L425.8 246.5L430.3 252.4L434.9 257.8L439.4 263.2L444.0 268.7L448.6 273.2L453.1 277.7L457.7 281.8L462.4 281.5L467.1 281.3L471.9 280.7L476.6 279.8L481.3 278.4L486.0 276.9L490.7 275.1L495.4 273.1L500.2 271.2L504.9 269.3L509.6 266.6L509.6 305.4L504.9 304.6L500.2 304.8L495.4 304.2L490.7 303.3L486.0 303.8L481.3 304.7L476.6 306.7L471.9 308.4L467.1 309.6L462.4 310.9L457.7 313.7L453.1 307.1L448.6 302.0L444.0 297.0L439.4 291.3L434.9 285.6L430.3 280.4L425.8 275.6L421.2 271.4L416.6 267.4L412.1 264.1L407.5 260.7Z" fill="#d1d1d1"/>
<path d="M407.5 244.4L457.7 291.3L509.6 270.4M407.5 246.7L457.7 294.3L509.6 279.3M407.5 256.2L457.7 313.6L509.6 282.4M407.5 246.3L457.7 288.3L509.6 269.5M407.5 260.7L457.7 301.0L509.6 288.9M407.5 248.2L457.7 300.6L509.6 279.7M407.5 220.0L457.7 291.5L509.6 271.4M407.5 232.9L457.7 286.2L509.6 273.1M407.5 247.1L457.7 288.0L509.6 267.5M407.5 243.9L457.7 289.8L509.6 266.7M407.5 233.6L457.7 296.6L509.6 267.9M407.5 230.6L457.7 289.6L509.6 283.3M407.5 232.4L457.7 288.5L509.6 302.7M407.5 243.0L457.7 298.2L509.6 287.4M407.5 254.7L457.7 296.6L509.6 279.1M407.5 249.3L457.7 301.1L509.6 292.7M407.5 252.1L457.7 287.5L509.6 272.1M407.5 243.9L457.7 289.8L509.6 274.3M407.5 258.3L457.7 304.7L509.6 272.8M407.5 253.7L457.7 291.4L509.6 276.8M407.5 255.6L457.7 289.4L509.6 273.8M407.5 235.1L457.7 295.1L509.6 311.0M407.5 247.3L457.7 281.2L509.6 276.6M407.5 230.1L457.7 284.3L509.6 273.9M407.5 250.7L457.7 279.0L509.6 272.0M407.5 250.9L457.7 312.0L509.6 277.3M407.5 253.6L457.7 289.2L509.6 270.5M407.5 263.3L457.7 306.9L509.6 283.6M407.5 228.2L457.7 286.4L509.6 282.6M407.5 240.6L457.7 290.8L509.6 288.6M407.5 264.0L457.7 303.5L509.6 301.9M407.5 230.6L457.7 287.0L509.6 279.7M407.5 230.2L457.7 298.2L509.6 275.2M407.5 247.3L457.7 306.0L509.6 277.7M407.5 250.0L457.7 299.6L509.6 278.4M407.5 258.3L457.7 294.8L509.6 278.9M407.5 251.4L457.7 291.9L509.6 280.6M407.5 246.2L457.7 301.0L509.6 287.8M407.5 234.8L457.7 286.4L509.6 274.9M407.5 245.6L457.7 294.6L509.6 274.2M407.5 251.2L457.7 287.2L509.6 290.7M407.5 243.3L457.7 295.0L509.6 275.0M407.5 246.9L457.7 283.8L509.6 274.6M407.5 245.1L457.7 282.4L509.6 296.8M407.5 241.7L457.7 302.9L509.6 301.9M407.5 252.1L457.7 286.2L509.6 296.0M407.5 237.0L457.7 295.7L509.6 288.4M407.5 243.0L457.7 302.9L509.6 272.0M407.5 241.9L457.7 291.6L509.6 296.1M407.5 238.4L457.7 301.7L509.6 304.9M407.5 236.7L457.7 288.3L509.6 273.5M407.5 253.9L457.7 302.3L509.6 281.5M407.5 246.8L457.7 318.0L509.6 287.6M407.5 248.2L457.7 286.6L509.6 269.8M407.5 252.2L457.7 294.9L509.6 270.8M407.5 243.8L457.7 288.5L509.6 274.4M407.5 223.9L457.7 284.6L509.6 286.2M407.5 245.8L457.7 300.4L509.6 273.2M407.5 245.4L457.7 291.8L509.6 286.6M407.5 260.9L457.7 287.1L509.6 276.1M407.5 245.6L457.7 312.9L509.6 283.4M407.5 225.7L457.7 279.0L509.6 270.8M407.5 247.7L457.7 300.2L509.6 271.1M407.5 245.5L457.7 310.8L509.6 281.2M407.5 238.5L457.7 296.0L509.6 266.0M407.5 228.6L457.7 281.3L509.6 278.1M407.5 247.1L457.7 279.0L509.6 265.4M407.5 247.7L457.7 305.6L509.6 299.7M407.5 226.0L457.7 285.7L509.6 273.2M407.5 249.7L457.7 297.1L509.6 270.1M407.5 255.0L457.7 299.3L509.6 284.1M407.5 246.1L457.7 291.3L509.6 272.0M407.5 249.1L457.7 302.9L509.6 301.4M407.5 242.9L457.7 288.6L509.6 275.4M407.5 251.2L457.7 282.9L509.6 273.1M407.5 247.4L457.7 295.4L509.6 268.5M407.5 220.0L457.7 284.3L509.6 286.1M407.5 253.5L457.7 300.4L509.6 272.5M407.5 220.0L457.7 280.1L509.6 268.8M407.5 248.8L457.7 299.0L509.6 300.8M407.5 247.2L457.7 309.1L509.6 279.2M407.5 237.9L457.7 302.7L509.6 270.0M407.5 241.7L457.7 310.4L509.6 277.0M407.5 264.0L457.7 294.8L509.6 311.0M407.5 234.9L457.7 283.7L509.6 273.0M407.5 247.1L457.7 314.3L509.6 295.4M407.5 245.3L457.7 285.8L509.6 288.1M407.5 220.0L457.7 279.0L509.6 292.1M407.5 248.0L457.7 286.8L509.6 284.3M407.5 243.1L457.7 287.1L509.6 271.4M407.5 246.0L457.7 288.6L509.6 277.2M407.5 231.0L457.7 313.9L509.6 273.7M407.5 246.0L457.7 297.2L509.6 290.2M407.5 243.1L457.7 294.1L509.6 276.5M407.5 244.1L457.7 294.3L509.6 277.8M407.5 247.4L457.7 286.6L509.6 268.8M407.5 233.3L457.7 292.6L509.6 275.5M407.5 251.1L457.7 289.6L509.6 286.7M407.5 236.6L457.7 293.9L509.6 271.0M407.5 220.0L457.7 304.0L509.6 285.9M407.5 255.1L457.7 314.0L509.6 303.8M407.5 251.2L457.7 295.7L509.6 275.2M407.5 257.7L457.7 307.5L509.6 292.2M407.5 245.7L457.7 291.9L509.6 281.6M407.5 246.3L457.7 317.5L509.6 292.1M407.5 262.1L457.7 299.2L509.6 280.7M407.5 248.6L457.7 308.8L509.6 265.8M407.5 253.5L457.7 306.3L509.6 269.7M407.5 245.3L457.7 305.9L509.6 284.6M407.5 237.2L457.7 288.6L509.6 296.1M407.5 239.2L457.7 283.9L509.6 284.0M407.5 257.5L457.7 294.6L509.6 296.4M407.5 246.4L457.7 305.7L509.6 289.1M407.5 226.6L457.7 283.0L509.6 278.6M407.5 221.4L457.7 288.5L509.6 299.6M407.5 231.1L457.7 294.4L509.6 276.7M407.5 235.6L457.7 295.4L509.6 269.4M407.5 248.1L457.7 296.7L509.6 269.0M407.5 246.4L457.7 286.7L509.6 290.0M407.5 259.2L457.7 292.5L509.6 304.5M407.5 249.8L457.7 301.8L509.6 293.7M407.5 240.0L457.7 306.1L509.6 292.5M407.5 262.3L457.7 310.8L509.6 275.4M407.5 249.0L457.7 300.2L509.6 273.2M407.5 247.7L457.7 294.5L509.6 292.2M407.5 255.8L457.7 311.7L509.6 296.0M407.5 224.8L457.7 292.0L509.6 271.0M407.5 258.0L457.7 303.5L509.6 270.8M407.5 233.5L457.7 290.1L509.6 264.0M407.5 237.9L457.7 292.1L509.6 274.5M407.5 249.5L457.7 285.4L509.6 311.0M407.5 233.0L457.7 287.2L509.6 274.4M407.5 243.7L457.7 288.4L509.6 311.0M407.5 237.6L457.7 299.3L509.6 280.3M407.5 241.9L457.7 284.0L509.6 287.1M407.5 243.3L457.7 290.1L509.6 290.1M407.5 227.5L457.7 302.4L509.6 298.7M407.5 241.5L457.7 291.9L509.6 280.1M407.5 256.2L457.7 298.3L509.6 271.1M407.5 255.8L457.7 298.3L509.6 285.4M407.5 244.9L457.7 307.3L509.6 275.1M407.5 226.4L457.7 303.8L509.6 273.9M407.5 247.6L457.7 292.1L509.6 270.7M407.5 241.6L457.7 308.8L509.6 262.7M407.5 242.1L457.7 290.4L509.6 273.6M407.5 230.0L457.7 285.7L509.6 303.0M407.5 247.9L457.7 285.3L509.6 286.9M407.5 253.0L457.7 286.0L509.6 301.8M407.5 241.7L457.7 282.9L509.6 286.3M407.5 249.3L457.7 310.3L509.6 308.5M407.5 257.3L457.7 294.8L509.6 286.9M407.5 251.2L457.7 314.3L509.6 292.8M407.5 227.6L457.7 284.6L509.6 277.5M407.5 241.8L457.7 292.4L509.6 278.0M407.5 220.0L457.7 283.2L509.6 283.2M407.5 264.0L457.7 315.6L509.6 302.0M407.5 243.8L457.7 285.0L509.6 271.1M407.5 239.7L457.7 284.6L509.6 305.7M407.5 243.7L457.7 292.9L509.6 287.8M407.5 260.8L457.7 296.4L509.6 305.3M407.5 225.0L457.7 285.4L509.6 270.1M407.5 228.8L457.7 299.0L509.6 275.9M407.5 264.0L457.7 290.6L509.6 286.2M407.5 228.0L457.7 290.3L509.6 272.7M407.5 249.8L457.7 283.8L509.6 296.4M407.5 254.4L457.7 284.3L509.6 274.1M407.5 235.6L457.7 313.6L509.6 291.1M407.5 239.6L457.7 292.5L509.6 267.0M407.5 237.6L457.7 285.7L509.6 275.9M407.5 238.9L457.7 291.2L509.6 273.9M407.5 255.7L457.7 279.3L509.6 276.7M407.5 244.9L457.7 290.8L509.6 277.1M407.5 237.5L457.7 281.9L509.6 279.3M407.5 234.5L457.7 288.8L509.6 271.2M407.5 232.1L457.7 292.4L509.6 263.6M407.5 241.8L457.7 290.8L509.6 275.2M407.5 250.1L457.7 300.0L509.6 274.4M407.5 230.8L457.7 291.1L509.6 275.9M407.5 246.3L457.7 311.5L509.6 295.3M407.5 241.4L457.7 295.6L509.6 280.0M407.5 253.1L457.7 310.0L509.6 286.3M407.5 250.8L457.7 298.1L509.6 280.8M407.5 251.5L457.7 302.4L509.6 273.3M407.5 234.4L457.7 282.4L509.6 267.9M407.5 244.8L457.7 300.1L509.6 275.4M407.5 249.1L457.7 318.0L509.6 311.0M407.5 251.8L457.7 289.4L509.6 268.1M407.5 240.9L457.7 305.3L509.6 273.4M407.5 249.3L457.7 298.2L509.6 277.3M407.5 246.5L457.7 290.3L509.6 262.7M407.5 244.2L457.7 297.1L509.6 279.4M407.5 235.6L457.7 281.5L509.6 283.5M407.5 241.0L457.7 306.6L509.6 273.2M407.5 247.4L457.7 300.5L509.6 275.2M407.5 238.4L457.7 289.5L509.6 267.7M407.5 220.0L457.7 293.9L509.6 277.4M407.5 223.7L457.7 298.1L509.6 271.9M407.5 228.7L457.7 292.9L509.6 272.3M407.5 249.7L457.7 291.2L509.6 303.3M407.5 234.9L457.7 298.9L509.6 277.0M407.5 246.1L457.7 304.7L509.6 276.1M407.5 233.5L457.7 305.8L509.6 271.0M407.5 230.0L457.7 287.1L509.6 273.0M407.5 220.0L457.7 293.2L509.6 274.6M407.5 236.7L457.7 298.3L509.6 272.1M407.5 242.9L457.7 288.1L509.6 301.4M407.5 224.5L457.7 304.3L509.6 266.5M407.5 240.9L457.7 318.0L509.6 286.9M407.5 242.3L457.7 302.0L509.6 273.8M407.5 250.0L457.7 292.0L509.6 265.6M407.5 248.3L457.7 289.9L509.6 280.3M407.5 221.6L457.7 284.4L509.6 273.3M407.5 245.8L457.7 302.0L509.6 298.5M407.5 233.1L457.7 296.7L509.6 282.0M407.5 238.1L457.7 306.9L509.6 311.0M407.5 228.9L457.7 298.7L509.6 282.1M407.5 255.8L457.7 307.6L509.6 311.0M407.5 253.5L457.7 308.0L509.6 300.4M407.5 251.6L457.7 292.3L509.6 287.8M407.5 260.2L457.7 311.2L509.6 298.1M407.5 250.0L457.7 330.8L509.6 300.0M407.5 255.0L457.7 326.0L509.6 305.0M407.5 252.0L457.7 322.0L509.6 308.0" fill="none" stroke="#cbcbcb" stroke-width="0.6" stroke-linejoin="round"/>
<path d="M407.5 244.5L457.7 293L509.6 277.7" fill="none" stroke="#d8283a" stroke-width="1.35"/>
<path d="M279.5 242.6H519" stroke="#111" stroke-width="1.3" stroke-dasharray="1.1 1.0"/>
<path d="M278.5 212V337.5H520" fill="none" stroke="#000" stroke-width="1.8"/>
<text x="268.80" y="183.50" font-size="12.3" text-anchor="middle" fill="#000" transform="rotate(-90 268.8 183.5)">probe log intensity</text>
<text x="291.20" y="359.30" font-size="12" font-weight="bold" text-anchor="middle" fill="#000">0</text>
<text x="337.00" y="359.30" font-size="12" font-weight="bold" text-anchor="middle" fill="#000">2</text>
<text x="385.00" y="359.30" font-size="12" font-weight="bold" text-anchor="middle" fill="#000">12</text>
<text x="411.20" y="359.30" font-size="12" font-weight="bold" text-anchor="middle" fill="#000">0</text>
<text x="457.00" y="359.30" font-size="12" font-weight="bold" text-anchor="middle" fill="#000">2</text>
<text x="505.00" y="359.30" font-size="12" font-weight="bold" text-anchor="middle" fill="#000">12</text>
<path d="M283.7 371H391.3M404.5 371H512" stroke="#000" stroke-width="1.8"/>
<text x="335.60" y="389.00" font-size="14" font-weight="bold" text-anchor="middle" fill="#000">Ctrl</text>
<text x="460.50" y="389.00" font-size="13.8" font-weight="bold" text-anchor="middle" fill="#000">CKO</text>
<path d="M284.2 433.8V536.0H385.4" fill="none" stroke="#000" stroke-width="1.8"/>
<path d="M280.59999999999997 536.00H284.2" stroke="#000" stroke-width="1.5"/>
<text x="279.00" y="538.90" font-size="8" font-weight="bold" text-anchor="end" fill="#000">0</text>
<path d="M280.59999999999997 521.63H284.2" stroke="#000" stroke-width="1.5"/>
<text x="279.00" y="524.53" font-size="8" font-weight="bold" text-anchor="end" fill="#000">20</text>
<path d="M280.59999999999997 507.26H284.2" stroke="#000" stroke-width="1.5"/>
<text x="279.00" y="510.16" font-size="8" font-weight="bold" text-anchor="end" fill="#000">40</text>
<path d="M280.59999999999997 492.88H284.2" stroke="#000" stroke-width="1.5"/>
<text x="279.00" y="495.78" font-size="8" font-weight="bold" text-anchor="end" fill="#000">60</text>
<path d="M280.59999999999997 478.51H284.2" stroke="#000" stroke-width="1.5"/>
<text x="279.00" y="481.41" font-size="8" font-weight="bold" text-anchor="end" fill="#000">80</text>
<path d="M280.59999999999997 464.14H284.2" stroke="#000" stroke-width="1.5"/>
<text x="279.00" y="467.04" font-size="8" font-weight="bold" text-anchor="end" fill="#000">100</text>
<path d="M280.59999999999997 449.77H284.2" stroke="#000" stroke-width="1.5"/>
<text x="279.00" y="452.67" font-size="8" font-weight="bold" text-anchor="end" fill="#000">120</text>
<path d="M280.59999999999997 435.40H284.2" stroke="#000" stroke-width="1.5"/>
<text x="279.00" y="438.30" font-size="8" font-weight="bold" text-anchor="end" fill="#000">140</text>
<rect x="287.5" y="534.42" width="12.00" height="1.58" fill="#000"/>
<rect x="302.9" y="529.71" width="10.20" height="6.29" fill="#fff" stroke="#000" stroke-width="1.8"/>
<rect x="321.2" y="523.07" width="12.30" height="12.93" fill="#000"/>
<path d="M327.35 523.07V520.19M324.15 520.19H330.55" stroke="#000" stroke-width="1.6"/>
<rect x="336.7" y="444.20" width="9.90" height="91.80" fill="#fff" stroke="#000" stroke-width="1.8"/>
<path d="M341.65 443.30V439.71M338.45 439.71H344.85" stroke="#000" stroke-width="1.6"/>
<rect x="354.9" y="532.98" width="12.10" height="3.02" fill="#000"/>
<rect x="370.59999999999997" y="472.94" width="10.00" height="63.06" fill="#fff" stroke="#000" stroke-width="1.8"/>
<path d="M375.60 472.04V461.27M372.40 461.27H378.80" stroke="#000" stroke-width="1.6"/>
<text x="293.40" y="445.60" font-size="12" font-weight="bold" font-style="italic" fill="#000">Trib3</text>
<path d="M401.3 433.5V535.0H503.8" fill="none" stroke="#000" stroke-width="1.8"/>
<path d="M397.7 535.00H401.3" stroke="#000" stroke-width="1.5"/>
<text x="396.10" y="537.90" font-size="8" font-weight="bold" text-anchor="end" fill="#000">0</text>
<path d="M397.7 520.72H401.3" stroke="#000" stroke-width="1.5"/>
<text x="396.10" y="523.62" font-size="8" font-weight="bold" text-anchor="end" fill="#000">2</text>
<path d="M397.7 506.44H401.3" stroke="#000" stroke-width="1.5"/>
<text x="396.10" y="509.34" font-size="8" font-weight="bold" text-anchor="end" fill="#000">4</text>
<path d="M397.7 492.16H401.3" stroke="#000" stroke-width="1.5"/>
<text x="396.10" y="495.06" font-size="8" font-weight="bold" text-anchor="end" fill="#000">6</text>
<path d="M397.7 477.88H401.3" stroke="#000" stroke-width="1.5"/>
<text x="396.10" y="480.78" font-size="8" font-weight="bold" text-anchor="end" fill="#000">8</text>
<path d="M397.7 463.60H401.3" stroke="#000" stroke-width="1.5"/>
<text x="396.10" y="466.50" font-size="8" font-weight="bold" text-anchor="end" fill="#000">10</text>
<path d="M397.7 449.32H401.3" stroke="#000" stroke-width="1.5"/>
<text x="396.10" y="452.22" font-size="8" font-weight="bold" text-anchor="end" fill="#000">12</text>
<path d="M397.7 435.04H401.3" stroke="#000" stroke-width="1.5"/>
<text x="396.10" y="437.94" font-size="8" font-weight="bold" text-anchor="end" fill="#000">14</text>
<rect x="405.5" y="527.86" width="12.00" height="7.14" fill="#000"/>
<rect x="420.9" y="521.62" width="9.70" height="13.38" fill="#fff" stroke="#000" stroke-width="1.8"/>
<path d="M425.75 520.72V517.51M422.55 517.51H428.95" stroke="#000" stroke-width="1.6"/>
<rect x="438.8" y="502.16" width="12.50" height="32.84" fill="#000"/>
<path d="M445.05 502.16V495.73M441.85 495.73H448.25" stroke="#000" stroke-width="1.6"/>
<rect x="453.9" y="454.50" width="10.20" height="80.50" fill="#fff" stroke="#000" stroke-width="1.8"/>
<path d="M459.00 453.60V445.75M455.80 445.75H462.20" stroke="#000" stroke-width="1.6"/>
<rect x="472.5" y="526.79" width="12.50" height="8.21" fill="#000"/>
<path d="M478.75 526.79V525.72M475.55 525.72H481.95" stroke="#000" stroke-width="1.6"/>
<rect x="487.9" y="513.77" width="10.00" height="21.23" fill="#fff" stroke="#000" stroke-width="1.8"/>
<path d="M492.90 512.87V507.51M489.70 507.51H496.10" stroke="#000" stroke-width="1.6"/>
<text x="410.00" y="445.00" font-size="12" font-weight="bold" font-style="italic" fill="#000">Ddit3</text>
<path d="M282.2 566.5V668.6H383.5" fill="none" stroke="#000" stroke-width="1.8"/>
<path d="M278.59999999999997 668.60H282.2" stroke="#000" stroke-width="1.5"/>
<text x="277.80" y="671.10" font-size="7" font-weight="bold" text-anchor="end" fill="#000">0</text>
<path d="M278.59999999999997 648.60H282.2" stroke="#000" stroke-width="1.5"/>
<text x="277.80" y="651.10" font-size="7" font-weight="bold" text-anchor="end" fill="#000">5</text>
<path d="M278.59999999999997 628.60H282.2" stroke="#000" stroke-width="1.5"/>
<text x="277.80" y="631.10" font-size="7" font-weight="bold" text-anchor="end" fill="#000">10</text>
<path d="M278.59999999999997 608.60H282.2" stroke="#000" stroke-width="1.5"/>
<text x="277.80" y="611.10" font-size="7" font-weight="bold" text-anchor="end" fill="#000">15</text>
<path d="M278.59999999999997 588.60H282.2" stroke="#000" stroke-width="1.5"/>
<text x="277.80" y="591.10" font-size="7" font-weight="bold" text-anchor="end" fill="#000">20</text>
<path d="M278.59999999999997 568.60H282.2" stroke="#000" stroke-width="1.5"/>
<text x="277.80" y="571.10" font-size="7" font-weight="bold" text-anchor="end" fill="#000">25</text>
<rect x="285.8" y="664.20" width="12.70" height="4.40" fill="#000"/>
<rect x="301.29999999999995" y="657.10" width="10.30" height="11.50" fill="#fff" stroke="#000" stroke-width="1.8"/>
<rect x="319.6" y="609.40" width="12.20" height="59.20" fill="#000"/>
<rect x="335.5" y="586.30" width="9.80" height="82.30" fill="#fff" stroke="#000" stroke-width="1.8"/>
<path d="M340.40 585.40V581.60M337.20 581.60H343.60" stroke="#000" stroke-width="1.6"/>
<rect x="353" y="651.00" width="12.30" height="17.60" fill="#000"/>
<rect x="368.29999999999995" y="619.10" width="10.40" height="49.50" fill="#fff" stroke="#000" stroke-width="1.8"/>
<path d="M373.50 618.20V606.60M370.30 606.60H376.70" stroke="#000" stroke-width="1.6"/>
<text x="292.00" y="577.00" font-size="12" font-weight="bold" font-style="italic" fill="#000">Mthfd2</text>
<path d="M401.3 566.5V668.3H503.8" fill="none" stroke="#000" stroke-width="1.8"/>
<path d="M397.7 668.30H401.3" stroke="#000" stroke-width="1.5"/>
<text x="396.90" y="670.80" font-size="7" font-weight="bold" text-anchor="end" fill="#000">0</text>
<path d="M397.7 651.50H401.3" stroke="#000" stroke-width="1.5"/>
<text x="396.90" y="654.00" font-size="7" font-weight="bold" text-anchor="end" fill="#000">2</text>
<path d="M397.7 634.70H401.3" stroke="#000" stroke-width="1.5"/>
<text x="396.90" y="637.20" font-size="7" font-weight="bold" text-anchor="end" fill="#000">4</text>
<path d="M397.7 617.90H401.3" stroke="#000" stroke-width="1.5"/>
<text x="396.90" y="620.40" font-size="7" font-weight="bold" text-anchor="end" fill="#000">6</text>
<path d="M397.7 601.10H401.3" stroke="#000" stroke-width="1.5"/>
<text x="396.90" y="603.60" font-size="7" font-weight="bold" text-anchor="end" fill="#000">8</text>
<path d="M397.7 584.30H401.3" stroke="#000" stroke-width="1.5"/>
<text x="396.90" y="586.80" font-size="7" font-weight="bold" text-anchor="end" fill="#000">10</text>
<path d="M397.7 567.50H401.3" stroke="#000" stroke-width="1.5"/>
<text x="396.90" y="570.00" font-size="7" font-weight="bold" text-anchor="end" fill="#000">12</text>
<rect x="405" y="659.56" width="12.50" height="8.74" fill="#000"/>
<rect x="420.4" y="646.10" width="10.00" height="22.20" fill="#fff" stroke="#000" stroke-width="1.8"/>
<path d="M425.40 645.20V640.58M422.20 640.58H428.60" stroke="#000" stroke-width="1.6"/>
<rect x="438.8" y="626.72" width="12.50" height="41.58" fill="#000"/>
<path d="M445.05 626.72V621.68M441.85 621.68H448.25" stroke="#000" stroke-width="1.6"/>
<rect x="453.9" y="588.98" width="10.20" height="79.32" fill="#fff" stroke="#000" stroke-width="1.8"/>
<path d="M459.00 588.08V584.30M455.80 584.30H462.20" stroke="#000" stroke-width="1.6"/>
<rect x="472" y="646.88" width="13.00" height="21.42" fill="#000"/>
<path d="M478.50 646.88V644.36M475.30 644.36H481.70" stroke="#000" stroke-width="1.6"/>
<rect x="487.9" y="584.78" width="10.00" height="83.52" fill="#fff" stroke="#000" stroke-width="1.8"/>
<path d="M492.90 583.88V573.80M489.70 573.80H496.10" stroke="#000" stroke-width="1.6"/>
<text x="410.00" y="576.30" font-size="12" font-weight="bold" font-style="italic" fill="#000">Asns</text>
<rect x="450.5" y="413" width="18.3" height="7.8" fill="#000"/>
<rect x="451.3" y="427.2" width="16.7" height="6.6" fill="#fff" stroke="#000" stroke-width="1.6"/>
<text x="471.80" y="420.20" font-size="10.2" font-weight="bold" fill="#000">Ctrl</text>
<text x="471.80" y="434.30" font-size="10.2" font-weight="bold" fill="#000">CKO</text>
<text x="261.50" y="546.30" font-size="12.4" text-anchor="middle" fill="#000" transform="rotate(-90 261.5 546.3)">Relative Expression</text>
<text x="299.70" y="687.60" font-size="11" font-weight="bold" text-anchor="middle" fill="#000">0</text>
<text x="330.50" y="687.60" font-size="11" font-weight="bold" text-anchor="middle" fill="#000">2</text>
<text x="363.50" y="687.60" font-size="11" font-weight="bold" text-anchor="middle" fill="#000">12</text>
<text x="419.50" y="687.60" font-size="11" font-weight="bold" text-anchor="middle" fill="#000">0</text>
<text x="450.00" y="687.60" font-size="11" font-weight="bold" text-anchor="middle" fill="#000">2</text>
<text x="484.50" y="687.60" font-size="11" font-weight="bold" text-anchor="middle" fill="#000">12</text>
<text x="384.80" y="705.50" font-size="12.2" font-weight="bold" text-anchor="middle" fill="#000">anti-IgM, hrs</text>
<text x="360.90" y="743.50" font-size="13.3" font-weight="bold" text-anchor="middle" fill="#000">CTRL</text>
<text x="464.90" y="743.50" font-size="13.4" font-weight="bold" text-anchor="middle" fill="#000">CKO</text>
<path d="M319.3 751.8H404M424.8 751.8H510" stroke="#000" stroke-width="1.5"/>
<text x="247.80" y="769.30" font-size="12" font-weight="bold" fill="#000">&#945;-IgM (hr)</text>
<text x="332.90" y="770.20" font-size="11" font-weight="bold" text-anchor="middle" fill="#000">0</text>
<text x="361.70" y="770.20" font-size="11" font-weight="bold" text-anchor="middle" fill="#000">2</text>
<text x="391.60" y="770.20" font-size="11" font-weight="bold" text-anchor="middle" fill="#000">14</text>
<text x="438.40" y="770.20" font-size="11" font-weight="bold" text-anchor="middle" fill="#000">0</text>
<text x="462.90" y="770.20" font-size="11" font-weight="bold" text-anchor="middle" fill="#000">2</text>
<text x="494.00" y="770.20" font-size="11" font-weight="bold" text-anchor="middle" fill="#000">14</text>
<rect x="306.6" y="780.0" width="209.6" height="36.2" fill="none" stroke="#111" stroke-width="1.4"/>
<rect x="306.6" y="824.6" width="209.6" height="26.6" fill="none" stroke="#111" stroke-width="1.4"/>
<text x="303.30" y="803.30" font-size="12.2" font-weight="bold" text-anchor="end" fill="#000">ATF4</text>
<text x="302.90" y="842.10" font-size="12" font-weight="bold" text-anchor="end" fill="#000">&#946;-tubulin</text>
<defs><filter id="bl" x="-20%" y="-100%" width="140%" height="300%"><feGaussianBlur stdDeviation="0.6"/></filter><filter id="bl2" x="-20%" y="-100%" width="140%" height="300%"><feGaussianBlur stdDeviation="0.9"/></filter></defs>
<path d="M318.8 838.0C319.8 834.9 321.8 834.9 323.8 834.9L335.5 834.9C337.5 834.9 339.5 834.9 340.5 838.0C339.5 841.1 337.5 841.1 335.5 841.1L323.8 841.1C321.8 841.1 319.8 841.1 318.8 838.0Z" fill="#0a0a0a" filter="url(#bl)"/>
<path d="M348.0 838.0C349.0 834.8 351.0 834.8 353.0 834.8L369.5 834.8C371.5 834.8 373.5 834.8 374.5 838.0C373.5 841.2 371.5 841.2 369.5 841.2L353.0 841.2C351.0 841.2 349.0 841.2 348.0 838.0Z" fill="#0a0a0a" filter="url(#bl)"/>
<path d="M378.8 840.8C379.8 837.9 381.8 837.9 383.8 837.9L398.8 837.9C400.8 837.9 402.8 837.9 403.8 840.8C402.8 843.7 400.8 843.7 398.8 843.7L383.8 843.7C381.8 843.7 379.8 843.7 378.8 840.8Z" fill="#0a0a0a" filter="url(#bl)"/>
<path d="M426.2 840.3C427.2 837.3 429.2 837.3 431.2 837.3L445.4 837.3C447.4 837.3 449.4 837.3 450.4 840.3C449.4 843.3 447.4 843.3 445.4 843.3L431.2 843.3C429.2 843.3 427.2 843.3 426.2 840.3Z" fill="#0a0a0a" filter="url(#bl)"/>
<path d="M453.0 840.3C454.0 837.2 456.0 837.2 458.0 837.2L472.3 837.2C474.3 837.2 476.3 837.2 477.3 840.3C476.3 843.4 474.3 843.4 472.3 843.4L458.0 843.4C456.0 843.4 454.0 843.4 453.0 840.3Z" fill="#0a0a0a" filter="url(#bl)"/>
<path d="M481.2 839.2C482.2 836.2 484.2 836.2 486.2 836.2L505.0 836.2C507.0 836.2 509.0 836.2 510.0 839.2C509.0 842.2 507.0 842.2 505.0 842.2L486.2 842.2C484.2 842.2 482.2 842.2 481.2 839.2Z" fill="#0a0a0a" filter="url(#bl)"/>
<path d="M455.6 797.3C456.6 795.2 458.6 795.2 460.6 795.2L469.8 795.2C471.8 795.2 473.8 795.2 474.8 797.3C473.8 799.4 471.8 799.4 469.8 799.4L460.6 799.4C458.6 799.4 456.6 799.4 455.6 797.3Z" fill="#808080" filter="url(#bl2)"/>
<path d="M321.5 805.2C322.5 804.3 324.5 804.3 326.5 804.3L326.0 804.3C328.0 804.3 330.0 804.3 331.0 805.2C330.0 806.1 328.0 806.1 326.0 806.1L326.5 806.1C324.5 806.1 322.5 806.1 321.5 805.2Z" fill="rgba(60,60,60,0.75)" filter="url(#bl)"/>
<path d="M347.0 806.0C348.0 805.1 350.0 805.1 352.0 805.1L360.0 805.1C362.0 805.1 364.0 805.1 365.0 806.0C364.0 806.9 362.0 806.9 360.0 806.9L352.0 806.9C350.0 806.9 348.0 806.9 347.0 806.0Z" fill="rgba(60,60,60,0.3)" filter="url(#bl)"/>
<path d="M382.0 806.3C383.0 805.4 385.0 805.4 387.0 805.4L393.0 805.4C395.0 805.4 397.0 805.4 398.0 806.3C397.0 807.2 395.0 807.2 393.0 807.2L387.0 807.2C385.0 807.2 383.0 807.2 382.0 806.3Z" fill="rgba(60,60,60,0.15)" filter="url(#bl)"/>
<path d="M427.0 806.3C428.0 805.4 430.0 805.4 432.0 805.4L442.0 805.4C444.0 805.4 446.0 805.4 447.0 806.3C446.0 807.2 444.0 807.2 442.0 807.2L432.0 807.2C430.0 807.2 428.0 807.2 427.0 806.3Z" fill="rgba(60,60,60,0.3)" filter="url(#bl)"/>
<path d="M455.0 806.0C456.0 805.1 458.0 805.1 460.0 805.1L471.0 805.1C473.0 805.1 475.0 805.1 476.0 806.0C475.0 806.9 473.0 806.9 471.0 806.9L460.0 806.9C458.0 806.9 456.0 806.9 455.0 806.0Z" fill="rgba(60,60,60,0.35)" filter="url(#bl)"/>
<path d="M485.0 806.3C486.0 805.4 488.0 805.4 490.0 805.4L503.0 805.4C505.0 805.4 507.0 805.4 508.0 806.3C507.0 807.2 505.0 807.2 503.0 807.2L490.0 807.2C488.0 807.2 486.0 807.2 485.0 806.3Z" fill="rgba(60,60,60,0.25)" filter="url(#bl)"/>
</g>
</svg>
</body></html>
